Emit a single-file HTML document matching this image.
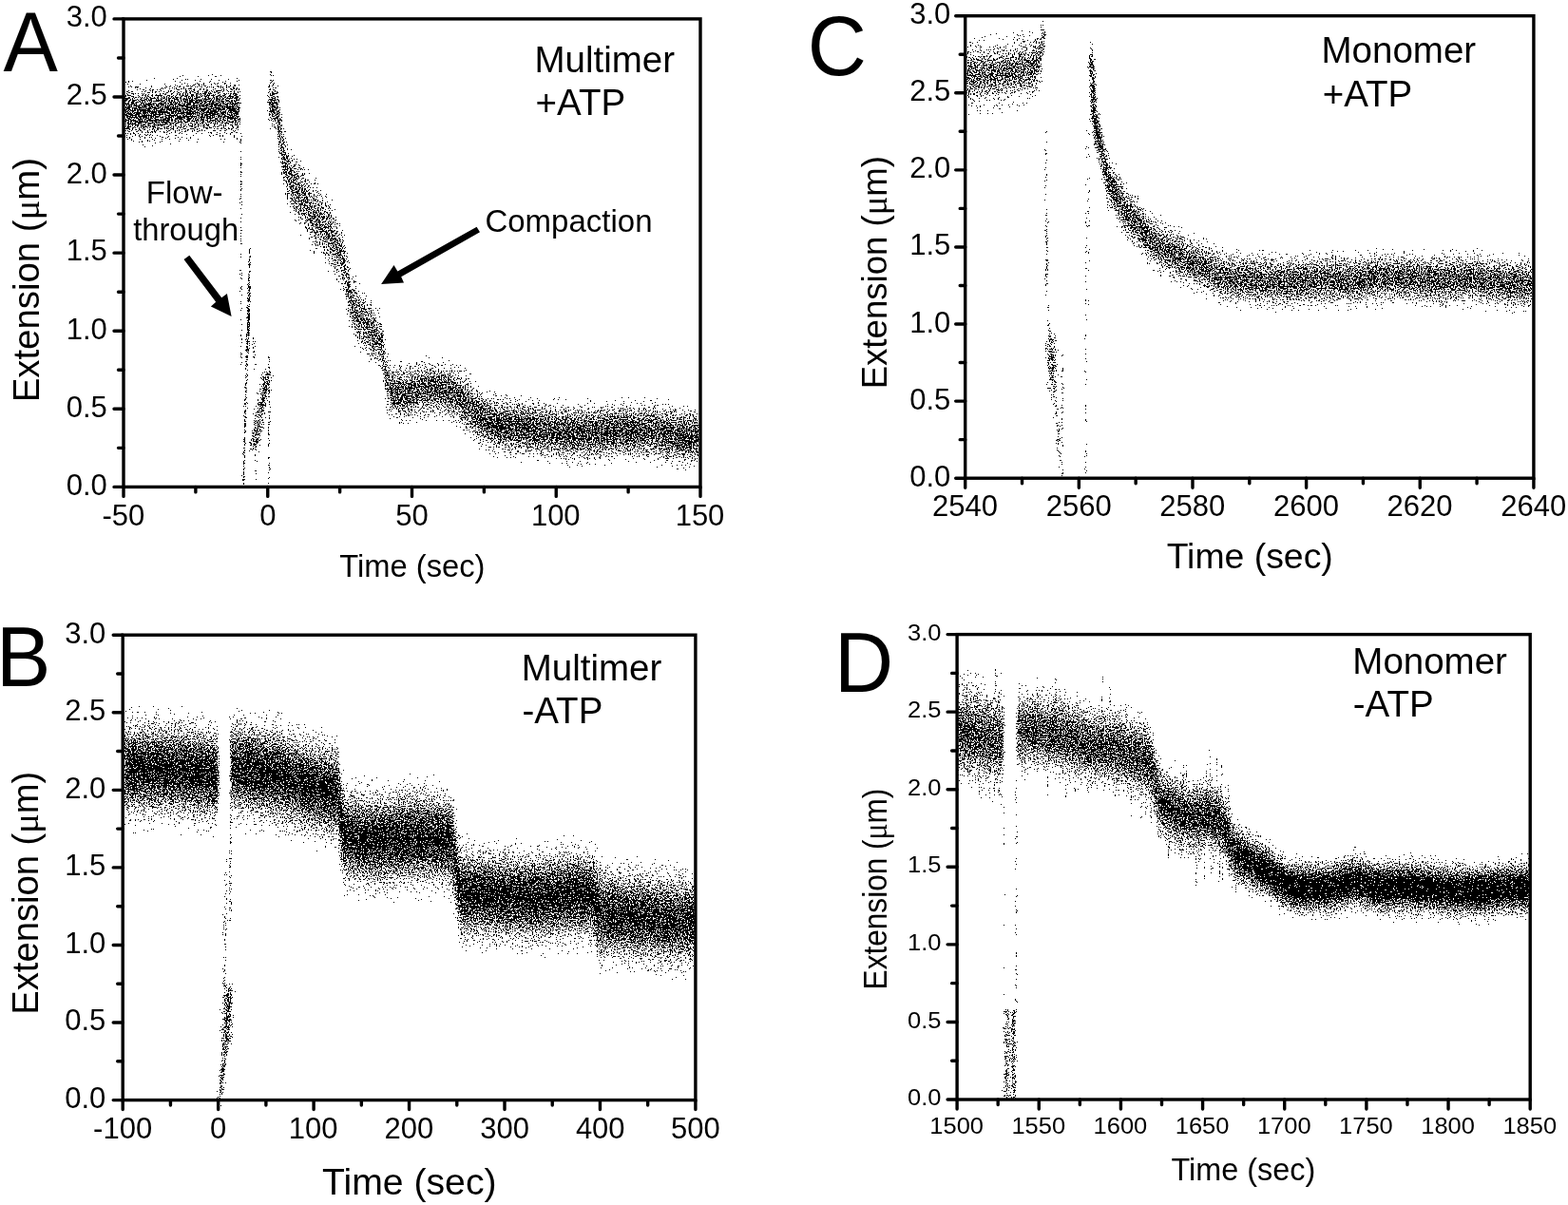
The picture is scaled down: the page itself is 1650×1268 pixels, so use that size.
<!DOCTYPE html>
<html><head><meta charset="utf-8"><title>Figure</title>
<style>html,body{margin:0;padding:0;background:#fff;}svg{display:block;}</style>
</head><body>
<svg width="1650" height="1268" viewBox="0 0 1650 1268" font-family="'Liberation Sans', Arial, Helvetica, sans-serif" fill="#000">
<rect width="1650" height="1268" fill="#fff"/>
<defs>
<filter id="fA" x="131.7" y="21.6" width="603.6" height="489.1" filterUnits="userSpaceOnUse" color-interpolation-filters="sRGB"><feGaussianBlur in="SourceAlpha" stdDeviation="0.80 2.50" result="a"/><feComponentTransfer in="a" result="d"><feFuncA type="table" tableValues="0.000 0.400 0.416 0.423 0.431 0.435 0.443 0.447 0.451 0.455 0.459 0.463 0.467 0.467 0.471 0.474 0.478 0.478 0.482 0.486 0.486 0.490 0.494 0.494 0.498 0.498 0.502 0.506 0.506 0.510 0.514 0.514 0.518 0.522 0.522 0.525 0.529 0.529 0.533 0.537 0.541 0.545 0.549 0.553 0.557 0.561 0.569 0.577 0.584 0.600 1.000"/></feComponentTransfer><feTurbulence type="fractalNoise" baseFrequency="0.71" seed="65" result="t0"/><feTurbulence type="fractalNoise" baseFrequency="0.93" seed="165" result="t1"/><feTurbulence type="fractalNoise" baseFrequency="0.57" seed="265" result="t2"/><feTurbulence type="fractalNoise" baseFrequency="0.83" seed="365" result="t3"/><feTurbulence type="fractalNoise" baseFrequency="0.61" seed="465" result="t4"/><feComposite in="t0" in2="t1" operator="arithmetic" k2="0.5" k3="0.5" result="s1"/><feComposite in="s1" in2="t2" operator="arithmetic" k2="0.6667" k3="0.3333" result="s2"/><feComposite in="s2" in2="t3" operator="arithmetic" k2="0.75" k3="0.25" result="s3"/><feComposite in="s3" in2="t4" operator="arithmetic" k2="0.8" k3="0.2" result="s4"/><feColorMatrix in="s4" type="matrix" values="0 0 0 0 0 0 0 0 0 0 0 0 0 0 0 1 0 0 0 0" result="n"/><feComposite in="d" in2="n" operator="arithmetic" k1="0" k2="1" k3="-1" k4="0.5"/><feComponentTransfer><feFuncA type="discrete" tableValues="0 1"/></feComponentTransfer><feColorMatrix type="matrix" values="0 0 0 0 0 0 0 0 0 0 0 0 0 0 0 0 0 0 1 0"/></filter>
<filter id="fB" x="130.9" y="669.9" width="599.3" height="486.0" filterUnits="userSpaceOnUse" color-interpolation-filters="sRGB"><feGaussianBlur in="SourceAlpha" stdDeviation="0.80 3.00" result="a"/><feComponentTransfer in="a" result="d"><feFuncA type="table" tableValues="0.000 0.400 0.416 0.423 0.431 0.435 0.443 0.447 0.451 0.455 0.459 0.463 0.467 0.467 0.471 0.474 0.478 0.478 0.482 0.486 0.486 0.490 0.494 0.494 0.498 0.498 0.502 0.506 0.506 0.510 0.514 0.514 0.518 0.522 0.522 0.525 0.529 0.529 0.533 0.537 0.541 0.545 0.549 0.553 0.557 0.561 0.569 0.577 0.584 0.600 1.000"/></feComponentTransfer><feTurbulence type="fractalNoise" baseFrequency="0.71" seed="66" result="t0"/><feTurbulence type="fractalNoise" baseFrequency="0.93" seed="166" result="t1"/><feTurbulence type="fractalNoise" baseFrequency="0.57" seed="266" result="t2"/><feTurbulence type="fractalNoise" baseFrequency="0.83" seed="366" result="t3"/><feTurbulence type="fractalNoise" baseFrequency="0.61" seed="466" result="t4"/><feComposite in="t0" in2="t1" operator="arithmetic" k2="0.5" k3="0.5" result="s1"/><feComposite in="s1" in2="t2" operator="arithmetic" k2="0.6667" k3="0.3333" result="s2"/><feComposite in="s2" in2="t3" operator="arithmetic" k2="0.75" k3="0.25" result="s3"/><feComposite in="s3" in2="t4" operator="arithmetic" k2="0.8" k3="0.2" result="s4"/><feColorMatrix in="s4" type="matrix" values="0 0 0 0 0 0 0 0 0 0 0 0 0 0 0 1 0 0 0 0" result="n"/><feComposite in="d" in2="n" operator="arithmetic" k1="0" k2="1" k3="-1" k4="0.5"/><feComponentTransfer><feFuncA type="discrete" tableValues="0 1"/></feComponentTransfer><feColorMatrix type="matrix" values="0 0 0 0 0 0 0 0 0 0 0 0 0 0 0 0 0 0 1 0"/></filter>
<filter id="fC" x="1017.4" y="18.4" width="594.8" height="483.1" filterUnits="userSpaceOnUse" color-interpolation-filters="sRGB"><feGaussianBlur in="SourceAlpha" stdDeviation="0.80 2.50" result="a"/><feComponentTransfer in="a" result="d"><feFuncA type="table" tableValues="0.000 0.400 0.416 0.423 0.431 0.435 0.443 0.447 0.451 0.455 0.459 0.463 0.467 0.467 0.471 0.474 0.478 0.478 0.482 0.486 0.486 0.490 0.494 0.494 0.498 0.498 0.502 0.506 0.506 0.510 0.514 0.514 0.518 0.522 0.522 0.525 0.529 0.529 0.533 0.537 0.541 0.545 0.549 0.553 0.557 0.561 0.569 0.577 0.584 0.600 1.000"/></feComponentTransfer><feTurbulence type="fractalNoise" baseFrequency="0.71" seed="67" result="t0"/><feTurbulence type="fractalNoise" baseFrequency="0.93" seed="167" result="t1"/><feTurbulence type="fractalNoise" baseFrequency="0.57" seed="267" result="t2"/><feTurbulence type="fractalNoise" baseFrequency="0.83" seed="367" result="t3"/><feTurbulence type="fractalNoise" baseFrequency="0.61" seed="467" result="t4"/><feComposite in="t0" in2="t1" operator="arithmetic" k2="0.5" k3="0.5" result="s1"/><feComposite in="s1" in2="t2" operator="arithmetic" k2="0.6667" k3="0.3333" result="s2"/><feComposite in="s2" in2="t3" operator="arithmetic" k2="0.75" k3="0.25" result="s3"/><feComposite in="s3" in2="t4" operator="arithmetic" k2="0.8" k3="0.2" result="s4"/><feColorMatrix in="s4" type="matrix" values="0 0 0 0 0 0 0 0 0 0 0 0 0 0 0 1 0 0 0 0" result="n"/><feComposite in="d" in2="n" operator="arithmetic" k1="0" k2="1" k3="-1" k4="0.5"/><feComponentTransfer><feFuncA type="discrete" tableValues="0 1"/></feComponentTransfer><feColorMatrix type="matrix" values="0 0 0 0 0 0 0 0 0 0 0 0 0 0 0 0 0 0 1 0"/></filter>
<filter id="fD" x="1008.8" y="669.3" width="599.7" height="486.0" filterUnits="userSpaceOnUse" color-interpolation-filters="sRGB"><feGaussianBlur in="SourceAlpha" stdDeviation="0.80 3.00" result="a"/><feComponentTransfer in="a" result="d"><feFuncA type="table" tableValues="0.000 0.400 0.416 0.423 0.431 0.435 0.443 0.447 0.451 0.455 0.459 0.463 0.467 0.467 0.471 0.474 0.478 0.478 0.482 0.486 0.486 0.490 0.494 0.494 0.498 0.498 0.502 0.506 0.506 0.510 0.514 0.514 0.518 0.522 0.522 0.525 0.529 0.529 0.533 0.537 0.541 0.545 0.549 0.553 0.557 0.561 0.569 0.577 0.584 0.600 1.000"/></feComponentTransfer><feTurbulence type="fractalNoise" baseFrequency="0.71" seed="68" result="t0"/><feTurbulence type="fractalNoise" baseFrequency="0.93" seed="168" result="t1"/><feTurbulence type="fractalNoise" baseFrequency="0.57" seed="268" result="t2"/><feTurbulence type="fractalNoise" baseFrequency="0.83" seed="368" result="t3"/><feTurbulence type="fractalNoise" baseFrequency="0.61" seed="468" result="t4"/><feComposite in="t0" in2="t1" operator="arithmetic" k2="0.5" k3="0.5" result="s1"/><feComposite in="s1" in2="t2" operator="arithmetic" k2="0.6667" k3="0.3333" result="s2"/><feComposite in="s2" in2="t3" operator="arithmetic" k2="0.75" k3="0.25" result="s3"/><feComposite in="s3" in2="t4" operator="arithmetic" k2="0.8" k3="0.2" result="s4"/><feColorMatrix in="s4" type="matrix" values="0 0 0 0 0 0 0 0 0 0 0 0 0 0 0 1 0 0 0 0" result="n"/><feComposite in="d" in2="n" operator="arithmetic" k1="0" k2="1" k3="-1" k4="0.5"/><feComponentTransfer><feFuncA type="discrete" tableValues="0 1"/></feComponentTransfer><feColorMatrix type="matrix" values="0 0 0 0 0 0 0 0 0 0 0 0 0 0 0 0 0 0 1 0"/></filter>
</defs>
<g filter="url(#fA)">
<polygon fill-opacity="0.020" points="131,79 135,79 139,79 143,79 147,80 151,80 155,79 159,79 163,79 167,79 171,79 175,78 179,78 183,77 187,77 191,76 195,76 199,76 203,75 207,75 211,75 215,75 219,75 223,74 227,75 231,75 235,75 239,75 243,75 247,75 250,75 252,82 252,151 250,154 247,153 243,153 239,153 235,153 231,153 227,153 223,153 219,153 215,153 211,153 207,153 203,154 199,154 195,154 191,155 187,155 183,156 179,156 175,157 171,157 167,157 163,158 159,158 155,158 151,158 147,158 143,158 139,158 135,158 131,158"/>
<polygon fill-opacity="0.041" points="131,86 135,86 139,86 143,86 147,86 151,86 155,86 159,86 163,86 167,86 171,86 175,85 179,85 183,84 187,84 191,83 195,83 199,83 203,82 207,82 211,82 215,82 219,81 223,81 227,81 231,82 235,82 239,82 243,82 247,82 250,82 252,89 252,145 250,147 247,146 243,146 239,146 235,146 231,146 227,146 223,146 219,146 215,146 211,146 207,146 203,147 199,147 195,147 191,148 187,148 183,149 179,149 175,150 171,150 167,150 163,151 159,151 155,151 151,151 147,151 143,151 139,151 135,151 131,151"/>
<polygon fill-opacity="0.064" points="131,90 135,91 139,91 143,91 147,91 151,91 155,91 159,91 163,90 167,90 171,90 175,89 179,89 183,89 187,88 191,88 195,87 199,87 203,86 207,86 211,86 215,86 219,86 223,86 227,86 231,86 235,86 239,86 243,86 247,86 250,87 252,93 252,140 250,142 247,142 243,142 239,142 235,142 231,142 227,142 223,142 219,142 215,142 211,142 207,142 203,142 199,143 195,143 191,144 187,144 183,144 179,145 175,145 171,146 167,146 163,146 159,146 155,147 151,147 147,147 143,147 139,147 135,146 131,146"/>
<polygon fill-opacity="0.091" points="131,94 135,94 139,94 143,94 147,94 151,94 155,94 159,94 163,94 167,94 171,93 175,93 179,93 183,92 187,92 191,91 195,91 199,90 203,90 207,90 211,89 215,89 219,89 223,89 227,89 231,89 235,89 239,90 243,90 247,90 250,90 252,97 252,136 250,139 247,139 243,139 239,138 235,138 231,138 227,138 223,138 219,138 215,138 211,138 207,139 203,139 199,139 195,140 191,140 187,141 183,141 179,141 175,142 171,142 167,143 163,143 159,143 155,143 151,143 147,143 143,143 139,143 135,143 131,143"/>
<polygon fill-opacity="0.125" points="131,97 135,97 139,97 143,97 147,97 151,97 155,97 159,97 163,97 167,97 171,97 175,96 179,96 183,95 187,95 191,94 195,94 199,94 203,93 207,93 211,93 215,93 219,92 223,92 227,92 231,93 235,93 239,93 243,93 247,93 250,93 252,101 252,132 250,136 247,136 243,135 239,135 235,135 231,135 227,135 223,135 219,135 215,135 211,135 207,135 203,136 199,136 195,136 191,137 187,137 183,138 179,138 175,139 171,139 167,139 163,140 159,140 155,140 151,140 147,140 143,140 139,140 135,140 131,140"/>
<polygon fill-opacity="0.143" points="131,100 135,100 139,100 143,100 147,100 151,100 155,100 159,100 163,100 167,100 171,99 175,99 179,99 183,98 187,98 191,97 195,97 199,96 203,96 207,96 211,95 215,95 219,95 223,95 227,95 231,95 235,95 239,96 243,96 247,96 250,96 252,105 252,128 250,133 247,133 243,133 239,132 235,132 231,132 227,132 223,132 219,132 215,132 211,132 207,133 203,133 199,133 195,134 191,134 187,135 183,135 179,135 175,136 171,136 167,137 163,137 159,137 155,137 151,137 147,137 143,137 139,137 135,137 131,137"/>
<polygon fill-opacity="0.167" points="131,103 135,103 139,103 143,103 147,103 151,103 155,103 159,103 163,103 167,102 171,102 175,102 179,101 183,101 187,100 191,100 195,99 199,99 203,99 207,98 211,98 215,98 219,98 223,98 227,98 231,98 235,98 239,98 243,98 247,98 250,99 252,110 252,123 250,130 247,130 243,130 239,130 235,130 231,130 227,129 223,129 219,129 215,130 211,130 207,130 203,130 199,131 195,131 191,131 187,132 183,132 179,133 175,133 171,134 167,134 163,134 159,134 155,134 151,134 147,134 143,134 139,134 135,134 131,134"/>
<polygon fill-opacity="0.200" points="131,106 135,106 139,106 143,106 147,106 151,106 155,106 159,106 163,106 167,105 171,105 175,105 179,104 183,104 187,103 191,103 195,102 199,102 203,102 207,101 211,101 215,101 219,101 223,101 227,101 231,101 235,101 239,101 243,101 247,101 250,102 252,117 252,117 250,127 247,127 243,127 239,127 235,127 231,127 227,127 223,127 219,127 215,127 211,127 207,127 203,127 199,128 195,128 191,128 187,129 183,129 179,130 175,130 171,131 167,131 163,131 159,131 155,132 151,132 147,132 143,132 139,131 135,131 131,131"/>
<polygon fill-opacity="0.250" points="131,109 135,109 139,109 143,109 147,110 151,110 155,109 159,109 163,109 167,109 171,109 175,108 179,108 183,107 187,107 191,106 195,106 199,106 203,105 207,105 211,105 215,105 219,105 223,104 227,105 231,105 235,105 239,105 243,105 247,105 250,105 252,117 252,117 250,124 247,123 243,123 239,123 235,123 231,123 227,123 223,123 219,123 215,123 211,123 207,123 203,124 199,124 195,124 191,125 187,125 183,126 179,126 175,127 171,127 167,127 163,128 159,128 155,128 151,128 147,128 143,128 139,128 135,128 131,128"/>
<polygon fill-opacity="0.267" points="131,114 135,114 139,115 143,115 147,115 151,115 155,115 159,115 163,114 167,114 171,114 175,113 179,113 183,113 187,112 191,112 195,111 199,111 203,110 207,110 211,110 215,110 219,110 223,110 227,110 231,110 235,110 239,110 243,110 247,110 250,110 252,117 252,117 250,118 247,118 243,118 239,118 235,118 231,118 227,118 223,118 219,118 215,118 211,118 207,118 203,118 199,119 195,119 191,120 187,120 183,121 179,121 175,121 171,122 167,122 163,122 159,123 155,123 151,123 147,123 143,123 139,123 135,123 131,122"/>
<polygon fill-opacity="0.020" points="283,74 287,77 291,80 293,91 295,104 296,111 299,129 303,139 305,145 307,147 311,153 315,158 319,163 322,167 323,169 327,179 331,182 335,186 339,190 340,190 343,195 346,199 347,201 351,209 352,210 355,217 358,223 359,226 362,234 363,240 366,258 367,263 370,276 371,278 375,285 376,287 379,292 383,297 384,299 387,302 391,307 392,308 395,312 399,318 400,319 403,329 406,361 407,363 411,371 412,373 415,374 419,375 423,376 427,376 430,377 431,377 435,374 439,372 440,371 443,371 447,370 451,370 455,369 459,370 463,371 467,372 470,372 471,373 475,375 479,377 482,378 483,379 487,382 491,386 492,387 495,390 499,393 502,396 503,397 507,400 511,403 512,404 515,405 519,406 523,408 525,408 527,409 531,409 535,409 539,410 543,410 547,411 551,411 555,411 559,412 563,412 567,413 571,413 575,414 579,414 583,415 587,415 591,416 595,416 599,416 600,417 603,417 607,416 611,416 615,416 619,416 623,416 627,416 631,415 635,415 639,415 643,414 647,414 650,414 651,413 655,413 659,413 663,413 667,414 671,414 675,414 679,414 683,415 687,415 691,415 695,416 699,416 700,417 703,417 707,418 711,418 715,419 719,420 723,420 727,420 731,421 735,421 735,500 731,500 727,500 723,499 719,499 715,498 711,498 707,497 703,496 700,496 699,495 695,495 691,495 687,494 683,494 679,493 675,493 671,493 667,493 663,493 659,493 655,493 651,493 650,493 647,493 643,493 639,494 635,494 631,494 627,495 623,495 619,495 615,495 611,496 607,496 603,496 600,496 599,496 595,495 591,495 587,494 583,494 579,493 575,493 571,492 567,492 563,491 559,491 555,491 551,490 547,490 543,489 539,489 535,489 531,488 527,488 525,488 523,487 519,485 515,483 512,482 511,482 507,479 503,477 502,477 499,474 495,470 492,466 491,465 487,461 483,456 482,455 479,454 475,452 471,450 470,450 467,449 463,448 459,447 455,446 451,447 447,448 443,448 440,449 439,449 435,452 431,454 430,455 427,454 423,453 419,452 415,451 412,451 411,448 407,437 406,434 403,408 400,398 399,398 395,396 392,394 391,393 387,388 384,384 383,383 379,377 376,373 375,371 371,364 370,362 367,348 366,344 363,325 362,319 359,311 358,308 355,305 352,301 351,300 347,292 346,290 343,286 340,281 339,281 335,277 331,273 327,270 323,260 322,258 319,254 315,249 311,243 307,236 305,233 303,226 299,210 296,188 295,180 293,163 291,145 287,142 283,139"/>
<polygon fill-opacity="0.041" points="283,80 287,83 291,86 293,97 295,111 296,117 299,136 303,147 305,153 307,155 311,161 315,166 319,171 322,175 323,178 327,187 331,191 335,194 339,198 340,199 343,203 346,208 347,210 351,217 352,219 355,225 358,230 359,233 362,241 363,248 366,266 367,270 370,284 371,286 375,293 376,295 379,299 383,305 384,307 387,310 391,315 392,316 395,320 399,325 400,326 403,336 406,367 407,370 411,378 412,380 415,381 419,382 423,383 427,383 430,384 431,383 435,381 439,379 440,378 443,378 447,377 451,377 455,376 459,377 463,378 467,379 470,379 471,380 475,382 479,383 482,385 483,386 487,389 491,393 492,394 495,397 499,401 502,404 503,404 507,407 511,410 512,411 515,412 519,413 523,415 525,415 527,416 531,416 535,416 539,417 543,417 547,418 551,418 555,418 559,419 563,419 567,420 571,420 575,421 579,421 583,422 587,422 591,423 595,423 599,423 600,424 603,424 607,423 611,423 615,423 619,423 623,423 627,423 631,422 635,422 639,422 643,421 647,421 650,421 651,420 655,420 659,420 663,421 667,421 671,421 675,421 679,421 683,422 687,422 691,422 695,423 699,423 700,424 703,424 707,425 711,426 715,426 719,427 723,427 727,428 731,428 735,428 735,493 731,493 727,493 723,492 719,492 715,491 711,491 707,490 703,489 700,489 699,488 695,488 691,488 687,487 683,487 679,486 675,486 671,486 667,486 663,486 659,486 655,486 651,486 650,486 647,486 643,486 639,487 635,487 631,487 627,488 623,488 619,488 615,488 611,489 607,489 603,489 600,489 599,489 595,488 591,488 587,487 583,487 579,486 575,486 571,485 567,485 563,484 559,484 555,484 551,483 547,483 543,482 539,482 535,482 531,481 527,481 525,481 523,480 519,478 515,476 512,475 511,475 507,472 503,470 502,470 499,467 495,462 492,459 491,458 487,454 483,449 482,448 479,447 475,445 471,443 470,443 467,442 463,441 459,440 455,440 451,440 447,441 443,442 440,442 439,442 435,445 431,447 430,448 427,447 423,446 419,445 415,445 412,444 411,441 407,430 406,428 403,401 400,391 399,391 395,388 392,386 391,385 387,380 384,377 383,375 379,369 376,365 375,363 371,356 370,354 367,340 366,336 363,318 362,311 359,303 358,300 355,297 352,293 351,291 347,284 346,282 343,278 340,273 339,272 335,269 331,265 327,261 323,252 322,249 319,246 315,240 311,234 307,228 305,225 303,218 299,203 296,181 295,173 293,156 291,140 287,136 283,133"/>
<polygon fill-opacity="0.064" points="283,83 287,86 291,89 293,101 295,115 296,122 299,141 303,152 305,158 307,161 311,166 315,172 319,177 322,181 323,183 327,193 331,196 335,200 339,203 340,204 343,209 346,213 347,215 351,222 352,224 355,230 358,236 359,238 362,247 363,253 366,271 367,275 370,289 371,291 375,298 376,300 379,304 383,310 384,312 387,315 391,320 392,321 395,325 399,330 400,331 403,341 406,372 407,374 411,383 412,385 415,385 419,386 423,387 427,388 430,388 431,388 435,385 439,383 440,383 443,382 447,382 451,381 455,380 459,381 463,382 467,383 470,383 471,384 475,386 479,388 482,389 483,390 487,394 491,398 492,398 495,401 499,405 502,408 503,409 507,411 511,414 512,415 515,416 519,417 523,419 525,420 527,420 531,420 535,421 539,421 543,421 547,422 551,422 555,423 559,423 563,424 567,424 571,424 575,425 579,425 583,426 587,426 591,427 595,427 599,428 600,428 603,428 607,428 611,428 615,428 619,427 623,427 627,427 631,427 635,426 639,426 643,426 647,425 650,425 651,425 655,425 659,425 663,425 667,425 671,425 675,425 679,426 683,426 687,426 691,427 695,427 699,428 700,428 703,428 707,429 711,430 715,430 719,431 723,431 727,432 731,432 735,432 735,489 731,489 727,488 723,488 719,487 715,487 711,486 707,486 703,485 700,484 699,484 695,484 691,483 687,483 683,482 679,482 675,482 671,482 667,481 663,481 659,481 655,481 651,481 650,481 647,482 643,482 639,483 635,483 631,483 627,483 623,484 619,484 615,484 611,484 607,484 603,484 600,484 599,484 595,484 591,483 587,483 583,483 579,482 575,482 571,481 567,481 563,480 559,480 555,479 551,479 547,478 543,478 539,478 535,477 531,477 527,477 525,476 523,475 519,474 515,472 512,471 511,470 507,468 503,466 502,465 499,462 495,458 492,455 491,454 487,449 483,445 482,444 479,443 475,441 471,439 470,438 467,438 463,437 459,436 455,435 451,436 447,437 443,437 440,438 439,438 435,440 431,443 430,443 427,443 423,442 419,441 415,440 412,440 411,437 407,426 406,423 403,396 400,386 399,386 395,383 392,381 391,380 387,375 384,371 383,370 379,364 376,360 375,358 371,351 370,349 367,335 366,331 363,312 362,306 359,298 358,295 355,291 352,288 351,286 347,278 346,277 343,272 340,268 339,267 335,263 331,260 327,256 323,246 322,244 319,240 315,235 311,229 307,223 305,220 303,213 299,198 296,177 295,169 293,153 291,136 287,133 283,130"/>
<polygon fill-opacity="0.091" points="283,86 287,89 291,92 293,104 295,118 296,125 299,144 303,156 305,162 307,165 311,171 315,176 319,181 322,185 323,188 327,197 331,201 335,205 339,208 340,209 343,213 346,218 347,220 351,227 352,229 355,235 358,240 359,243 362,251 363,257 366,275 367,280 370,293 371,295 375,303 376,304 379,309 383,315 384,316 387,320 391,324 392,326 395,329 399,334 400,335 403,345 406,376 407,378 411,386 412,388 415,389 419,390 423,390 427,391 430,392 431,391 435,389 439,387 440,386 443,386 447,385 451,384 455,384 459,385 463,385 467,386 470,387 471,387 475,389 479,391 482,393 483,394 487,397 491,401 492,402 495,405 499,409 502,412 503,412 507,415 511,418 512,418 515,419 519,421 523,422 525,423 527,423 531,424 535,424 539,424 543,425 547,425 551,426 555,426 559,427 563,427 567,427 571,428 575,428 579,429 583,429 587,430 591,430 595,431 599,431 600,431 603,431 607,431 611,431 615,431 619,431 623,431 627,430 631,430 635,430 639,429 643,429 647,429 650,428 651,428 655,428 659,428 663,428 667,428 671,429 675,429 679,429 683,429 687,430 691,430 695,431 699,431 700,431 703,432 707,433 711,433 715,434 719,434 723,435 727,435 731,436 735,436 735,486 731,485 727,485 723,485 719,484 715,483 711,483 707,482 703,482 700,481 699,481 695,480 691,480 687,479 683,479 679,479 675,478 671,478 667,478 663,478 659,478 655,478 651,478 650,478 647,478 643,479 639,479 635,479 631,480 627,480 623,480 619,480 615,481 611,481 607,481 603,481 600,481 599,481 595,480 591,480 587,480 583,479 579,479 575,478 571,478 567,477 563,477 559,476 555,476 551,475 547,475 543,475 539,474 535,474 531,473 527,473 525,473 523,472 519,470 515,469 512,467 511,467 507,464 503,462 502,462 499,459 495,454 492,451 491,450 487,446 483,441 482,440 479,439 475,437 471,435 470,435 467,434 463,434 459,433 455,432 451,432 447,433 443,434 440,434 439,435 435,437 431,439 430,440 427,439 423,438 419,438 415,437 412,436 411,434 407,422 406,419 403,392 400,382 399,382 395,379 392,377 391,376 387,371 384,367 383,366 379,360 376,356 375,354 371,346 370,344 367,331 366,326 363,308 362,302 359,293 358,290 355,287 352,283 351,281 347,274 346,272 343,267 340,263 339,262 335,258 331,255 327,251 323,242 322,239 319,235 315,230 311,224 307,218 305,215 303,208 299,194 296,173 295,165 293,149 291,133 287,130 283,127"/>
<polygon fill-opacity="0.125" points="283,89 287,92 291,95 293,107 295,121 296,129 299,148 303,160 305,167 307,170 311,175 315,181 319,186 322,190 323,192 327,202 331,205 335,209 339,213 340,214 343,218 346,222 347,224 351,232 352,234 355,239 358,244 359,247 362,255 363,261 366,279 367,284 370,298 371,299 375,307 376,309 379,313 383,319 384,320 387,324 391,329 392,330 395,333 399,338 400,339 403,349 406,379 407,381 411,389 412,391 415,392 419,393 423,394 427,394 430,395 431,394 435,392 439,390 440,389 443,389 447,388 451,388 455,387 459,388 463,389 467,390 470,390 471,391 475,393 479,395 482,396 483,397 487,401 491,405 492,405 495,408 499,412 502,415 503,416 507,418 511,421 512,422 515,423 519,424 523,426 525,426 527,427 531,427 535,427 539,428 543,428 547,428 551,429 555,429 559,430 563,430 567,431 571,431 575,432 579,432 583,433 587,433 591,433 595,434 599,434 600,434 603,434 607,434 611,434 615,434 619,434 623,434 627,433 631,433 635,433 639,433 643,432 647,432 650,432 651,431 655,431 659,431 663,431 667,432 671,432 675,432 679,432 683,432 687,433 691,433 695,434 699,434 700,434 703,435 707,436 711,436 715,437 719,438 723,438 727,438 731,439 735,439 735,482 731,482 727,482 723,481 719,481 715,480 711,480 707,479 703,478 700,478 699,477 695,477 691,477 687,476 683,476 679,476 675,475 671,475 667,475 663,475 659,475 655,475 651,475 650,475 647,475 643,476 639,476 635,476 631,477 627,477 623,477 619,477 615,477 611,478 607,478 603,478 600,478 599,478 595,477 591,477 587,476 583,476 579,475 575,475 571,474 567,474 563,474 559,473 555,473 551,472 547,472 543,471 539,471 535,471 531,470 527,470 525,470 523,469 519,467 515,465 512,464 511,464 507,461 503,459 502,458 499,455 495,451 492,448 491,447 487,442 483,438 482,437 479,436 475,434 471,432 470,432 467,431 463,430 459,429 455,428 451,429 447,430 443,430 440,431 439,431 435,434 431,436 430,437 427,436 423,435 419,434 415,434 412,433 411,430 407,419 406,416 403,388 400,379 399,378 395,375 392,372 391,371 387,367 384,363 383,362 379,356 376,351 375,350 371,342 370,340 367,327 366,322 363,304 362,298 359,289 358,286 355,282 352,278 351,277 347,269 346,267 343,263 340,258 339,258 335,254 331,250 327,247 323,237 322,235 319,231 315,226 311,220 307,214 305,211 303,204 299,191 296,170 295,162 293,146 291,130 287,127 283,124"/>
<polygon fill-opacity="0.143" points="283,91 287,94 291,97 293,110 295,124 296,131 299,151 303,164 305,171 307,174 311,179 315,185 319,190 322,194 323,196 327,206 331,210 335,213 339,217 340,218 343,222 346,227 347,228 351,236 352,238 355,243 358,248 359,251 362,259 363,265 366,283 367,288 370,301 371,303 375,311 376,312 379,317 383,323 384,324 387,328 391,332 392,333 395,337 399,341 400,342 403,352 406,382 407,384 411,392 412,394 415,395 419,396 423,396 427,397 430,398 431,397 435,395 439,393 440,392 443,392 447,391 451,390 455,390 459,391 463,392 467,392 470,393 471,393 475,395 479,397 482,399 483,400 487,404 491,408 492,408 495,411 499,415 502,418 503,418 507,421 511,424 512,424 515,425 519,427 523,428 525,429 527,429 531,430 535,430 539,430 543,431 547,431 551,432 555,432 559,432 563,433 567,433 571,434 575,434 579,435 583,435 587,436 591,436 595,437 599,437 600,437 603,437 607,437 611,437 615,437 619,437 623,436 627,436 631,436 635,436 639,435 643,435 647,435 650,434 651,434 655,434 659,434 663,434 667,434 671,434 675,435 679,435 683,435 687,436 691,436 695,436 699,437 700,437 703,438 707,438 711,439 715,440 719,440 723,441 727,441 731,441 735,442 735,480 731,479 727,479 723,479 719,478 715,478 711,477 707,476 703,476 700,475 699,475 695,474 691,474 687,474 683,473 679,473 675,473 671,472 667,472 663,472 659,472 655,472 651,472 650,472 647,472 643,473 639,473 635,474 631,474 627,474 623,474 619,475 615,475 611,475 607,475 603,475 600,475 599,475 595,475 591,474 587,474 583,473 579,473 575,472 571,472 567,471 563,471 559,470 555,470 551,470 547,469 543,469 539,468 535,468 531,468 527,467 525,467 523,466 519,464 515,463 512,461 511,461 507,458 503,456 502,455 499,452 495,448 492,445 491,444 487,439 483,435 482,434 479,433 475,431 471,429 470,429 467,428 463,427 459,427 455,426 451,426 447,427 443,428 440,428 439,429 435,431 431,433 430,434 427,433 423,432 419,431 415,431 412,430 411,427 407,416 406,413 403,385 400,375 399,374 395,371 392,369 391,368 387,363 384,359 383,358 379,352 376,348 375,346 371,338 370,337 367,323 366,318 363,300 362,294 359,285 358,282 355,278 352,274 351,272 347,265 346,263 343,259 340,254 339,253 335,250 331,246 327,243 323,233 322,231 319,227 315,222 311,216 307,210 305,207 303,201 299,188 296,167 295,159 293,144 291,128 287,125 283,122"/>
<polygon fill-opacity="0.167" points="283,93 287,96 291,100 293,112 295,127 296,134 299,155 303,168 305,175 307,178 311,184 315,189 319,195 322,198 323,201 327,210 331,214 335,218 339,221 340,222 343,227 346,231 347,233 351,240 352,242 355,247 358,252 359,255 362,263 363,269 366,287 367,292 370,305 371,307 375,315 376,316 379,321 383,327 384,328 387,332 391,336 392,337 395,341 399,345 400,346 403,356 406,386 407,387 411,395 412,397 415,398 419,398 423,399 427,400 430,401 431,400 435,398 439,395 440,395 443,395 447,394 451,393 455,393 459,393 463,394 467,395 470,396 471,396 475,398 479,400 482,402 483,403 487,407 491,411 492,411 495,414 499,418 502,421 503,421 507,424 511,427 512,427 515,428 519,429 523,431 525,432 527,432 531,432 535,433 539,433 543,433 547,434 551,434 555,435 559,435 563,435 567,436 571,436 575,437 579,437 583,438 587,438 591,439 595,439 599,440 600,440 603,440 607,440 611,440 615,439 619,439 623,439 627,439 631,439 635,438 639,438 643,438 647,437 650,437 651,437 655,437 659,437 663,437 667,437 671,437 675,437 679,438 683,438 687,438 691,439 695,439 699,439 700,440 703,440 707,441 711,442 715,442 719,443 723,443 727,444 731,444 735,444 735,477 731,477 727,476 723,476 719,476 715,475 711,474 707,474 703,473 700,472 699,472 695,472 691,471 687,471 683,471 679,470 675,470 671,470 667,470 663,469 659,469 655,469 651,469 650,470 647,470 643,470 639,471 635,471 631,471 627,471 623,472 619,472 615,472 611,472 607,472 603,472 600,472 599,472 595,472 591,471 587,471 583,471 579,470 575,470 571,469 567,469 563,468 559,468 555,467 551,467 547,466 543,466 539,466 535,465 531,465 527,465 525,464 523,463 519,462 515,460 512,459 511,458 507,455 503,453 502,452 499,449 495,445 492,442 491,441 487,437 483,432 482,431 479,430 475,428 471,426 470,426 467,425 463,425 459,424 455,423 451,424 447,424 443,425 440,425 439,426 435,428 431,430 430,431 427,430 423,429 419,429 415,428 412,427 411,424 407,412 406,409 403,381 400,371 399,371 395,367 392,365 391,364 387,359 384,355 383,354 379,348 376,344 375,342 371,334 370,333 367,319 366,314 363,296 362,290 359,281 358,278 355,274 352,270 351,268 347,261 346,259 343,254 340,250 339,249 335,245 331,242 327,238 323,229 322,226 319,222 315,217 311,212 307,206 305,203 303,197 299,184 296,164 295,157 293,141 291,126 287,123 283,120"/>
<polygon fill-opacity="0.200" points="283,96 287,99 291,102 293,115 295,130 296,137 299,158 303,172 305,180 307,183 311,189 315,195 319,201 322,204 323,207 327,216 331,220 335,224 339,227 340,228 343,232 346,237 347,239 351,246 352,248 355,253 358,258 359,260 362,268 363,274 366,292 367,297 370,310 371,312 375,320 376,321 379,326 383,332 384,333 387,337 391,341 392,343 395,346 399,350 400,351 403,361 406,390 407,391 411,398 412,400 415,401 419,401 423,402 427,403 430,404 431,403 435,401 439,399 440,398 443,398 447,397 451,396 455,396 459,397 463,397 467,398 470,399 471,399 475,401 479,403 482,405 483,406 487,410 491,414 492,415 495,418 499,421 502,424 503,425 507,427 511,430 512,430 515,431 519,432 523,434 525,434 527,435 531,435 535,435 539,436 543,436 547,437 551,437 555,437 559,438 563,438 567,439 571,439 575,440 579,440 583,441 587,441 591,442 595,442 599,442 600,443 603,443 607,443 611,442 615,442 619,442 623,442 627,442 631,441 635,441 639,441 643,440 647,440 650,440 651,440 655,439 659,439 663,440 667,440 671,440 675,440 679,440 683,441 687,441 691,441 695,442 699,442 700,443 703,443 707,444 711,445 715,445 719,446 723,446 727,447 731,447 735,447 735,474 731,474 727,474 723,473 719,473 715,472 711,472 707,471 703,470 700,470 699,469 695,469 691,468 687,468 683,468 679,467 675,467 671,467 667,467 663,467 659,467 655,467 651,467 650,467 647,467 643,467 639,468 635,468 631,468 627,469 623,469 619,469 615,469 611,469 607,470 603,470 600,470 599,469 595,469 591,469 587,468 583,468 579,467 575,467 571,466 567,466 563,465 559,465 555,464 551,464 547,464 543,463 539,463 535,462 531,462 527,462 525,462 523,461 519,459 515,457 512,456 511,455 507,452 503,450 502,449 499,446 495,442 492,438 491,437 487,433 483,429 482,428 479,427 475,425 471,423 470,423 467,422 463,422 459,421 455,420 451,420 447,421 443,422 440,422 439,423 435,425 431,427 430,428 427,427 423,426 419,426 415,425 412,424 411,421 407,408 406,405 403,377 400,367 399,366 395,362 392,360 391,359 387,354 384,350 383,349 379,343 376,339 375,337 371,329 370,327 367,314 366,309 363,291 362,285 359,276 358,273 355,268 352,264 351,262 347,255 346,253 343,248 340,244 339,243 335,239 331,236 327,232 323,223 322,220 319,216 315,211 311,206 307,201 305,198 303,192 299,180 296,161 295,154 293,139 291,123 287,120 283,117"/>
<polygon fill-opacity="0.250" points="283,99 287,102 291,105 293,119 295,134 296,141 299,164 303,182 303,182 299,175 296,157 295,150 293,135 291,120 287,117 283,114"/>
<polygon fill-opacity="0.250" points="407,400 411,403 412,404 415,405 419,405 423,406 427,407 430,408 431,407 435,405 439,403 440,402 443,402 447,401 451,400 455,400 459,401 463,401 467,402 470,403 471,403 475,405 479,408 482,409 483,410 487,414 491,419 492,420 495,422 499,426 502,428 503,429 507,431 511,433 512,434 515,435 519,436 523,437 525,438 527,438 531,438 535,439 539,439 543,440 547,440 551,440 555,441 559,441 563,442 567,442 571,443 575,443 579,444 583,444 587,445 591,445 595,445 599,446 600,446 603,446 607,446 611,446 615,446 619,446 623,445 627,445 631,445 635,444 639,444 643,444 647,443 650,443 651,443 655,443 659,443 663,443 667,443 671,443 675,443 679,444 683,444 687,444 691,445 695,445 699,446 700,446 703,447 707,447 711,448 715,449 719,449 723,450 727,450 731,450 735,451 735,471 731,471 727,470 723,470 719,469 715,469 711,468 707,468 703,467 700,466 699,466 695,465 691,465 687,465 683,464 679,464 675,464 671,463 667,463 663,463 659,463 655,463 651,463 650,463 647,464 643,464 639,464 635,465 631,465 627,465 623,465 619,466 615,466 611,466 607,466 603,466 600,466 599,466 595,466 591,465 587,465 583,464 579,464 575,463 571,463 567,462 563,462 559,461 555,461 551,461 547,460 543,460 539,459 535,459 531,459 527,458 525,458 523,457 519,455 515,453 512,452 511,451 507,449 503,446 502,445 499,442 495,437 492,433 491,433 487,429 483,425 482,424 479,423 475,421 471,419 470,419 467,418 463,418 459,417 455,416 451,416 447,417 443,418 440,418 439,419 435,421 431,423 430,424 427,423 423,422 419,422 415,421 412,420 411,417 407,400"/>
<polygon fill-opacity="0.267" points="283,103 287,106 291,109 293,123 295,140 296,149 296,149 295,144 293,131 291,116 287,113 283,110"/>
<polygon fill-opacity="0.267" points="503,437 507,437 511,439 512,439 515,439 519,440 523,442 525,442 527,442 531,443 535,443 539,444 543,444 547,444 551,445 555,445 559,446 563,446 567,446 571,447 575,447 579,448 583,448 587,449 591,449 595,450 599,450 600,450 603,450 607,450 611,450 615,450 619,450 623,450 627,449 631,449 635,449 639,448 643,448 647,448 650,447 651,447 655,447 659,447 663,447 667,447 671,448 675,448 679,448 683,448 687,449 691,449 695,450 699,450 700,450 703,451 707,452 711,452 715,453 719,453 723,454 727,454 731,455 735,455 735,467 731,466 727,466 723,465 719,465 715,464 711,464 707,463 703,463 700,462 699,462 695,461 691,461 687,460 683,460 679,460 675,459 671,459 667,459 663,459 659,459 655,459 651,459 650,459 647,459 643,460 639,460 635,460 631,461 627,461 623,461 619,461 615,462 611,462 607,462 603,462 600,462 599,462 595,461 591,461 587,461 583,460 579,460 575,459 571,459 567,458 563,458 559,457 555,457 551,456 547,456 543,456 539,455 535,455 531,454 527,454 525,454 523,453 519,451 515,449 512,447 511,446 507,442 503,437"/>
</g>
<path fill="none" stroke="#000" stroke-width="1" transform="translate(.5 0)" d="M252 126v1m0 1v1m0 20v1m0 59v1m0 3v1m0 70v1m0 3v1m0 17v1m1-167v1m0 5v1m0 0v1m0 0v1m0 1v1m0 8v1m0 5v1m0 1v1m0 3v1m0 0v1m0 0v1m0 0v1m0 1v1m0 3v1m0 0v1m0 1v1m0 1v1m0 4v1m0 0v1m0 1v1m0 0v1m0 1v1m0 2v1m0 0v1m0 3v1m0 1v1m0 1v1m0 10v1m0 9v1m0 3v1m0 5v1m0 2v1m0 2v1m0 2v1m0 2v1m0 1v1m0 2v1m0 10v1m0 2v1m0 13v1m0 7v1m0 9v1m0 0v1m0 13v1m0 1v1m0 6v1m0 9v1m0 15v1m0 0v1m0 10v1m0 6v1m0 1v1m0 1v1m0 7v1m1-241v1m0 28v1m0 8v1m0 9v1m0 1v1m0 4v1m0 13v1m0 2v1m0 9v1m0 16v1m0 13v1m0 30v1m0 1v1m0 3v1m0 7v1m0 2v1m0 5v1m0 13v1m0 16v1m0 5v1m0 8v1m0 0v1m0 2v1m0 11v1m0 3v1m0 4v1m0 118v1m1-24v1m0 26v1m0 0v1m1-79v1m0 9v1m0 24v1m0 1v1m0 6v1m0 3v1m0 0v1m0 1v1m0 6v1m0 0v1m0 0v1m0 0v1m0 1v1m0 2v1m0 0v1m0 1v1m0 0v1m0 0v1m0 0v1m0 1v1m0 0v1m0 1v1m0 0v1m0 2v1m0 0v1m1-103v1m0 12v1m0 0v1m0 2v1m0 0v1m0 6v1m0 0v1m0 0v1m0 3v1m0 2v1m0 0v1m0 0v1m0 1v1m0 0v1m0 0v1m0 0v1m0 0v1m0 2v1m0 1v1m0 0v1m0 4v1m0 0v1m0 0v1m0 0v1m0 0v1m0 0v1m0 1v1m0 0v1m0 2v1m0 1v1m0 0v1m0 1v1m0 2v1m0 0v1m0 0v1m0 2v1m0 2v1m0 4v1m0 8v1m0 2v1m1-148v1m0 10v1m0 6v1m0 4v1m0 3v1m0 2v1m0 0v1m0 6v1m0 1v1m0 5v1m0 0v1m0 0v1m0 1v1m0 0v1m0 2v1m0 0v1m0 2v1m0 1v1m0 1v1m0 0v1m0 3v1m0 0v1m0 1v1m0 3v1m0 0v1m0 0v1m0 1v1m0 2v1m0 0v1m0 3v1m0 1v1m0 0v1m0 0v1m0 0v1m0 4v1m0 0v1m0 11v1m1-144v1m0 10v1m0 16v1m0 0v1m0 0v1m0 0v1m0 1v1m0 2v1m0 1v1m0 2v1m0 0v1m0 1v1m0 0v1m0 0v1m0 4v1m0 0v1m0 0v1m0 1v1m0 1v1m0 1v1m0 0v1m0 1v1m0 7v1m0 2v1m0 3v1m0 1v1m0 0v1m0 4v1m0 1v1m0 1v1m0 5v1m0 4v1m0 15v1m1-141v1m0 3v1m0 4v1m0 4v1m0 0v1m0 1v1m0 4v1m0 1v1m0 0v1m0 1v1m0 0v1m0 1v1m0 0v1m0 2v1m0 0v1m0 2v1m0 1v1m0 0v1m0 0v1m0 0v1m0 0v1m0 0v1m0 0v1m0 0v1m0 0v1m0 1v1m0 0v1m0 1v1m0 4v1m0 0v1m0 0v1m0 0v1m0 0v1m0 0v1m0 1v1m0 0v1m0 0v1m0 0v1m0 0v1m0 1v1m0 3v1m0 0v1m0 0v1m0 1v1m0 4v1m0 0v1m0 4v1m0 4v1m0 0v1m0 3v1m0 24v1m0 4v1m1-155v1m0 2v1m0 9v1m0 1v1m0 1v1m0 0v1m0 0v1m0 0v1m0 2v1m0 1v1m0 0v1m0 0v1m0 2v1m0 1v1m0 2v1m0 0v1m0 2v1m0 0v1m0 0v1m0 0v1m0 4v1m0 1v1m0 0v1m0 0v1m0 0v1m0 0v1m0 1v1m0 0v1m0 0v1m0 0v1m0 0v1m0 0v1m0 0v1m0 0v1m0 0v1m0 0v1m0 1v1m0 1v1m0 0v1m0 1v1m0 0v1m0 0v1m0 0v1m0 0v1m0 0v1m0 0v1m0 0v1m0 1v1m0 0v1m0 2v1m0 7v1m0 0v1m0 0v1m0 1v1m1-110v1m0 0v1m0 0v1m0 0v1m0 0v1m0 3v1m0 1v1m0 0v1m0 0v1m0 2v1m0 0v1m0 0v1m0 0v1m0 0v1m0 3v1m0 0v1m0 2v1m0 1v1m0 0v1m0 2v1m0 1v1m0 1v1m0 1v1m0 0v1m0 0v1m0 0v1m0 0v1m0 0v1m0 1v1m0 0v1m0 0v1m0 1v1m0 0v1m0 0v1m0 0v1m0 0v1m0 3v1m0 1v1m0 2v1m0 0v1m0 0v1m0 1v1m0 0v1m0 0v1m0 0v1m0 0v1m0 0v1m0 0v1m0 0v1m0 2v1m0 0v1m0 0v1m0 0v1m0 0v1m0 1v1m0 1v1m0 2v1m0 1v1m0 6v1m0 1v1m0 1v1m0 2v1m0 98v1m0 8v1m1-214v1m0 7v1m0 0v1m0 5v1m0 1v1m0 6v1m0 15v1m0 0v1m0 0v1m0 4v1m0 2v1m0 5v1m0 147v1m0 0v1m0 1v1m0 3v1m1-11v1m0 0v1m0 2v1m0 0v1m0 0v1m0 3v1m1-111v1m0 90v1m0 1v1m0 2v1m0 2v1m0 11v1m1-119v1m0 0v1m0 2v1m0 5v1m0 0v1m0 3v1m0 4v1m0 59v1m0 19v1m0 0v1m0 1v1m0 0v1m0 1v1m0 0v1m0 0v1m0 0v1m0 2v1m0 1v1m0 1v1m0 0v1m1-112v1m0 7v1m0 0v1m0 4v1m0 0v1m0 11v1m0 41v1m0 11v1m0 1v1m0 1v1m0 4v1m0 0v1m0 0v1m0 1v1m0 3v1m0 2v1m0 1v1m0 1v1m0 0v1m0 0v1m1-110v1m0 4v1m0 8v1m0 9v1m0 53v1m0 2v1m0 2v1m0 1v1m0 1v1m0 1v1m0 0v1m0 1v1m0 0v1m0 3v1m0 0v1m0 1v1m0 3v1m0 2v1m0 0v1m0 1v1m0 1v1m0 5v1m0 0v1m0 4v1m0 10v1m1-113v1m0 43v1m0 6v1m0 1v1m0 0v1m0 4v1m0 0v1m0 1v1m0 4v1m0 2v1m0 0v1m0 0v1m0 0v1m0 0v1m0 2v1m0 1v1m0 0v1m0 0v1m0 0v1m0 1v1m0 1v1m0 0v1m0 2v1m0 21v1m0 2v1m0 5v1m1-92v1m0 19v1m0 4v1m0 5v1m0 2v1m0 3v1m0 0v1m0 0v1m0 1v1m0 1v1m0 3v1m0 0v1m0 0v1m0 0v1m0 0v1m0 0v1m0 18v1m1-72v1m0 5v1m0 0v1m0 2v1m0 0v1m0 3v1m0 2v1m0 0v1m0 0v1m0 1v1m0 1v1m0 3v1m0 0v1m0 0v1m0 0v1m0 0v1m0 1v1m0 0v1m0 0v1m0 0v1m0 1v1m0 0v1m0 1v1m0 0v1m0 3v1m0 0v1m0 1v1m0 0v1m1-43v1m0 1v1m0 0v1m0 4v1m0 1v1m0 2v1m0 2v1m0 2v1m0 3v1m0 0v1m0 0v1m0 7v1m0 0v1m0 2v1m0 2v1m0 11v1m1-72v1m0 4v1m0 1v1m0 11v1m0 1v1m0 1v1m0 1v1m0 0v1m0 1v1m0 1v1m0 1v1m0 0v1m0 3v1m0 1v1m0 0v1m0 0v1m0 2v1m0 0v1m0 1v1m0 0v1m0 0v1m0 2v1m0 1v1m0 4v1m0 4v1m1-72v1m0 11v1m0 4v1m0 3v1m0 4v1m0 0v1m0 0v1m0 0v1m0 0v1m0 1v1m0 3v1m0 3v1m0 0v1m0 10v1m0 2v1m0 1v1m0 7v1m1-69v1m0 3v1m0 7v1m0 6v1m0 1v1m0 3v1m0 0v1m0 2v1m0 0v1m0 0v1m0 0v1m0 1v1m0 0v1m0 0v1m0 0v1m0 0v1m0 0v1m0 1v1m0 0v1m0 2v1m0 2v1m0 3v1m0 2v1m0 3v1m1-62v1m0 3v1m0 2v1m0 4v1m0 3v1m0 2v1m0 1v1m0 1v1m0 0v1m0 0v1m0 0v1m0 0v1m0 0v1m0 0v1m0 0v1m0 0v1m0 1v1m0 0v1m0 0v1m0 0v1m0 2v1m0 0v1m0 2v1m0 5v1m0 0v1m0 1v1m0 4v1m1-54v1m0 0v1m0 0v1m0 0v1m0 0v1m0 2v1m0 0v1m0 0v1m0 0v1m0 1v1m0 0v1m0 0v1m0 0v1m0 1v1m0 1v1m0 2v1m0 0v1m0 0v1m0 0v1m0 0v1m0 2v1m0 0v1m0 2v1m0 1v1m0 0v1m0 11v1m0 1v1m0 3v1m1-60v1m0 5v1m0 3v1m0 0v1m0 0v1m0 0v1m0 2v1m0 0v1m0 0v1m0 0v1m0 1v1m0 0v1m0 0v1m0 1v1m0 1v1m0 0v1m0 1v1m0 1v1m0 2v1m0 7v1m0 0v1m1-48v1m0 5v1m0 1v1m0 0v1m0 0v1m0 0v1m0 2v1m0 2v1m0 0v1m0 0v1m0 1v1m0 0v1m0 0v1m0 0v1m0 0v1m0 1v1m0 0v1m0 0v1m0 6v1m0 0v1m0 0v1m0 0v1m0 11v1m1-49v1m0 1v1m0 0v1m0 4v1m0 1v1m0 1v1m0 1v1m0 0v1m0 0v1m0 0v1m0 0v1m0 0v1m0 0v1m0 1v1m0 3v1m0 1v1m1-28v1m0 0v1m0 0v1m0 1v1m0 0v1m0 1v1m0 1v1m0 0v1m0 0v1m0 0v1m0 4v1m0 11v1m1-47v1m0 0v1m0 6v1m0 2v1m0 6v1m0 0v1m0 1v1m0 0v1m0 0v1m0 1v1m0 2v1m0 0v1m0 0v1m0 2v1m0 1v1m0 0v1m0 2v1m0 2v1m0 15v1m0 10v1m0 1v1m0 2v1m0 0v1m0 1v1m0 0v1m0 1v1m0 0v1m0 0v1m0 3v1m0 5v1m0 0v1m0 0v1m0 11v1m0 0v1m0 6v1m0 7v1m0 5v1m0 4v1m1-133v1m0 1v1m0 1v1m0 5v1m0 0v1m0 2v1m0 0v1m0 1v1m0 0v1m0 5v1m0 0v1m0 0v1m0 1v1m0 2v1m0 2v1m0 0v1m0 0v1m0 0v1m0 3v1m0 4v1m0 0v1m0 1v1m0 7v1m0 3v1m0 1v1m0 0v1m0 3v1m0 1v1m0 10v1m0 5v1m0 2v1m0 14v1m0 5v1m0 1v1m0 1v1m0 0v1m0 1v1m0 7v1m1-428v1m0 2v1m0 312v1m0 0v1m0 1v1m0 33v1m0 4v1m0 9v1m0 49v1m1-419v1m0 0v1m0 2v1m0 4v1m0 1v1m0 310v1m0 2v1m0 9v1m1-326v1m1-7v1m0 4v1m0 7v1m0 302v1m1-309v1"/>
<g filter="url(#fB)">
<polygon fill-opacity="0.020" points="131,738 135,737 139,737 143,737 147,737 151,737 155,737 159,737 163,737 166,737 170,737 174,737 178,737 182,738 186,738 190,738 194,739 198,740 202,740 206,741 210,741 214,742 218,743 222,743 226,744 228,744 230,752 230,881 228,888 226,888 222,888 218,887 214,886 210,886 206,885 202,885 198,884 194,883 190,883 186,882 182,882 178,882 174,882 170,881 166,881 163,881 159,881 155,881 151,881 147,882 143,882 139,882 135,882 131,882"/>
<polygon fill-opacity="0.041" points="131,751 135,750 139,750 143,750 147,750 151,750 155,750 159,750 163,750 166,750 170,750 174,750 178,750 182,751 186,751 190,751 194,752 198,753 202,753 206,754 210,754 214,755 218,756 222,756 226,757 228,757 230,764 230,869 228,875 226,875 222,875 218,874 214,873 210,873 206,872 202,872 198,871 194,870 190,870 186,869 182,869 178,869 174,869 170,868 166,868 163,868 159,868 155,868 151,868 147,869 143,869 139,869 135,869 131,869"/>
<polygon fill-opacity="0.064" points="131,758 135,758 139,758 143,758 147,758 151,757 155,757 159,757 163,757 166,757 170,757 174,758 178,758 182,758 186,758 190,759 194,759 198,760 202,761 206,761 210,762 214,762 218,763 222,764 226,764 228,764 230,771 230,862 228,868 226,868 222,867 218,867 214,866 210,865 206,865 202,864 198,864 194,863 190,862 186,862 182,862 178,861 174,861 170,861 166,861 163,861 159,861 155,861 151,861 147,861 143,861 139,861 135,861 131,862"/>
<polygon fill-opacity="0.091" points="131,764 135,764 139,763 143,763 147,763 151,763 155,763 159,763 163,763 166,763 170,763 174,763 178,764 182,764 186,764 190,765 194,765 198,766 202,766 206,767 210,768 214,768 218,769 222,769 226,770 228,770 230,778 230,855 228,862 226,862 222,861 218,861 214,860 210,860 206,859 202,858 198,858 194,857 190,857 186,856 182,856 178,856 174,855 170,855 166,855 163,855 159,855 155,855 151,855 147,855 143,855 139,856 135,856 131,856"/>
<polygon fill-opacity="0.125" points="131,769 135,769 139,769 143,768 147,768 151,768 155,768 159,768 163,768 166,768 170,768 174,768 178,769 182,769 186,769 190,770 194,770 198,771 202,771 206,772 210,773 214,773 218,774 222,774 226,775 228,775 230,783 230,850 228,857 226,857 222,856 218,856 214,855 210,855 206,854 202,853 198,853 194,852 190,852 186,851 182,851 178,851 174,850 170,850 166,850 163,850 159,850 155,850 151,850 147,850 143,850 139,850 135,851 131,851"/>
<polygon fill-opacity="0.143" points="131,773 135,773 139,773 143,773 147,773 151,772 155,772 159,772 163,772 166,772 170,772 174,773 178,773 182,773 186,773 190,774 194,774 198,775 202,776 206,776 210,777 214,777 218,778 222,779 226,779 228,779 230,788 230,845 228,853 226,853 222,852 218,852 214,851 210,850 206,850 202,849 198,849 194,848 190,847 186,847 182,847 178,846 174,846 170,846 166,846 163,846 159,846 155,846 151,846 147,846 143,846 139,846 135,846 131,847"/>
<polygon fill-opacity="0.167" points="131,777 135,777 139,777 143,776 147,776 151,776 155,776 159,776 163,776 166,776 170,776 174,776 178,777 182,777 186,777 190,778 194,778 198,779 202,779 206,780 210,781 214,781 218,782 222,782 226,783 228,783 230,794 230,839 228,849 226,849 222,848 218,848 214,847 210,847 206,846 202,845 198,845 194,844 190,844 186,843 182,843 178,843 174,842 170,842 166,842 163,842 159,842 155,842 151,842 147,842 143,842 139,842 135,843 131,843"/>
<polygon fill-opacity="0.200" points="131,781 135,781 139,780 143,780 147,780 151,780 155,780 159,780 163,780 166,780 170,780 174,780 178,781 182,781 186,781 190,782 194,782 198,783 202,783 206,784 210,785 214,785 218,786 222,786 226,787 228,787 230,799 230,834 228,845 226,845 222,844 218,844 214,843 210,843 206,842 202,841 198,841 194,840 190,840 186,839 182,839 178,839 174,838 170,838 166,838 163,838 159,838 155,838 151,838 147,838 143,838 139,839 135,839 131,839"/>
<polygon fill-opacity="0.250" points="131,785 135,785 139,785 143,785 147,785 151,785 155,784 159,784 163,784 166,784 170,785 174,785 178,785 182,785 186,786 190,786 194,786 198,787 202,788 206,788 210,789 214,789 218,790 222,791 226,791 228,791 230,809 230,824 228,841 226,841 222,840 218,840 214,839 210,838 206,838 202,837 198,836 194,836 190,835 186,835 182,835 178,834 174,834 170,834 166,834 163,834 159,834 155,834 151,834 147,834 143,834 139,834 135,834 131,834"/>
<polygon fill-opacity="0.267" points="131,789 135,789 139,789 143,789 147,789 151,789 155,789 159,789 163,789 166,789 170,789 174,789 178,789 182,789 186,790 190,790 194,791 198,791 202,792 206,792 210,793 214,794 218,794 222,795 226,795 228,796 230,817 230,817 228,837 226,836 222,836 218,835 214,835 210,834 206,833 202,833 198,832 194,832 190,831 186,831 182,830 178,830 174,830 170,830 166,830 163,830 159,830 155,830 151,830 147,830 143,830 139,830 135,830 131,830"/>
<polygon fill-opacity="0.318" points="131,795 135,794 139,794 143,794 147,794 151,794 155,794 159,794 163,794 166,794 170,794 174,794 178,794 182,795 186,795 190,796 194,796 198,797 202,797 206,798 210,798 214,799 218,800 222,800 226,801 228,801 230,817 230,817 228,831 226,831 222,830 218,830 214,829 210,829 206,828 202,827 198,827 194,826 190,826 186,825 182,825 178,825 174,825 170,824 166,824 163,824 159,824 155,824 151,824 147,824 143,825 139,825 135,825 131,825"/>
<polygon fill-opacity="0.400" points="131,804 135,804 139,804 143,804 147,804 151,804 155,804 159,804 163,804 166,804 170,804 174,804 178,804 182,804 186,805 190,805 194,806 198,806 202,807 206,807 210,808 214,809 218,809 222,810 226,810 228,811 230,817 230,817 228,822 226,821 222,821 218,820 214,820 210,819 206,819 202,818 198,817 194,817 190,816 186,816 182,815 178,815 174,815 170,815 166,815 163,815 159,815 155,815 151,815 147,815 143,815 139,815 135,815 131,815"/>
<polygon fill-opacity="0.020" points="243,737 247,737 251,737 255,738 259,738 261,738 263,738 267,738 271,739 275,740 279,741 283,742 287,742 291,743 295,744 299,745 300,746 303,747 307,748 311,750 315,751 319,753 323,754 327,755 331,757 334,758 335,758 339,759 343,760 347,761 351,762 355,763 356,763 358,788 359,793 362,807 363,807 367,808 371,809 375,809 379,810 383,811 387,811 391,812 395,812 399,813 400,813 403,812 407,812 411,812 415,811 419,811 423,811 427,810 431,810 435,809 439,809 440,809 443,809 447,809 451,810 455,810 459,811 463,811 467,812 471,812 475,813 476,813 479,836 483,865 484,872 487,872 491,873 495,873 499,873 503,874 507,874 511,874 515,875 519,875 520,875 523,875 527,876 531,876 535,876 539,876 543,877 547,877 551,877 555,877 559,878 560,878 563,878 567,877 571,877 575,877 579,877 583,876 587,876 591,876 595,875 599,875 600,874 603,874 607,875 611,875 615,875 619,875 623,876 624,876 627,882 630,889 631,889 635,890 639,891 643,892 647,893 651,894 655,895 659,896 660,896 663,897 667,897 671,897 675,898 679,898 683,899 687,899 691,900 695,900 699,901 700,901 703,901 707,901 711,901 715,901 719,901 723,901 727,901 731,900 731,1036 727,1036 723,1036 719,1036 715,1036 711,1036 707,1037 703,1037 700,1036 699,1036 695,1036 691,1035 687,1034 683,1034 679,1033 675,1033 671,1032 667,1032 663,1032 660,1032 659,1032 655,1032 651,1032 647,1032 643,1032 639,1032 635,1032 631,1032 630,1032 627,1021 624,1010 623,1010 619,1010 615,1010 611,1009 607,1009 603,1009 600,1009 599,1009 595,1010 591,1010 587,1011 583,1011 579,1011 575,1012 571,1012 567,1012 563,1012 560,1012 559,1012 555,1012 551,1012 547,1011 543,1011 539,1011 535,1011 531,1010 527,1010 523,1010 520,1010 519,1009 515,1009 511,1009 507,1008 503,1008 499,1008 495,1008 491,1007 487,1007 484,1007 483,1001 479,978 476,958 475,958 471,957 467,956 463,956 459,955 455,954 451,954 447,954 443,953 440,953 439,954 435,954 431,954 427,955 423,955 419,956 415,956 411,956 407,957 403,957 400,957 399,957 395,957 391,956 387,956 383,955 379,955 375,954 371,953 367,952 363,952 362,951 359,936 358,930 356,907 355,907 351,906 347,905 343,904 339,903 335,902 334,902 331,901 327,900 323,898 319,897 315,896 311,894 307,893 303,891 300,890 299,890 295,889 291,888 287,887 283,886 279,885 275,884 271,884 267,883 263,882 261,882 259,882 255,881 251,881 247,880 243,879"/>
<polygon fill-opacity="0.041" points="243,750 247,750 251,750 255,750 259,751 261,751 263,751 267,751 271,752 275,753 279,754 283,755 287,755 291,756 295,757 299,758 300,759 303,760 307,761 311,763 315,764 319,766 323,767 327,768 331,770 334,771 335,771 339,772 343,773 347,774 351,775 355,776 356,776 358,801 359,806 362,820 363,820 367,821 371,822 375,822 379,823 383,824 387,824 391,825 395,825 399,826 400,826 403,825 407,825 411,825 415,824 419,824 423,824 427,823 431,823 435,822 439,822 440,822 443,822 447,822 451,823 455,823 459,824 463,824 467,825 471,825 475,826 476,826 479,848 483,877 484,884 487,884 491,885 495,885 499,885 503,886 507,886 511,886 515,887 519,887 520,887 523,887 527,888 531,888 535,888 539,888 543,889 547,889 551,889 555,889 559,890 560,890 563,890 567,890 571,889 575,889 579,889 583,889 587,888 591,888 595,887 599,887 600,887 603,887 607,887 611,887 615,887 619,888 623,888 624,888 627,895 630,902 631,902 635,903 639,904 643,905 647,905 651,906 655,907 659,908 660,909 663,909 667,909 671,909 675,910 679,910 683,911 687,911 691,912 695,912 699,913 700,913 703,914 707,913 711,913 715,913 719,913 723,913 727,913 731,913 731,1023 727,1024 723,1024 719,1024 715,1024 711,1024 707,1024 703,1024 700,1024 699,1024 695,1023 691,1023 687,1022 683,1022 679,1021 675,1021 671,1020 667,1020 663,1020 660,1020 659,1019 655,1019 651,1019 647,1019 643,1019 639,1019 635,1019 631,1019 630,1019 627,1009 624,998 623,998 619,998 615,998 611,997 607,997 603,997 600,997 599,997 595,998 591,998 587,999 583,999 579,999 575,1000 571,1000 567,1000 563,1000 560,1000 559,1000 555,1000 551,1000 547,999 543,999 539,999 535,999 531,998 527,998 523,998 520,998 519,997 515,997 511,997 507,996 503,996 499,996 495,995 491,995 487,995 484,994 483,988 479,965 476,945 475,945 471,944 467,943 463,943 459,942 455,941 451,941 447,941 443,940 440,940 439,941 435,941 431,941 427,942 423,942 419,943 415,943 411,943 407,944 403,944 400,944 399,944 395,944 391,943 387,943 383,942 379,942 375,941 371,940 367,939 363,939 362,938 359,923 358,918 356,894 355,894 351,893 347,892 343,891 339,890 335,889 334,889 331,888 327,887 323,885 319,884 315,883 311,881 307,880 303,878 300,877 299,877 295,876 291,875 287,874 283,873 279,872 275,871 271,871 267,870 263,869 261,869 259,869 255,868 251,868 247,867 243,867"/>
<polygon fill-opacity="0.064" points="243,757 247,758 251,758 255,758 259,758 261,758 263,758 267,759 271,760 275,760 279,761 283,762 287,763 291,764 295,765 299,766 300,766 303,767 307,769 311,770 315,772 319,773 323,774 327,776 331,777 334,778 335,778 339,779 343,780 347,781 351,782 355,783 356,783 358,808 359,813 362,827 363,828 367,828 371,829 375,830 379,831 383,831 387,832 391,832 395,833 399,833 400,833 403,833 407,833 411,832 415,832 419,832 423,831 427,831 431,830 435,830 439,830 440,829 443,829 447,830 451,830 455,830 459,831 463,832 467,832 471,833 475,834 476,834 479,856 483,884 484,891 487,891 491,892 495,892 499,892 503,893 507,893 511,893 515,894 519,894 520,894 523,894 527,895 531,895 535,895 539,895 543,896 547,896 551,896 555,896 559,897 560,897 563,897 567,897 571,896 575,896 579,896 583,896 587,895 591,895 595,894 599,894 600,893 603,893 607,894 611,894 615,894 619,894 623,895 624,895 627,902 630,909 631,909 635,910 639,911 643,912 647,913 651,914 655,914 659,915 660,916 663,916 667,916 671,916 675,917 679,917 683,918 687,918 691,919 695,920 699,920 700,920 703,921 707,921 711,920 715,920 719,920 723,920 727,920 731,920 731,1016 727,1017 723,1017 719,1017 715,1017 711,1017 707,1017 703,1017 700,1017 699,1017 695,1016 691,1016 687,1015 683,1015 679,1014 675,1014 671,1013 667,1013 663,1013 660,1012 659,1012 655,1012 651,1012 647,1012 643,1012 639,1012 635,1012 631,1012 630,1012 627,1002 624,991 623,991 619,991 615,991 611,990 607,990 603,990 600,990 599,990 595,991 591,991 587,992 583,992 579,992 575,993 571,993 567,993 563,993 560,993 559,993 555,993 551,993 547,992 543,992 539,992 535,992 531,991 527,991 523,991 520,991 519,990 515,990 511,990 507,989 503,989 499,989 495,988 491,988 487,988 484,987 483,981 479,958 476,937 475,937 471,936 467,936 463,935 459,935 455,934 451,934 447,933 443,933 440,933 439,933 435,933 431,934 427,934 423,935 419,935 415,935 411,936 407,936 403,936 400,937 399,937 395,936 391,936 387,935 383,935 379,934 375,933 371,933 367,932 363,931 362,931 359,915 358,910 356,887 355,887 351,886 347,885 343,884 339,883 335,882 334,882 331,881 327,879 323,878 319,877 315,875 311,874 307,872 303,871 300,870 299,869 295,868 291,867 287,866 283,866 279,865 275,864 271,863 267,862 263,862 261,862 259,861 255,861 251,860 247,860 243,859"/>
<polygon fill-opacity="0.091" points="243,763 247,763 251,763 255,764 259,764 261,764 263,764 267,765 271,765 275,766 279,767 283,768 287,769 291,770 295,771 299,772 300,772 303,773 307,774 311,776 315,777 319,779 323,780 327,782 331,783 334,784 335,784 339,785 343,786 347,787 351,788 355,789 356,789 358,814 359,819 362,833 363,833 367,834 371,835 375,836 379,836 383,837 387,838 391,838 395,839 399,839 400,839 403,839 407,838 411,838 415,838 419,837 423,837 427,836 431,836 435,836 439,835 440,835 443,835 447,835 451,836 455,836 459,837 463,837 467,838 471,839 475,839 476,840 479,862 483,889 484,896 487,897 491,897 495,897 499,898 503,898 507,898 511,899 515,899 519,899 520,899 523,900 527,900 531,900 535,900 539,901 543,901 547,901 551,901 555,902 559,902 560,902 563,902 567,902 571,902 575,901 579,901 583,901 587,900 591,900 595,900 599,899 600,899 603,899 607,899 611,899 615,899 619,900 623,900 624,900 627,908 630,915 631,915 635,916 639,917 643,918 647,918 651,919 655,920 659,921 660,921 663,921 667,922 671,922 675,922 679,923 683,923 687,924 691,924 695,925 699,926 700,926 703,926 707,926 711,926 715,926 719,926 723,925 727,925 731,925 731,1011 727,1011 723,1011 719,1011 715,1012 711,1012 707,1012 703,1012 700,1012 699,1011 695,1011 691,1010 687,1010 683,1009 679,1009 675,1008 671,1008 667,1007 663,1007 660,1007 659,1007 655,1007 651,1007 647,1006 643,1006 639,1006 635,1006 631,1006 630,1006 627,996 624,986 623,986 619,986 615,985 611,985 607,985 603,985 600,985 599,985 595,985 591,986 587,986 583,987 579,987 575,987 571,988 567,988 563,988 560,988 559,988 555,988 551,987 547,987 543,987 539,987 535,986 531,986 527,986 523,986 520,985 519,985 515,985 511,984 507,984 503,984 499,984 495,983 491,983 487,983 484,982 483,976 479,952 476,932 475,931 471,931 467,930 463,929 459,929 455,928 451,928 447,927 443,927 440,927 439,927 435,928 431,928 427,928 423,929 419,929 415,930 411,930 407,930 403,931 400,931 399,931 395,931 391,930 387,930 383,929 379,928 375,928 371,927 367,926 363,925 362,925 359,910 358,904 356,881 355,881 351,880 347,879 343,878 339,877 335,876 334,876 331,875 327,874 323,872 319,871 315,869 311,868 307,867 303,865 300,864 299,864 295,863 291,862 287,861 283,860 279,859 275,858 271,857 267,857 263,856 261,856 259,856 255,855 251,855 247,854 243,853"/>
<polygon fill-opacity="0.125" points="243,768 247,768 251,769 255,769 259,769 261,769 263,769 267,770 271,770 275,771 279,772 283,773 287,774 291,775 295,776 299,777 300,777 303,778 307,780 311,781 315,782 319,784 323,785 327,787 331,788 334,789 335,789 339,790 343,791 347,792 351,793 355,794 356,794 358,819 359,824 362,838 363,838 367,839 371,840 375,841 379,841 383,842 387,843 391,843 395,844 399,844 400,844 403,844 407,843 411,843 415,843 419,842 423,842 427,841 431,841 435,841 439,840 440,840 443,840 447,840 451,841 455,841 459,842 463,842 467,843 471,844 475,844 476,845 479,867 483,894 484,901 487,901 491,902 495,902 499,902 503,903 507,903 511,903 515,904 519,904 520,904 523,904 527,905 531,905 535,905 539,905 543,906 547,906 551,906 555,906 559,906 560,907 563,907 567,906 571,906 575,906 579,906 583,905 587,905 591,905 595,904 599,904 600,903 603,903 607,904 611,904 615,904 619,904 623,905 624,905 627,912 630,920 631,920 635,921 639,922 643,922 647,923 651,924 655,925 659,926 660,926 663,926 667,926 671,927 675,927 679,928 683,928 687,929 691,929 695,930 699,930 700,931 703,931 707,931 711,931 715,931 719,930 723,930 727,930 731,930 731,1006 727,1006 723,1006 719,1007 715,1007 711,1007 707,1007 703,1007 700,1007 699,1006 695,1006 691,1005 687,1005 683,1004 679,1004 675,1003 671,1003 667,1002 663,1002 660,1002 659,1002 655,1002 651,1002 647,1001 643,1001 639,1001 635,1001 631,1001 630,1001 627,991 624,981 623,981 619,981 615,981 611,980 607,980 603,980 600,980 599,980 595,981 591,981 587,982 583,982 579,982 575,983 571,983 567,983 563,983 560,983 559,983 555,983 551,983 547,982 543,982 539,982 535,982 531,981 527,981 523,981 520,981 519,981 515,980 511,980 507,980 503,979 499,979 495,979 491,978 487,978 484,978 483,971 479,947 476,927 475,926 471,926 467,925 463,924 459,924 455,923 451,923 447,922 443,922 440,922 439,922 435,923 431,923 427,923 423,924 419,924 415,925 411,925 407,925 403,926 400,926 399,926 395,926 391,925 387,925 383,924 379,923 375,923 371,922 367,921 363,920 362,920 359,905 358,899 356,876 355,876 351,875 347,874 343,873 339,872 335,871 334,871 331,870 327,869 323,867 319,866 315,864 311,863 307,861 303,860 300,859 299,859 295,858 291,857 287,856 283,855 279,854 275,853 271,852 267,852 263,851 261,851 259,851 255,850 251,849 247,849 243,848"/>
<polygon fill-opacity="0.143" points="243,772 247,773 251,773 255,773 259,773 261,773 263,773 267,774 271,775 275,775 279,776 283,777 287,778 291,779 295,780 299,781 300,781 303,782 307,784 311,785 315,787 319,788 323,789 327,791 331,792 334,793 335,793 339,794 343,795 347,796 351,797 355,798 356,798 358,823 359,828 362,842 363,843 367,843 371,844 375,845 379,846 383,846 387,847 391,847 395,848 399,848 400,848 403,848 407,848 411,847 415,847 419,846 423,846 427,846 431,845 435,845 439,845 440,844 443,844 447,845 451,845 455,845 459,846 463,847 467,847 471,848 475,848 476,849 479,871 483,898 484,905 487,905 491,905 495,906 499,906 503,906 507,907 511,907 515,907 519,908 520,908 523,908 527,908 531,909 535,909 539,909 543,909 547,910 551,910 555,910 559,910 560,910 563,910 567,910 571,910 575,910 579,910 583,909 587,909 591,908 595,908 599,908 600,907 603,907 607,907 611,908 615,908 619,908 623,909 624,909 627,916 630,924 631,924 635,925 639,926 643,927 647,927 651,928 655,929 659,930 660,930 663,930 667,930 671,931 675,931 679,932 683,932 687,933 691,933 695,934 699,934 700,935 703,935 707,935 711,935 715,935 719,935 723,934 727,934 731,934 731,1002 727,1002 723,1002 719,1003 715,1003 711,1003 707,1003 703,1003 700,1003 699,1002 695,1002 691,1001 687,1001 683,1000 679,1000 675,999 671,999 667,998 663,998 660,998 659,998 655,998 651,998 647,997 643,997 639,997 635,997 631,997 630,997 627,987 624,978 623,978 619,977 615,977 611,977 607,976 603,976 600,976 599,977 595,977 591,977 587,978 583,978 579,979 575,979 571,979 567,979 563,979 560,979 559,979 555,979 551,979 547,979 543,978 539,978 535,978 531,978 527,977 523,977 520,977 519,977 515,976 511,976 507,976 503,975 499,975 495,975 491,974 487,974 484,974 483,967 479,943 476,922 475,922 471,921 467,921 463,920 459,920 455,919 451,919 447,918 443,918 440,918 439,918 435,918 431,919 427,919 423,920 419,920 415,921 411,921 407,921 403,921 400,922 399,922 395,921 391,921 387,920 383,920 379,919 375,918 371,918 367,917 363,916 362,916 359,900 358,895 356,872 355,872 351,871 347,870 343,869 339,868 335,867 334,867 331,866 327,864 323,863 319,862 315,860 311,859 307,857 303,856 300,855 299,854 295,853 291,852 287,851 283,851 279,850 275,849 271,848 267,847 263,847 261,847 259,846 255,846 251,845 247,845 243,844"/>
<polygon fill-opacity="0.167" points="243,776 247,777 251,777 255,777 259,777 261,777 263,777 267,778 271,778 275,779 279,780 283,781 287,782 291,783 295,784 299,785 300,785 303,786 307,788 311,789 315,790 319,792 323,793 327,795 331,796 334,797 335,797 339,798 343,799 347,800 351,801 355,802 356,802 358,827 359,832 362,846 363,846 367,847 371,848 375,849 379,849 383,850 387,851 391,851 395,852 399,852 400,852 403,852 407,851 411,851 415,851 419,850 423,850 427,849 431,849 435,849 439,848 440,848 443,848 447,848 451,849 455,849 459,850 463,850 467,851 471,852 475,852 476,853 479,875 483,901 484,908 487,909 491,909 495,909 499,910 503,910 507,910 511,911 515,911 519,911 520,911 523,912 527,912 531,912 535,912 539,913 543,913 547,913 551,913 555,914 559,914 560,914 563,914 567,914 571,914 575,913 579,913 583,913 587,912 591,912 595,912 599,911 600,911 603,911 607,911 611,911 615,911 619,912 623,912 624,912 627,920 630,928 631,928 635,929 639,930 643,930 647,931 651,932 655,933 659,934 660,934 663,934 667,934 671,935 675,935 679,935 683,936 687,937 691,937 695,938 699,938 700,939 703,939 707,939 711,939 715,938 719,938 723,938 727,938 731,938 731,998 727,998 723,999 719,999 715,999 711,999 707,999 703,999 700,999 699,999 695,998 691,998 687,997 683,996 679,996 675,995 671,995 667,995 663,994 660,994 659,994 655,994 651,994 647,994 643,993 639,993 635,993 631,993 630,993 627,984 624,974 623,974 619,974 615,973 611,973 607,973 603,973 600,973 599,973 595,973 591,974 587,974 583,975 579,975 575,975 571,976 567,976 563,976 560,976 559,976 555,976 551,975 547,975 543,975 539,975 535,974 531,974 527,974 523,974 520,973 519,973 515,973 511,972 507,972 503,972 499,972 495,971 491,971 487,971 484,970 483,964 479,939 476,919 475,918 471,918 467,917 463,916 459,916 455,915 451,915 447,914 443,914 440,914 439,914 435,915 431,915 427,915 423,916 419,916 415,917 411,917 407,917 403,918 400,918 399,918 395,918 391,917 387,917 383,916 379,915 375,915 371,914 367,913 363,912 362,912 359,896 358,891 356,868 355,868 351,867 347,866 343,865 339,864 335,863 334,863 331,862 327,861 323,859 319,858 315,856 311,855 307,853 303,852 300,851 299,851 295,850 291,849 287,848 283,847 279,846 275,845 271,844 267,844 263,843 261,843 259,843 255,842 251,841 247,841 243,840"/>
<polygon fill-opacity="0.200" points="243,780 247,781 251,781 255,781 259,781 261,781 263,781 267,782 271,782 275,783 279,784 283,785 287,786 291,787 295,788 299,789 300,789 303,790 307,791 311,793 315,794 319,796 323,797 327,798 331,800 334,801 335,801 339,802 343,803 347,804 351,805 355,806 356,806 358,831 359,836 362,850 363,850 367,851 371,852 375,853 379,853 383,854 387,855 391,855 395,855 399,856 400,856 403,856 407,855 411,855 415,855 419,854 423,854 427,853 431,853 435,853 439,852 440,852 443,852 447,852 451,853 455,853 459,854 463,854 467,855 471,856 475,856 476,857 479,879 483,905 484,912 487,912 491,912 495,913 499,913 503,913 507,914 511,914 515,914 519,915 520,915 523,915 527,915 531,916 535,916 539,916 543,916 547,917 551,917 555,917 559,917 560,917 563,917 567,917 571,917 575,917 579,917 583,916 587,916 591,916 595,915 599,915 600,914 603,914 607,914 611,915 615,915 619,915 623,916 624,916 627,924 630,932 631,932 635,933 639,934 643,934 647,935 651,936 655,937 659,937 660,938 663,938 667,938 671,938 675,939 679,939 683,940 687,940 691,941 695,942 699,942 700,942 703,943 707,942 711,942 715,942 719,942 723,942 727,942 731,942 731,994 727,995 723,995 719,995 715,995 711,995 707,995 703,995 700,995 699,995 695,994 691,994 687,993 683,993 679,992 675,992 671,991 667,991 663,991 660,990 659,990 655,990 651,990 647,990 643,990 639,989 635,989 631,989 630,989 627,980 624,970 623,970 619,970 615,970 611,970 607,969 603,969 600,969 599,970 595,970 591,970 587,971 583,971 579,972 575,972 571,972 567,972 563,972 560,972 559,972 555,972 551,972 547,972 543,971 539,971 535,971 531,971 527,970 523,970 520,970 519,970 515,969 511,969 507,969 503,968 499,968 495,968 491,967 487,967 484,967 483,960 479,935 476,915 475,914 471,914 467,913 463,912 459,912 455,911 451,911 447,910 443,910 440,910 439,910 435,911 431,911 427,911 423,912 419,912 415,913 411,913 407,913 403,914 400,914 399,914 395,914 391,913 387,913 383,912 379,911 375,911 371,910 367,909 363,908 362,908 359,892 358,887 356,864 355,864 351,863 347,862 343,861 339,860 335,859 334,859 331,858 327,857 323,855 319,854 315,852 311,851 307,850 303,848 300,847 299,847 295,846 291,845 287,844 283,843 279,842 275,841 271,840 267,840 263,839 261,839 259,839 255,838 251,837 247,837 243,836"/>
<polygon fill-opacity="0.250" points="243,785 247,785 251,785 255,785 259,785 261,785 263,785 267,786 271,787 275,787 279,788 283,789 287,790 291,791 295,792 299,793 300,793 303,794 307,796 311,797 315,799 319,800 323,801 327,803 331,804 334,805 335,805 339,806 343,807 347,808 351,809 355,810 356,810 358,836 359,841 362,854 363,855 367,855 371,856 375,857 379,858 383,858 387,859 391,859 395,860 399,860 400,860 403,860 407,860 411,859 415,859 419,859 423,858 427,858 431,857 435,857 439,857 440,856 443,856 447,857 451,857 455,857 459,858 463,859 467,859 471,860 475,861 476,861 479,884 483,909 484,916 487,916 491,916 495,917 499,917 503,917 507,918 511,918 515,918 519,919 520,919 523,919 527,919 531,920 535,920 539,920 543,920 547,921 551,921 555,921 559,921 560,921 563,921 567,921 571,921 575,921 579,921 583,920 587,920 591,919 595,919 599,919 600,918 603,918 607,918 611,919 615,919 619,919 623,920 624,920 627,928 630,937 631,937 635,937 639,938 643,939 647,939 651,940 655,941 659,942 660,942 663,942 667,942 671,943 675,943 679,944 683,944 687,945 691,945 695,946 699,946 700,947 703,947 707,947 711,947 715,947 719,946 723,946 727,946 731,946 731,990 727,990 723,990 719,991 715,991 711,991 707,991 703,991 700,991 699,991 695,990 691,989 687,989 683,988 679,988 675,987 671,987 667,987 663,986 660,986 659,986 655,986 651,986 647,985 643,985 639,985 635,985 631,985 630,985 627,976 624,967 623,967 619,966 615,966 611,966 607,965 603,965 600,965 599,966 595,966 591,966 587,967 583,967 579,968 575,968 571,968 567,968 563,968 560,968 559,968 555,968 551,968 547,968 543,967 539,967 535,967 531,967 527,966 523,966 520,966 519,966 515,965 511,965 507,965 503,964 499,964 495,964 491,963 487,963 484,963 483,956 479,930 476,910 475,910 471,909 467,909 463,908 459,907 455,907 451,907 447,906 443,906 440,906 439,906 435,906 431,907 427,907 423,908 419,908 415,908 411,909 407,909 403,909 400,909 399,910 395,909 391,909 387,908 383,908 379,907 375,906 371,906 367,905 363,904 362,904 359,888 358,883 356,860 355,860 351,859 347,858 343,857 339,856 335,855 334,855 331,854 327,852 323,851 319,850 315,848 311,847 307,845 303,844 300,843 299,842 295,841 291,840 287,839 283,839 279,838 275,837 271,836 267,835 263,835 261,835 259,834 255,834 251,833 247,832 243,831"/>
<polygon fill-opacity="0.267" points="243,790 247,790 251,790 255,790 259,789 261,789 263,790 267,790 271,791 275,792 279,792 283,793 287,794 291,795 295,796 299,797 300,798 303,799 307,800 311,801 315,803 319,804 323,806 327,807 331,808 334,809 335,810 339,811 343,812 347,812 351,813 355,814 356,815 358,841 359,845 362,858 363,859 367,860 371,860 375,861 379,862 383,863 387,863 391,864 395,864 399,864 400,864 403,864 407,864 411,864 415,863 419,863 423,862 427,862 431,862 435,861 439,861 440,861 443,861 447,861 451,861 455,862 459,862 463,863 467,863 471,864 475,865 476,865 479,888 483,913 484,920 487,920 491,920 495,921 499,921 503,921 507,922 511,922 515,922 519,923 520,923 523,923 527,923 531,923 535,924 539,924 543,924 547,925 551,925 555,925 559,925 560,925 563,925 567,925 571,925 575,925 579,924 583,924 587,924 591,923 595,923 599,922 600,922 603,922 607,922 611,922 615,923 619,923 623,923 624,923 627,932 630,941 631,941 635,942 639,942 643,943 647,944 651,945 655,945 659,946 660,946 663,946 667,947 671,947 675,947 679,948 683,948 687,949 691,950 695,950 699,951 700,951 703,951 707,951 711,951 715,951 719,951 723,951 727,950 731,950 731,986 727,986 723,986 719,986 715,986 711,987 707,987 703,987 700,987 699,986 695,986 691,985 687,985 683,984 679,983 675,983 671,983 667,982 663,982 660,982 659,982 655,981 651,981 647,981 643,981 639,981 635,980 631,980 630,980 627,972 624,963 623,963 619,962 615,962 611,962 607,962 603,961 600,961 599,962 595,962 591,963 587,963 583,963 579,964 575,964 571,964 567,964 563,964 560,964 559,964 555,964 551,964 547,964 543,964 539,963 535,963 531,963 527,962 523,962 520,962 519,962 515,962 511,961 507,961 503,961 499,960 495,960 491,960 487,959 484,959 483,952 479,926 476,906 475,906 471,905 467,904 463,904 459,903 455,903 451,902 447,902 443,902 440,902 439,902 435,902 431,902 427,903 423,903 419,904 415,904 411,905 407,905 403,905 400,905 399,905 395,905 391,905 387,904 383,904 379,903 375,902 371,901 367,901 363,900 362,899 359,883 358,878 356,856 355,855 351,854 347,853 343,852 339,852 335,851 334,850 331,849 327,848 323,847 319,845 315,844 311,842 307,841 303,840 300,838 299,838 295,837 291,836 287,835 283,834 279,833 275,833 271,832 267,831 263,830 261,830 259,830 255,829 251,829 247,828 243,827"/>
<polygon fill-opacity="0.318" points="243,796 247,795 251,795 255,795 259,795 261,795 263,795 267,796 271,796 275,797 279,798 283,799 287,799 291,800 295,801 299,803 300,803 303,804 307,805 311,807 315,808 319,810 323,811 327,812 331,814 334,815 335,815 339,816 343,817 347,818 351,819 355,820 356,820 358,847 359,851 362,864 363,864 367,865 371,866 375,867 379,867 383,868 387,869 391,869 395,869 399,870 400,870 403,869 407,869 411,869 415,869 419,868 423,868 427,867 431,867 435,867 439,866 440,866 443,866 447,866 451,867 455,867 459,868 463,868 467,869 471,869 475,870 476,870 479,894 483,918 484,924 487,925 491,925 495,925 499,926 503,926 507,926 511,927 515,927 519,927 520,927 523,928 527,928 531,928 535,928 539,929 543,929 547,929 551,929 555,930 559,930 560,930 563,930 567,930 571,930 575,929 579,929 583,929 587,928 591,928 595,928 599,927 600,927 603,927 607,927 611,927 615,927 619,928 623,928 624,928 627,937 630,947 631,947 635,947 639,948 643,949 647,950 651,950 655,951 659,952 660,952 663,952 667,952 671,953 675,953 679,954 683,954 687,955 691,955 695,956 699,956 700,957 703,957 707,957 711,957 715,957 719,956 723,956 727,956 731,956 731,980 727,980 723,980 719,981 715,981 711,981 707,981 703,981 700,981 699,980 695,980 691,979 687,979 683,978 679,978 675,977 671,977 667,976 663,976 660,976 659,976 655,976 651,975 647,975 643,975 639,975 635,975 631,975 630,975 627,966 624,958 623,958 619,958 615,957 611,957 607,957 603,957 600,957 599,957 595,958 591,958 587,958 583,959 579,959 575,959 571,960 567,960 563,960 560,960 559,960 555,960 551,959 547,959 543,959 539,959 535,958 531,958 527,958 523,958 520,957 519,957 515,957 511,957 507,956 503,956 499,956 495,955 491,955 487,955 484,954 483,947 479,919 476,901 475,900 471,900 467,899 463,898 459,898 455,897 451,897 447,897 443,896 440,896 439,897 435,897 431,897 427,898 423,898 419,898 415,899 411,899 407,900 403,900 400,900 399,900 395,900 391,899 387,899 383,898 379,898 375,897 371,896 367,895 363,895 362,894 359,878 358,872 356,850 355,850 351,849 347,848 343,847 339,846 335,845 334,845 331,844 327,843 323,841 319,840 315,838 311,837 307,836 303,834 300,833 299,833 295,832 291,831 287,830 283,829 279,828 275,827 271,827 267,826 263,825 261,825 259,825 255,824 251,823 247,822 243,821"/>
<polygon fill-opacity="0.400" points="251,809 255,806 259,805 261,804 263,804 267,805 271,806 275,807 279,807 283,808 287,809 291,810 295,811 299,812 300,812 303,814 307,815 311,816 315,818 319,819 323,821 327,822 331,823 334,824 335,825 339,826 343,826 347,827 351,828 355,829 356,830 358,859 358,859 356,841 355,840 351,839 347,838 343,838 339,837 335,836 334,835 331,834 327,833 323,832 319,830 315,829 311,827 307,826 303,825 300,824 299,823 295,822 291,821 287,820 283,819 279,819 275,818 271,817 267,816 263,816 261,815 259,815 255,812 251,809"/>
<polygon fill-opacity="0.400" points="359,864 362,873 363,874 367,875 371,875 375,876 379,877 383,878 387,878 391,879 395,879 399,879 400,879 403,879 407,879 411,878 415,878 419,878 423,877 427,877 431,876 435,876 439,876 440,875 443,876 447,876 451,876 455,877 459,877 463,878 467,878 471,879 475,880 476,880 479,907 479,907 476,891 475,891 471,890 467,890 463,889 459,888 455,888 451,887 447,887 443,887 440,887 439,887 435,887 431,888 427,888 423,888 419,889 415,889 411,890 407,890 403,890 400,890 399,890 395,890 391,890 387,889 383,889 379,888 375,887 371,886 367,886 363,885 362,884 359,864"/>
<polygon fill-opacity="0.400" points="479,907 483,926 484,932 487,932 491,933 495,933 499,933 503,934 507,934 511,934 515,934 519,935 520,935 523,935 527,935 531,936 535,936 539,936 543,937 547,937 551,937 555,937 559,937 560,937 563,937 567,937 571,937 575,937 579,937 583,936 587,936 591,936 595,935 599,935 600,934 603,934 607,935 611,935 615,935 619,935 623,936 624,936 627,946 630,961 630,961 627,957 624,950 623,950 619,950 615,950 611,950 607,949 603,949 600,949 599,950 595,950 591,950 587,951 583,951 579,951 575,952 571,952 567,952 563,952 560,952 559,952 555,952 551,952 547,952 543,951 539,951 535,951 531,950 527,950 523,950 520,950 519,950 515,949 511,949 507,949 503,948 499,948 495,948 491,947 487,947 484,947 483,939 479,907"/>
</g>
<path fill="none" stroke="#000" stroke-width="1" transform="translate(.5 0)" d="M228 1148v1m0 6v1m0 4v1m1-7v1m1-23v1m0 22v1m1-94v1m0 21v1m0 41v1m0 4v1m0 4v1m0 2v1m0 0v1m0 3v1m0 1v1m0 0v1m0 1v1m0 1v1m0 1v1m0 1v1m1-76v1m0 39v1m0 4v1m0 2v1m0 2v1m0 1v1m0 0v1m0 1v1m0 0v1m0 0v1m0 0v1m0 0v1m0 1v1m0 0v1m0 0v1m0 2v1m0 0v1m0 0v1m0 13v1m1-99v1m0 17v1m0 2v1m0 5v1m0 1v1m0 0v1m0 11v1m0 0v1m0 0v1m0 0v1m0 5v1m0 5v1m0 1v1m0 0v1m0 0v1m0 0v1m0 0v1m0 2v1m0 0v1m0 1v1m0 0v1m0 2v1m0 3v1m0 0v1m0 1v1m0 0v1m0 3v1m0 0v1m1-190v1m0 18v1m0 1v1m0 35v1m0 14v1m0 14v1m0 5v1m0 10v1m0 5v1m0 5v1m0 3v1m0 0v1m0 8v1m0 5v1m0 0v1m0 0v1m0 0v1m0 1v1m0 0v1m0 8v1m0 1v1m0 3v1m0 0v1m0 0v1m0 1v1m0 0v1m0 0v1m0 0v1m0 0v1m0 3v1m0 1v1m0 0v1m0 0v1m0 0v1m0 2v1m0 6v1m0 2v1m1-180v1m0 2v1m0 1v1m0 1v1m0 29v1m0 14v1m0 6v1m0 2v1m0 2v1m0 1v1m0 9v1m0 1v1m0 11v1m0 2v1m0 7v1m0 8v1m0 1v1m0 2v1m0 1v1m0 0v1m0 0v1m0 1v1m0 1v1m0 2v1m0 0v1m0 0v1m0 2v1m0 0v1m0 0v1m0 2v1m0 1v1m0 0v1m0 8v1m0 1v1m0 0v1m0 1v1m0 0v1m0 0v1m0 0v1m0 1v1m0 0v1m0 0v1m0 1v1m0 10v1m0 1v1m1-227v1m0 5v1m0 16v1m0 10v1m0 9v1m0 0v1m0 3v1m0 18v1m0 0v1m0 3v1m0 21v1m0 0v1m0 3v1m0 0v1m0 6v1m0 2v1m0 2v1m0 1v1m0 0v1m0 2v1m0 3v1m0 2v1m0 0v1m0 2v1m0 0v1m0 0v1m0 2v1m0 0v1m0 2v1m0 0v1m0 2v1m0 1v1m0 3v1m0 0v1m0 0v1m0 0v1m0 2v1m0 3v1m0 0v1m0 2v1m0 0v1m0 0v1m0 8v1m0 1v1m0 1v1m0 1v1m0 2v1m0 1v1m0 0v1m0 1v1m0 1v1m0 1v1m0 1v1m0 0v1m0 0v1m0 0v1m0 1v1m0 0v1m0 0v1m0 2v1m0 4v1m1-213v1m0 12v1m0 8v1m0 15v1m0 9v1m0 4v1m0 1v1m0 4v1m0 3v1m0 0v1m0 0v1m0 8v1m0 2v1m0 2v1m0 7v1m0 2v1m0 13v1m0 12v1m0 0v1m0 8v1m0 2v1m0 1v1m0 1v1m0 0v1m0 2v1m0 3v1m0 3v1m0 4v1m0 1v1m0 0v1m0 0v1m0 1v1m0 1v1m0 0v1m0 0v1m0 2v1m0 0v1m0 1v1m0 0v1m0 0v1m0 0v1m0 0v1m0 0v1m0 2v1m0 0v1m0 1v1m0 2v1m0 0v1m0 0v1m0 1v1m0 1v1m0 0v1m0 5v1m0 4v1m0 0v1m0 18v1m1-236v1m0 1v1m0 13v1m0 9v1m0 6v1m0 7v1m0 0v1m0 3v1m0 10v1m0 15v1m0 58v1m0 2v1m0 2v1m0 3v1m0 0v1m0 0v1m0 1v1m0 4v1m0 0v1m0 0v1m0 1v1m0 0v1m0 1v1m0 0v1m0 1v1m0 0v1m0 0v1m0 0v1m0 0v1m0 0v1m0 0v1m0 0v1m0 0v1m0 0v1m0 0v1m0 0v1m0 0v1m0 0v1m0 0v1m0 0v1m0 1v1m0 3v1m0 1v1m0 0v1m0 0v1m0 0v1m0 0v1m0 0v1m0 0v1m0 0v1m0 3v1m0 1v1m0 2v1m0 1v1m0 0v1m0 1v1m0 0v1m1-143v1m0 76v1m0 0v1m0 0v1m0 0v1m0 0v1m0 1v1m0 0v1m0 0v1m0 3v1m0 0v1m0 0v1m0 1v1m0 1v1m0 0v1m0 4v1m0 0v1m0 0v1m0 0v1m0 0v1m0 2v1m0 3v1m0 0v1m0 1v1m0 2v1m0 0v1m0 2v1m0 1v1m0 0v1m0 0v1m0 1v1m0 1v1m0 2v1m0 1v1m0 2v1m1-67v1m0 0v1m0 0v1m0 0v1m0 1v1m0 0v1m0 0v1m0 1v1m0 0v1m0 0v1m0 0v1m0 0v1m0 0v1m0 1v1m0 1v1m0 0v1m0 0v1m0 0v1m0 0v1m0 0v1m0 0v1m0 3v1m0 0v1m0 0v1m0 2v1m0 0v1m0 4v1m0 0v1m0 0v1m0 0v1m0 0v1m0 1v1m0 0v1m0 3v1m0 2v1m0 0v1m0 0v1m0 1v1m0 5v1m1-350v1m0 140v1m0 1v1m0 5v1m0 6v1m0 1v1m0 4v1m0 4v1m0 4v1m0 1v1m0 4v1m0 1v1m0 3v1m0 7v1m0 6v1m0 1v1m0 10v1m0 66v1m0 3v1m0 0v1m0 1v1m0 6v1m0 4v1m0 0v1m0 0v1m0 0v1m0 0v1m0 0v1m0 0v1m0 0v1m0 2v1m0 1v1m0 0v1m0 1v1m0 0v1m0 1v1m0 0v1m0 0v1m0 0v1m0 1v1m0 0v1m0 2v1m0 1v1m0 4v1m0 0v1m0 2v1m0 2v1m1-340v1m0 13v1m0 3v1m0 4v1m0 9v1m0 3v1m0 2v1m0 0v1m0 13v1m0 7v1m0 1v1m0 9v1m0 1v1m0 1v1m0 1v1m0 9v1m0 2v1m0 6v1m0 2v1m0 3v1m0 0v1m0 2v1m0 2v1m0 6v1m0 3v1m0 2v1m0 0v1m0 0v1m0 15v1m0 2v1m0 1v1m0 2v1m0 0v1m0 10v1m0 5v1m0 1v1m0 6v1m0 7v1m0 1v1m0 6v1m0 10v1m0 1v1m0 69v1m0 2v1m0 0v1m0 1v1m0 0v1m0 0v1m0 1v1m0 0v1m0 0v1m0 0v1m0 0v1m0 0v1m0 0v1m0 0v1m0 3v1m0 4v1m0 2v1m0 0v1m0 0v1m0 2v1m0 0v1m0 5v1m0 10v1m0 1v1m0 2v1m1-327v1m0 3v1m0 9v1m0 5v1m0 4v1m0 0v1m0 9v1m0 4v1m0 21v1m0 0v1m0 3v1m0 0v1m0 5v1m0 13v1m0 3v1m0 2v1m0 15v1m0 4v1m0 8v1m0 2v1m0 4v1m0 17v1m0 7v1m0 5v1m0 13v1m0 0v1m0 0v1m0 5v1m0 0v1m0 81v1m0 1v1m0 3v1m0 0v1m0 2v1m0 4v1m0 0v1m0 2v1m0 2v1m0 10v1m0 1v1m0 2v1m0 7v1m0 3v1m0 7v1m1-247v1m0 182v1m0 6v1m0 6v1m0 5v1m0 21v1m0 2v1m0 7v1m0 2v1m1-24v1m0 1v1m2-28v1"/>
<g filter="url(#fC)">
<polygon fill-opacity="0.020" points="1017,32 1021,32 1025,32 1029,32 1033,31 1038,31 1042,31 1046,30 1050,30 1054,29 1058,29 1060,29 1062,28 1066,27 1070,26 1074,26 1078,25 1083,24 1087,23 1088,23 1091,22 1094,20 1095,18 1097,12 1099,9 1099,61 1097,83 1095,100 1094,107 1091,113 1088,118 1087,118 1083,119 1078,119 1074,120 1070,121 1066,121 1062,122 1060,122 1058,123 1054,123 1050,124 1046,124 1042,124 1038,125 1033,125 1029,125 1025,126 1021,126 1017,126"/>
<polygon fill-opacity="0.041" points="1017,44 1021,44 1025,43 1029,43 1033,43 1038,43 1042,42 1046,42 1050,41 1054,41 1058,41 1060,40 1062,40 1066,39 1070,38 1074,37 1078,36 1083,36 1087,35 1088,35 1091,33 1094,30 1095,28 1097,21 1099,16 1099,54 1097,75 1095,90 1094,96 1091,102 1088,107 1087,107 1083,107 1078,108 1074,108 1070,109 1066,110 1062,110 1060,111 1058,111 1054,111 1050,112 1046,112 1042,113 1038,113 1033,113 1029,114 1025,114 1021,114 1017,115"/>
<polygon fill-opacity="0.064" points="1017,51 1021,50 1025,50 1029,50 1033,49 1038,49 1042,49 1046,48 1050,48 1054,48 1058,47 1060,47 1062,46 1066,45 1070,45 1074,44 1078,43 1083,42 1087,42 1088,42 1091,39 1094,36 1095,33 1097,26 1099,19 1099,51 1097,70 1095,84 1094,90 1091,95 1088,100 1087,100 1083,101 1078,101 1074,102 1070,102 1066,103 1062,104 1060,104 1058,104 1054,105 1050,105 1046,106 1042,106 1038,106 1033,107 1029,107 1025,107 1021,108 1017,108"/>
<polygon fill-opacity="0.091" points="1017,55 1021,55 1025,55 1029,55 1033,54 1038,54 1042,54 1046,53 1050,53 1054,52 1058,52 1060,52 1062,51 1066,50 1070,49 1074,49 1078,48 1083,47 1087,46 1088,46 1091,44 1094,41 1095,38 1097,29 1099,22 1099,48 1097,66 1095,80 1094,86 1091,91 1088,95 1087,95 1083,96 1078,96 1074,97 1070,98 1066,98 1062,99 1060,99 1058,100 1054,100 1050,100 1046,101 1042,101 1038,102 1033,102 1029,102 1025,103 1021,103 1017,103"/>
<polygon fill-opacity="0.125" points="1017,60 1021,59 1025,59 1029,59 1033,58 1038,58 1042,58 1046,57 1050,57 1054,57 1058,56 1060,56 1062,55 1066,55 1070,54 1074,53 1078,52 1083,51 1087,51 1088,51 1091,48 1094,45 1095,41 1097,33 1099,25 1099,45 1097,63 1095,76 1094,82 1091,87 1088,91 1087,91 1083,92 1078,92 1074,93 1070,93 1066,94 1062,95 1060,95 1058,95 1054,96 1050,96 1046,97 1042,97 1038,97 1033,98 1029,98 1025,98 1021,99 1017,99"/>
<polygon fill-opacity="0.143" points="1017,63 1021,63 1025,63 1029,62 1033,62 1038,62 1042,61 1046,61 1050,61 1054,60 1058,60 1060,60 1062,59 1066,58 1070,57 1074,56 1078,56 1083,55 1087,54 1088,54 1091,51 1094,48 1095,44 1097,35 1099,27 1099,43 1097,60 1095,73 1094,78 1091,83 1088,87 1087,87 1083,88 1078,88 1074,89 1070,90 1066,90 1062,91 1060,91 1058,92 1054,92 1050,93 1046,93 1042,93 1038,94 1033,94 1029,94 1025,95 1021,95 1017,95"/>
<polygon fill-opacity="0.167" points="1017,67 1021,67 1025,66 1029,66 1033,66 1038,66 1042,65 1046,65 1050,64 1054,64 1058,64 1060,63 1062,63 1066,62 1070,61 1074,60 1078,59 1083,59 1087,58 1088,58 1091,55 1094,51 1095,47 1097,38 1099,30 1099,40 1097,58 1095,70 1094,75 1091,80 1088,84 1087,84 1083,84 1078,85 1074,85 1070,86 1066,87 1062,87 1060,88 1058,88 1054,88 1050,89 1046,89 1042,90 1038,90 1033,90 1029,91 1025,91 1021,91 1017,92"/>
<polygon fill-opacity="0.200" points="1017,72 1021,71 1025,71 1029,71 1033,71 1038,70 1042,70 1046,70 1050,69 1054,69 1058,68 1060,68 1062,67 1066,66 1070,65 1074,65 1078,64 1083,63 1087,62 1088,62 1091,59 1094,55 1095,51 1097,41 1099,35 1099,35 1097,54 1095,66 1094,71 1091,76 1088,80 1087,80 1083,80 1078,80 1074,81 1070,81 1066,82 1062,83 1060,83 1058,83 1054,84 1050,84 1046,85 1042,85 1038,85 1033,86 1029,86 1025,86 1021,87 1017,87"/>
<polygon fill-opacity="0.020" points="1147,39 1149,39 1150,65 1151,78 1152,91 1155,105 1157,113 1159,125 1161,135 1163,143 1166,156 1167,156 1171,164 1175,171 1175,170 1179,178 1183,185 1184,186 1187,189 1191,194 1195,199 1197,201 1199,203 1203,208 1207,212 1210,216 1211,217 1215,219 1219,222 1223,225 1227,227 1228,228 1231,230 1235,232 1239,234 1243,236 1246,238 1247,238 1251,240 1255,241 1259,243 1263,245 1264,245 1267,247 1271,249 1275,251 1279,253 1283,255 1283,255 1287,256 1291,257 1295,258 1299,259 1300,259 1303,259 1307,259 1311,259 1315,260 1319,260 1323,260 1327,260 1329,260 1331,261 1335,261 1339,262 1343,262 1347,262 1351,262 1353,262 1355,262 1359,262 1363,262 1367,262 1371,261 1375,261 1377,261 1380,261 1384,260 1388,260 1392,260 1396,260 1400,260 1400,260 1404,260 1408,260 1412,260 1416,260 1420,260 1424,260 1428,260 1432,260 1436,260 1440,260 1444,259 1448,259 1450,258 1452,258 1456,258 1460,257 1464,257 1468,257 1472,257 1476,257 1480,258 1484,258 1488,258 1492,259 1496,259 1500,259 1500,259 1504,260 1508,260 1512,260 1516,260 1520,260 1524,259 1528,259 1532,259 1536,259 1540,259 1544,259 1548,259 1552,259 1556,259 1560,259 1560,260 1564,260 1568,260 1572,261 1576,261 1580,262 1584,262 1588,263 1592,263 1596,263 1600,264 1604,264 1608,264 1612,264 1612,335 1608,334 1604,334 1600,334 1596,334 1592,333 1588,333 1584,332 1580,332 1576,332 1572,331 1568,331 1564,330 1560,330 1560,330 1556,329 1552,329 1548,329 1544,329 1540,329 1536,329 1532,329 1528,329 1524,330 1520,330 1516,330 1512,330 1508,330 1504,330 1500,329 1500,329 1496,329 1492,329 1488,328 1484,328 1480,328 1476,328 1472,327 1468,327 1464,327 1460,328 1456,328 1452,328 1450,328 1448,329 1444,329 1440,330 1436,330 1432,330 1428,330 1424,330 1420,330 1416,330 1412,330 1408,330 1404,330 1400,330 1400,330 1396,330 1392,330 1388,330 1384,330 1380,331 1377,331 1375,331 1371,332 1367,332 1363,332 1359,332 1355,332 1353,332 1351,333 1347,332 1343,332 1339,332 1335,331 1331,331 1329,330 1327,330 1323,330 1319,330 1315,330 1311,330 1307,329 1303,329 1300,329 1299,329 1295,328 1291,327 1287,326 1283,325 1283,325 1279,323 1275,321 1271,319 1267,317 1264,315 1263,315 1259,313 1255,311 1251,310 1247,308 1246,308 1243,306 1239,304 1235,302 1231,300 1228,298 1227,297 1223,295 1219,292 1215,289 1211,287 1210,286 1207,283 1203,278 1199,274 1197,272 1195,270 1191,265 1187,261 1184,257 1183,256 1179,249 1175,242 1175,243 1171,234 1167,226 1166,225 1163,210 1161,202 1159,192 1157,180 1155,172 1152,158 1151,142 1150,125 1149,93 1147,77"/>
<polygon fill-opacity="0.041" points="1147,42 1149,44 1150,70 1151,83 1152,97 1155,111 1157,119 1159,131 1161,141 1163,149 1166,162 1167,163 1171,170 1175,177 1175,177 1179,184 1183,191 1184,192 1187,196 1191,200 1195,205 1197,207 1199,210 1203,214 1207,219 1210,222 1211,223 1215,226 1219,228 1223,231 1227,234 1228,234 1231,236 1235,238 1239,240 1243,242 1246,244 1247,244 1251,246 1255,248 1259,249 1263,251 1264,251 1267,253 1271,255 1275,257 1279,259 1283,261 1283,261 1287,262 1291,263 1295,264 1299,265 1300,265 1303,265 1307,266 1311,266 1315,266 1319,266 1323,266 1327,266 1329,266 1331,267 1335,267 1339,268 1343,268 1347,269 1351,269 1353,269 1355,268 1359,268 1363,268 1367,268 1371,268 1375,268 1377,267 1380,267 1384,267 1388,266 1392,266 1396,266 1400,266 1400,266 1404,266 1408,266 1412,266 1416,267 1420,267 1424,267 1428,267 1432,266 1436,266 1440,266 1444,265 1448,265 1450,264 1452,264 1456,264 1460,264 1464,264 1468,263 1472,264 1476,264 1480,264 1484,264 1488,264 1492,265 1496,265 1500,265 1500,266 1504,266 1508,266 1512,266 1516,266 1520,266 1524,266 1528,265 1532,265 1536,265 1540,265 1544,265 1548,265 1552,265 1556,265 1560,266 1560,266 1564,266 1568,267 1572,267 1576,268 1580,268 1584,269 1588,269 1592,269 1596,270 1600,270 1604,270 1608,271 1612,271 1612,328 1608,328 1604,328 1600,328 1596,327 1592,327 1588,327 1584,326 1580,326 1576,325 1572,325 1568,324 1564,324 1560,324 1560,323 1556,323 1552,323 1548,323 1544,322 1540,322 1536,323 1532,323 1528,323 1524,323 1520,323 1516,324 1512,324 1508,324 1504,323 1500,323 1500,323 1496,323 1492,322 1488,322 1484,322 1480,321 1476,321 1472,321 1468,321 1464,321 1460,321 1456,322 1452,322 1450,322 1448,322 1444,323 1440,323 1436,324 1432,324 1428,324 1424,324 1420,324 1416,324 1412,324 1408,324 1404,324 1400,324 1400,324 1396,324 1392,324 1388,324 1384,324 1380,324 1377,325 1375,325 1371,325 1367,325 1363,326 1359,326 1355,326 1353,326 1351,326 1347,326 1343,326 1339,325 1335,325 1331,324 1329,324 1327,324 1323,324 1319,324 1315,323 1311,323 1307,323 1303,323 1300,323 1299,323 1295,322 1291,321 1287,320 1283,319 1283,319 1279,317 1275,315 1271,312 1267,310 1264,309 1263,308 1259,307 1255,305 1251,304 1247,302 1246,301 1243,300 1239,298 1235,296 1231,294 1228,292 1227,291 1223,289 1219,286 1215,283 1211,281 1210,280 1207,276 1203,272 1199,268 1197,265 1195,263 1191,259 1187,254 1184,251 1183,250 1179,243 1175,236 1175,236 1171,228 1167,220 1166,219 1163,204 1161,196 1159,186 1157,174 1155,166 1152,152 1151,136 1150,120 1149,88 1147,73"/>
<polygon fill-opacity="0.064" points="1147,44 1149,46 1150,73 1151,87 1152,100 1155,115 1157,122 1159,135 1161,144 1163,152 1166,165 1167,166 1171,174 1175,181 1175,181 1179,188 1183,195 1184,196 1187,200 1191,204 1195,209 1197,211 1199,214 1203,218 1207,223 1210,226 1211,227 1215,230 1219,232 1223,235 1227,238 1228,238 1231,240 1235,242 1239,244 1243,246 1246,248 1247,248 1251,250 1255,252 1259,253 1263,255 1264,255 1267,257 1271,259 1275,261 1279,263 1283,265 1283,265 1287,266 1291,267 1295,268 1299,269 1300,269 1303,269 1307,270 1311,270 1315,270 1319,270 1323,270 1327,270 1329,270 1331,271 1335,271 1339,272 1343,272 1347,272 1351,273 1353,272 1355,272 1359,272 1363,272 1367,272 1371,272 1375,272 1377,271 1380,271 1384,271 1388,270 1392,270 1396,270 1400,270 1400,270 1404,270 1408,270 1412,270 1416,270 1420,271 1424,271 1428,270 1432,270 1436,270 1440,270 1444,269 1448,269 1450,268 1452,268 1456,268 1460,268 1464,267 1468,267 1472,267 1476,268 1480,268 1484,268 1488,268 1492,269 1496,269 1500,269 1500,270 1504,270 1508,270 1512,270 1516,270 1520,270 1524,270 1528,269 1532,269 1536,269 1540,269 1544,269 1548,269 1552,269 1556,269 1560,270 1560,270 1564,270 1568,271 1572,271 1576,272 1580,272 1584,273 1588,273 1592,273 1596,274 1600,274 1604,274 1608,275 1612,275 1612,324 1608,324 1604,324 1600,324 1596,323 1592,323 1588,323 1584,322 1580,322 1576,321 1572,321 1568,320 1564,320 1560,320 1560,319 1556,319 1552,319 1548,319 1544,319 1540,319 1536,319 1532,319 1528,319 1524,319 1520,319 1516,320 1512,320 1508,320 1504,319 1500,319 1500,319 1496,319 1492,318 1488,318 1484,318 1480,317 1476,317 1472,317 1468,317 1464,317 1460,317 1456,318 1452,318 1450,318 1448,319 1444,319 1440,319 1436,320 1432,320 1428,320 1424,320 1420,320 1416,320 1412,320 1408,320 1404,320 1400,320 1400,320 1396,320 1392,320 1388,320 1384,320 1380,321 1377,321 1375,321 1371,321 1367,322 1363,322 1359,322 1355,322 1353,322 1351,322 1347,322 1343,322 1339,322 1335,321 1331,320 1329,320 1327,320 1323,320 1319,320 1315,320 1311,319 1307,319 1303,319 1300,319 1299,319 1295,318 1291,317 1287,316 1283,315 1283,315 1279,313 1275,311 1271,309 1267,306 1264,305 1263,304 1259,303 1255,301 1251,300 1247,298 1246,298 1243,296 1239,294 1235,292 1231,290 1228,288 1227,287 1223,285 1219,282 1215,279 1211,277 1210,276 1207,272 1203,268 1199,264 1197,261 1195,259 1191,255 1187,250 1184,247 1183,246 1179,239 1175,232 1175,232 1171,224 1167,216 1166,215 1163,201 1161,192 1159,182 1157,170 1155,163 1152,148 1151,133 1150,117 1149,85 1147,71"/>
<polygon fill-opacity="0.091" points="1147,46 1149,49 1150,76 1151,90 1152,103 1155,118 1157,125 1159,137 1161,147 1163,155 1166,168 1167,169 1171,177 1175,184 1175,184 1179,191 1183,198 1184,200 1187,203 1191,208 1195,212 1197,214 1199,217 1203,221 1207,226 1210,229 1211,230 1215,233 1219,235 1223,238 1227,241 1228,241 1231,243 1235,245 1239,247 1243,250 1246,251 1247,252 1251,253 1255,255 1259,256 1263,258 1264,258 1267,260 1271,262 1275,264 1279,266 1283,268 1283,268 1287,269 1291,270 1295,271 1299,272 1300,273 1303,273 1307,273 1311,273 1315,273 1319,273 1323,273 1327,273 1329,274 1331,274 1335,275 1339,275 1343,275 1347,276 1351,276 1353,276 1355,276 1359,275 1363,275 1367,275 1371,275 1375,275 1377,274 1380,274 1384,274 1388,274 1392,273 1396,273 1400,273 1400,274 1404,274 1408,274 1412,274 1416,274 1420,274 1424,274 1428,274 1432,274 1436,273 1440,273 1444,273 1448,272 1450,272 1452,271 1456,271 1460,271 1464,271 1468,271 1472,271 1476,271 1480,271 1484,271 1488,272 1492,272 1496,272 1500,273 1500,273 1504,273 1508,273 1512,273 1516,273 1520,273 1524,273 1528,273 1532,272 1536,272 1540,272 1544,272 1548,272 1552,272 1556,273 1560,273 1560,273 1564,274 1568,274 1572,274 1576,275 1580,275 1584,276 1588,276 1592,277 1596,277 1600,277 1604,278 1608,278 1612,278 1612,321 1608,321 1604,321 1600,320 1596,320 1592,320 1588,319 1584,319 1580,319 1576,318 1572,318 1568,317 1564,317 1560,316 1560,316 1556,316 1552,315 1548,315 1544,315 1540,315 1536,315 1532,316 1528,316 1524,316 1520,316 1516,316 1512,316 1508,316 1504,316 1500,316 1500,316 1496,316 1492,315 1488,315 1484,315 1480,314 1476,314 1472,314 1468,314 1464,314 1460,314 1456,314 1452,315 1450,315 1448,315 1444,316 1440,316 1436,317 1432,317 1428,317 1424,317 1420,317 1416,317 1412,317 1408,317 1404,317 1400,317 1400,317 1396,317 1392,317 1388,317 1384,317 1380,317 1377,318 1375,318 1371,318 1367,318 1363,318 1359,319 1355,319 1353,319 1351,319 1347,319 1343,319 1339,318 1335,318 1331,317 1329,317 1327,317 1323,317 1319,316 1315,316 1311,316 1307,316 1303,316 1300,316 1299,316 1295,314 1291,313 1287,312 1283,311 1283,311 1279,309 1275,307 1271,305 1267,303 1264,301 1263,301 1259,300 1255,298 1251,296 1247,295 1246,294 1243,293 1239,291 1235,289 1231,286 1228,285 1227,284 1223,281 1219,279 1215,276 1211,273 1210,272 1207,269 1203,265 1199,260 1197,258 1195,256 1191,252 1187,247 1184,244 1183,242 1179,236 1175,229 1175,229 1171,221 1167,213 1166,212 1163,198 1161,189 1159,180 1157,167 1155,160 1152,145 1151,130 1150,114 1149,83 1147,69"/>
<polygon fill-opacity="0.125" points="1147,48 1149,51 1150,78 1151,92 1152,106 1155,120 1157,128 1159,140 1161,150 1163,158 1166,171 1167,172 1171,180 1175,187 1175,187 1179,194 1183,201 1184,202 1187,206 1191,211 1195,215 1197,217 1199,220 1203,224 1207,229 1210,232 1211,233 1215,236 1219,239 1223,241 1227,244 1228,245 1231,246 1235,248 1239,251 1243,253 1246,254 1247,255 1251,256 1255,258 1259,259 1263,261 1264,261 1267,263 1271,265 1275,267 1279,269 1283,271 1283,271 1287,272 1291,273 1295,274 1299,275 1300,276 1303,276 1307,276 1311,276 1315,276 1319,276 1323,276 1327,276 1329,277 1331,277 1335,278 1339,278 1343,278 1347,279 1351,279 1353,279 1355,279 1359,278 1363,278 1367,278 1371,278 1375,278 1377,278 1380,277 1384,277 1388,277 1392,276 1396,276 1400,276 1400,277 1404,277 1408,277 1412,277 1416,277 1420,277 1424,277 1428,277 1432,277 1436,276 1440,276 1444,276 1448,275 1450,275 1452,274 1456,274 1460,274 1464,274 1468,274 1472,274 1476,274 1480,274 1484,274 1488,275 1492,275 1496,275 1500,276 1500,276 1504,276 1508,276 1512,276 1516,276 1520,276 1524,276 1528,276 1532,275 1536,275 1540,275 1544,275 1548,275 1552,275 1556,276 1560,276 1560,276 1564,277 1568,277 1572,277 1576,278 1580,278 1584,279 1588,279 1592,280 1596,280 1600,280 1604,281 1608,281 1612,281 1612,318 1608,318 1604,318 1600,317 1596,317 1592,317 1588,316 1584,316 1580,315 1576,315 1572,315 1568,314 1564,314 1560,313 1560,313 1556,313 1552,312 1548,312 1544,312 1540,312 1536,312 1532,313 1528,313 1524,313 1520,313 1516,313 1512,313 1508,313 1504,313 1500,313 1500,313 1496,312 1492,312 1488,312 1484,311 1480,311 1476,311 1472,311 1468,311 1464,311 1460,311 1456,311 1452,312 1450,312 1448,312 1444,313 1440,313 1436,314 1432,314 1428,314 1424,314 1420,314 1416,314 1412,314 1408,314 1404,314 1400,314 1400,314 1396,314 1392,314 1388,314 1384,314 1380,314 1377,315 1375,315 1371,315 1367,315 1363,315 1359,316 1355,316 1353,316 1351,316 1347,316 1343,316 1339,315 1335,315 1331,314 1329,314 1327,314 1323,313 1319,313 1315,313 1311,313 1307,313 1303,313 1300,313 1299,312 1295,311 1291,310 1287,309 1283,308 1283,308 1279,306 1275,304 1271,302 1267,300 1264,298 1263,298 1259,297 1255,295 1251,293 1247,292 1246,291 1243,290 1239,288 1235,286 1231,283 1228,282 1227,281 1223,278 1219,276 1215,273 1211,270 1210,269 1207,266 1203,262 1199,257 1197,255 1195,253 1191,249 1187,244 1184,241 1183,240 1179,233 1175,226 1175,226 1171,218 1167,210 1166,209 1163,195 1161,187 1159,177 1157,165 1155,157 1152,143 1151,128 1150,112 1149,81 1147,68"/>
<polygon fill-opacity="0.143" points="1147,49 1149,52 1150,80 1151,94 1152,108 1155,123 1157,130 1159,142 1161,152 1163,160 1166,174 1167,174 1171,182 1175,190 1175,189 1179,197 1183,204 1184,205 1187,209 1191,213 1195,218 1197,220 1199,222 1203,227 1207,232 1210,235 1211,236 1215,239 1219,241 1223,244 1227,247 1228,247 1231,249 1235,251 1239,253 1243,255 1246,257 1247,257 1251,259 1255,261 1259,262 1263,264 1264,264 1267,266 1271,268 1275,270 1279,272 1283,274 1283,274 1287,275 1291,276 1295,277 1299,278 1300,278 1303,278 1307,278 1311,279 1315,279 1319,279 1323,279 1327,279 1329,279 1331,280 1335,280 1339,281 1343,281 1347,281 1351,282 1353,281 1355,281 1359,281 1363,281 1367,281 1371,281 1375,280 1377,280 1380,280 1384,279 1388,279 1392,279 1396,279 1400,279 1400,279 1404,279 1408,279 1412,279 1416,279 1420,279 1424,279 1428,279 1432,279 1436,279 1440,279 1444,278 1448,278 1450,277 1452,277 1456,277 1460,277 1464,276 1468,276 1472,276 1476,277 1480,277 1484,277 1488,277 1492,278 1496,278 1500,278 1500,278 1504,279 1508,279 1512,279 1516,279 1520,279 1524,279 1528,278 1532,278 1536,278 1540,278 1544,278 1548,278 1552,278 1556,278 1560,279 1560,279 1564,279 1568,280 1572,280 1576,281 1580,281 1584,281 1588,282 1592,282 1596,283 1600,283 1604,283 1608,283 1612,284 1612,315 1608,315 1604,315 1600,315 1596,314 1592,314 1588,314 1584,313 1580,313 1576,312 1572,312 1568,311 1564,311 1560,311 1560,310 1556,310 1552,310 1548,310 1544,310 1540,310 1536,310 1532,310 1528,310 1524,310 1520,311 1516,311 1512,311 1508,311 1504,311 1500,310 1500,310 1496,310 1492,309 1488,309 1484,309 1480,309 1476,308 1472,308 1468,308 1464,308 1460,308 1456,309 1452,309 1450,309 1448,310 1444,310 1440,310 1436,311 1432,311 1428,311 1424,311 1420,311 1416,311 1412,311 1408,311 1404,311 1400,311 1400,311 1396,311 1392,311 1388,311 1384,311 1380,312 1377,312 1375,312 1371,312 1367,313 1363,313 1359,313 1355,313 1353,313 1351,313 1347,313 1343,313 1339,313 1335,312 1331,312 1329,311 1327,311 1323,311 1319,311 1315,311 1311,310 1307,310 1303,310 1300,310 1299,310 1295,309 1291,308 1287,307 1283,306 1283,306 1279,304 1275,302 1271,300 1267,297 1264,296 1263,295 1259,294 1255,292 1251,291 1247,289 1246,289 1243,287 1239,285 1235,283 1231,281 1228,279 1227,278 1223,276 1219,273 1215,270 1211,268 1210,267 1207,263 1203,259 1199,255 1197,253 1195,250 1191,246 1187,242 1184,238 1183,237 1179,230 1175,223 1175,224 1171,216 1167,208 1166,207 1163,193 1161,185 1159,175 1157,163 1155,155 1152,141 1151,125 1150,110 1149,79 1147,66"/>
<polygon fill-opacity="0.167" points="1147,50 1149,54 1150,82 1151,96 1152,110 1155,125 1157,132 1159,144 1161,154 1163,162 1166,176 1167,177 1171,184 1175,192 1175,192 1179,199 1183,206 1184,208 1187,211 1191,216 1195,220 1197,223 1199,225 1203,230 1207,234 1210,238 1211,238 1215,241 1219,244 1223,247 1227,249 1228,250 1231,252 1235,254 1239,256 1243,258 1246,259 1247,260 1251,262 1255,263 1259,265 1263,266 1264,267 1267,268 1271,270 1275,273 1279,275 1283,277 1283,277 1287,278 1291,279 1295,280 1299,281 1300,281 1303,281 1307,281 1311,281 1315,281 1319,282 1323,282 1327,282 1329,282 1331,282 1335,283 1339,283 1343,284 1347,284 1351,284 1353,284 1355,284 1359,284 1363,284 1367,283 1371,283 1375,283 1377,283 1380,282 1384,282 1388,282 1392,282 1396,282 1400,282 1400,282 1404,282 1408,282 1412,282 1416,282 1420,282 1424,282 1428,282 1432,282 1436,282 1440,281 1444,281 1448,280 1450,280 1452,280 1456,279 1460,279 1464,279 1468,279 1472,279 1476,279 1480,279 1484,280 1488,280 1492,280 1496,281 1500,281 1500,281 1504,281 1508,282 1512,282 1516,282 1520,281 1524,281 1528,281 1532,281 1536,281 1540,280 1544,280 1548,280 1552,281 1556,281 1560,281 1560,282 1564,282 1568,282 1572,283 1576,283 1580,284 1584,284 1588,285 1592,285 1596,285 1600,286 1604,286 1608,286 1612,286 1612,313 1608,313 1604,312 1600,312 1596,312 1592,311 1588,311 1584,311 1580,310 1576,310 1572,309 1568,309 1564,308 1560,308 1560,308 1556,307 1552,307 1548,307 1544,307 1540,307 1536,307 1532,307 1528,307 1524,308 1520,308 1516,308 1512,308 1508,308 1504,308 1500,308 1500,307 1496,307 1492,307 1488,306 1484,306 1480,306 1476,306 1472,306 1468,306 1464,306 1460,306 1456,306 1452,306 1450,306 1448,307 1444,307 1440,308 1436,308 1432,308 1428,309 1424,309 1420,309 1416,309 1412,308 1408,308 1404,308 1400,308 1400,308 1396,308 1392,308 1388,308 1384,309 1380,309 1377,309 1375,310 1371,310 1367,310 1363,310 1359,310 1355,310 1353,311 1351,311 1347,311 1343,310 1339,310 1335,309 1331,309 1329,308 1327,308 1323,308 1319,308 1315,308 1311,308 1307,308 1303,308 1300,307 1299,307 1295,306 1291,305 1287,304 1283,303 1283,303 1279,301 1275,299 1271,297 1267,295 1264,293 1263,293 1259,291 1255,290 1251,288 1247,286 1246,286 1243,284 1239,282 1235,280 1231,278 1228,276 1227,276 1223,273 1219,270 1215,268 1211,265 1210,264 1207,261 1203,257 1199,252 1197,250 1195,248 1191,243 1187,239 1184,236 1183,234 1179,228 1175,221 1175,221 1171,213 1167,205 1166,204 1163,191 1161,182 1159,173 1157,160 1155,153 1152,138 1151,123 1150,108 1149,78 1147,65"/>
<polygon fill-opacity="0.200" points="1147,52 1149,56 1150,84 1151,98 1152,112 1155,127 1157,134 1159,147 1161,156 1163,165 1166,178 1167,179 1171,187 1175,195 1175,195 1179,202 1183,209 1184,210 1187,214 1191,219 1195,223 1197,225 1199,228 1203,232 1207,237 1210,241 1211,241 1215,244 1219,247 1223,249 1227,252 1228,253 1231,255 1235,257 1239,259 1243,261 1246,262 1247,263 1251,265 1255,266 1259,268 1263,269 1264,270 1267,271 1271,273 1275,276 1279,278 1283,280 1283,280 1287,281 1291,282 1295,283 1299,284 1300,284 1303,284 1307,284 1311,284 1315,284 1319,285 1323,285 1327,285 1329,285 1331,285 1335,286 1339,286 1343,287 1347,287 1351,287 1353,287 1355,287 1359,287 1363,287 1367,286 1371,286 1375,286 1377,286 1380,285 1384,285 1388,285 1392,285 1396,285 1400,285 1400,285 1404,285 1408,285 1412,285 1416,285 1420,285 1424,285 1428,285 1432,285 1436,285 1440,284 1444,284 1448,283 1450,283 1452,283 1456,282 1460,282 1464,282 1468,282 1472,282 1476,282 1480,282 1484,283 1488,283 1492,283 1496,284 1500,284 1500,284 1504,284 1508,285 1512,285 1516,285 1520,284 1524,284 1528,284 1532,284 1536,284 1540,283 1544,283 1548,283 1552,284 1556,284 1560,284 1560,285 1564,285 1568,285 1572,286 1576,286 1580,287 1584,287 1588,288 1592,288 1596,288 1600,289 1604,289 1608,289 1612,289 1612,310 1608,310 1604,309 1600,309 1596,309 1592,308 1588,308 1584,308 1580,307 1576,307 1572,306 1568,306 1564,305 1560,305 1560,305 1556,304 1552,304 1548,304 1544,304 1540,304 1536,304 1532,304 1528,304 1524,305 1520,305 1516,305 1512,305 1508,305 1504,305 1500,305 1500,304 1496,304 1492,304 1488,303 1484,303 1480,303 1476,303 1472,303 1468,303 1464,303 1460,303 1456,303 1452,303 1450,304 1448,304 1444,304 1440,305 1436,305 1432,305 1428,306 1424,306 1420,306 1416,306 1412,306 1408,305 1404,305 1400,305 1400,305 1396,305 1392,305 1388,305 1384,306 1380,306 1377,306 1375,307 1371,307 1367,307 1363,307 1359,307 1355,307 1353,308 1351,308 1347,308 1343,307 1339,307 1335,306 1331,306 1329,305 1327,305 1323,305 1319,305 1315,305 1311,305 1307,305 1303,305 1300,304 1299,304 1295,303 1291,302 1287,301 1283,300 1283,300 1279,298 1275,296 1271,294 1267,292 1264,290 1263,290 1259,288 1255,287 1251,285 1247,283 1246,283 1243,281 1239,279 1235,277 1231,275 1228,273 1227,273 1223,270 1219,267 1215,265 1211,262 1210,261 1207,258 1203,254 1199,249 1197,247 1195,245 1191,241 1187,236 1184,233 1183,232 1179,225 1175,218 1175,218 1171,211 1167,203 1166,202 1163,188 1161,180 1159,170 1157,158 1155,151 1152,136 1151,121 1150,106 1149,76 1147,63"/>
<polygon fill-opacity="0.250" points="1147,54 1149,58 1150,86 1151,101 1152,115 1155,130 1157,137 1159,149 1161,159 1163,167 1166,181 1167,182 1171,190 1175,198 1175,198 1179,205 1183,212 1184,214 1187,217 1191,222 1195,227 1197,229 1199,232 1203,236 1207,241 1210,245 1211,246 1215,248 1219,251 1223,254 1227,256 1228,257 1231,259 1235,261 1239,263 1243,265 1246,267 1247,267 1251,269 1255,270 1259,272 1263,273 1264,274 1267,275 1271,278 1275,280 1279,282 1283,284 1283,284 1287,285 1291,286 1295,287 1299,288 1300,288 1303,288 1307,288 1311,288 1315,289 1319,289 1323,289 1327,289 1329,289 1331,290 1335,290 1339,291 1343,291 1347,291 1351,291 1353,291 1355,291 1359,291 1363,291 1367,291 1371,290 1375,290 1377,290 1380,290 1384,289 1388,289 1392,289 1396,289 1400,289 1400,289 1404,289 1408,289 1412,289 1416,289 1420,289 1424,289 1428,289 1432,289 1436,289 1440,288 1444,288 1448,288 1450,287 1452,287 1456,287 1460,286 1464,286 1468,286 1472,286 1476,286 1480,287 1484,287 1488,287 1492,287 1496,288 1500,288 1500,288 1504,289 1508,289 1512,289 1516,289 1520,289 1524,288 1528,288 1532,288 1536,288 1540,288 1544,288 1548,288 1552,288 1556,288 1560,288 1560,289 1564,289 1568,289 1572,290 1576,290 1580,291 1584,291 1588,292 1592,292 1596,292 1600,293 1604,293 1608,293 1612,293 1612,306 1608,305 1604,305 1600,305 1596,305 1592,304 1588,304 1584,303 1580,303 1576,303 1572,302 1568,302 1564,301 1560,301 1560,301 1556,300 1552,300 1548,300 1544,300 1540,300 1536,300 1532,300 1528,300 1524,301 1520,301 1516,301 1512,301 1508,301 1504,301 1500,300 1500,300 1496,300 1492,300 1488,299 1484,299 1480,299 1476,299 1472,298 1468,298 1464,298 1460,299 1456,299 1452,299 1450,299 1448,300 1444,300 1440,301 1436,301 1432,301 1428,301 1424,301 1420,301 1416,301 1412,301 1408,301 1404,301 1400,301 1400,301 1396,301 1392,301 1388,301 1384,301 1380,302 1377,302 1375,302 1371,303 1367,303 1363,303 1359,303 1355,303 1353,303 1351,304 1347,303 1343,303 1339,303 1335,302 1331,302 1329,301 1327,301 1323,301 1319,301 1315,301 1311,301 1307,300 1303,300 1300,300 1299,300 1295,299 1291,298 1287,297 1283,296 1283,296 1279,294 1275,292 1271,290 1267,288 1264,286 1263,286 1259,284 1255,283 1251,281 1247,279 1246,279 1243,277 1239,275 1235,273 1231,271 1228,269 1227,269 1223,266 1219,263 1215,261 1211,258 1210,257 1207,254 1203,250 1199,246 1197,243 1195,241 1191,237 1187,233 1184,230 1183,228 1179,222 1175,215 1175,215 1171,207 1167,200 1166,199 1163,185 1161,178 1159,168 1157,156 1155,148 1152,133 1151,119 1150,104 1149,74 1147,61"/>
<polygon fill-opacity="0.267" points="1147,58 1149,60 1150,88 1151,103 1152,118 1155,133 1157,140 1159,152 1161,162 1163,171 1166,185 1167,186 1171,194 1175,203 1175,203 1179,210 1183,218 1184,220 1187,224 1191,230 1191,230 1187,226 1184,224 1183,223 1179,217 1175,210 1175,210 1171,203 1167,196 1166,195 1163,182 1161,174 1159,165 1157,153 1155,145 1152,130 1151,116 1150,102 1149,72 1147,58"/>
<polygon fill-opacity="0.318" points="1147,58 1149,64 1150,93 1151,110 1151,110 1150,97 1149,68 1147,58"/>
</g>
<path fill="none" stroke="#000" stroke-width="1" transform="translate(.5 0)" d="M1095 28v1m0 2v1m2-6v1m0 4v1m0 7v1m0 7v1m1-13v1m0 13v1m1-13v1m0 10v1m0 108v1m0 20v1m0 11v1m0 6v1m0 12v1m0 31v1m0 50v1m1-155v1m0 18v1m0 2v1m0 0v1m0 8v1m0 4v1m0 9v1m0 8v1m0 8v1m0 21v1m0 5v1m0 4v1m0 4v1m0 5v1m0 0v1m0 4v1m0 18v1m0 9v1m0 0v1m0 3v1m0 0v1m0 0v1m0 8v1m0 0v1m0 9v1m0 50v1m0 1v1m0 2v1m0 0v1m0 1v1m0 6v1m1-239v1m0 10v1m0 11v1m0 6v1m0 14v1m0 0v1m0 4v1m0 30v1m0 3v1m0 1v1m0 3v1m0 7v1m0 2v1m0 1v1m0 1v1m0 1v1m0 3v1m0 2v1m0 0v1m0 0v1m0 0v1m0 2v1m0 2v1m0 3v1m0 5v1m0 0v1m0 2v1m0 0v1m0 1v1m0 0v1m0 0v1m0 5v1m0 2v1m0 3v1m0 2v1m0 7v1m0 52v1m0 6v1m0 37v1m1-171v1m0 15v1m0 2v1m0 6v1m0 3v1m0 8v1m0 0v1m0 4v1m0 3v1m0 0v1m0 3v1m0 9v1m0 24v1m0 13v1m0 4v1m0 19v1m0 1v1m0 2v1m0 4v1m0 6v1m0 1v1m0 2v1m0 17v1m0 5v1m1-176v1m0 42v1m0 44v1m0 1v1m0 2v1m0 14v1m0 0v1m0 4v1m0 5v1m0 2v1m0 5v1m0 6v1m0 3v1m0 2v1m0 0v1m0 1v1m0 1v1m0 0v1m0 0v1m0 2v1m0 0v1m0 2v1m0 17v1m1-69v1m0 4v1m0 2v1m0 2v1m0 1v1m0 0v1m0 2v1m0 0v1m0 0v1m0 3v1m0 0v1m0 2v1m0 1v1m0 0v1m0 3v1m0 0v1m0 1v1m0 0v1m0 0v1m0 5v1m0 1v1m0 0v1m0 1v1m0 1v1m0 2v1m0 3v1m0 8v1m0 2v1m1-64v1m0 4v1m0 0v1m0 1v1m0 0v1m0 3v1m0 2v1m0 2v1m0 1v1m0 0v1m0 1v1m0 2v1m0 1v1m0 3v1m0 4v1m0 0v1m0 2v1m0 2v1m0 3v1m0 0v1m0 0v1m0 8v1m1-59v1m0 5v1m0 0v1m0 1v1m0 0v1m0 1v1m0 3v1m0 0v1m0 1v1m0 0v1m0 1v1m0 0v1m0 0v1m0 0v1m0 0v1m0 0v1m0 0v1m0 4v1m0 3v1m0 1v1m0 1v1m0 0v1m0 0v1m0 1v1m0 1v1m0 1v1m0 4v1m0 5v1m0 4v1m0 2v1m0 1v1m1-64v1m0 0v1m0 1v1m0 6v1m0 0v1m0 1v1m0 2v1m0 1v1m0 0v1m0 0v1m0 0v1m0 0v1m0 3v1m0 0v1m0 1v1m0 0v1m0 0v1m0 0v1m0 0v1m0 4v1m0 0v1m0 0v1m0 1v1m0 0v1m0 1v1m0 1v1m1-48v1m0 1v1m0 6v1m0 3v1m0 2v1m0 0v1m0 0v1m0 0v1m0 1v1m0 2v1m0 2v1m0 0v1m0 0v1m0 0v1m0 0v1m0 1v1m0 1v1m0 0v1m0 1v1m0 1v1m0 1v1m0 6v1m0 1v1m0 3v1m0 2v1m0 1v1m0 7v1m0 13v1m1-89v1m0 3v1m0 5v1m0 2v1m0 0v1m0 4v1m0 5v1m0 2v1m0 1v1m0 2v1m0 1v1m0 3v1m0 9v1m0 0v1m0 2v1m0 1v1m0 1v1m0 0v1m0 1v1m0 0v1m0 4v1m0 6v1m1-72v1m0 1v1m0 2v1m0 8v1m0 0v1m0 4v1m0 0v1m0 3v1m0 2v1m0 2v1m0 0v1m0 1v1m0 8v1m0 4v1m0 0v1m0 1v1m0 2v1m0 3v1m0 9v1m0 5v1m0 7v1m1-78v1m0 11v1m0 14v1m0 3v1m0 0v1m0 11v1m0 3v1m0 3v1m0 7v1m0 3v1m0 3v1m0 0v1m0 5v1m0 0v1m0 0v1m0 1v1m0 7v1m0 17v1m0 2v1m1-84v1m0 46v1m0 6v1m0 7v1m0 1v1m0 0v1m0 3v1m0 9v1m0 0v1m0 7v1m0 1v1m1-106v1m0 25v1m0 35v1m0 16v1m0 5v1m0 0v1m0 1v1m0 2v1m0 2v1m0 1v1m0 1v1m0 0v1m0 6v1m1-31v1m0 6v1m0 0v1m0 0v1m0 2v1m0 5v1m0 0v1m0 11v1m0 3v1m0 11v1m1-44v1m0 12v1m0 1v1m0 12v1m0 3v1m0 3v1m1-89v1m0 32v1m0 47v1m0 6v1m1-111v1m0 15v1m0 5v1m0 6v1m0 5v1m0 3v1m0 12v1m0 1v1m0 5v1m0 5v1m0 0v1m0 2v1m0 2v1m0 3v1m0 8v1m0 4v1m0 20v1m0 1v1m0 9v1m0 1v1m1-128v1m0 13v1m0 0v1m0 0v1m0 0v1m0 13v1m0 2v1m0 5v1m0 5v1m0 1v1m0 7v1m0 3v1m0 16v1m0 17v1m0 0v1m0 24v1m0 2v1m0 0v1m1-91v1m22-53v1m0 33v1m0 89v1m0 12v1m1-338v1m0 37v1m0 29v1m0 8v1m0 0v1m0 25v1m0 4v1m0 10v1m0 5v1m0 7v1m0 5v1m0 18v1m0 0v1m0 2v1m0 11v1m0 20v1m0 0v1m0 13v1m0 4v1m0 4v1m0 13v1m0 12v1m0 21v1m0 0v1m0 2v1m0 3v1m0 6v1m0 0v1m0 31v1m0 0v1m0 10v1m0 4v1m0 5v1m1-361v1m0 16v1m0 10v1m0 63v1m0 7v1m0 12v1m0 7v1m0 5v1m0 17v1m0 21v1m0 31v1m0 43v1m0 18v1m0 43v1m0 23v1m0 9v1m0 1v1m0 15v1m1-426v1m0 117v1m0 22v1m0 10v1m0 15v1m1-168v1m0 68v1m0 14v1m0 6v1m0 39v1m0 6v1m0 12v1m0 1v1m0 12v1m0 27v1m0 0v1m0 17v1m0 31v1m0 3v1m1-255v1m0 0v1m0 1v1m0 0v1m0 3v1m0 4v1m0 4v1m0 6v1m0 5v1m0 3v1m0 23v1m0 15v1m0 22v1m0 22v1m0 12v1m0 0v1m0 16v1m0 13v1m0 4v1m0 24v1m0 11v1m1-213v1m0 1v1m0 0v1m0 2v1m0 0v1m0 5v1m0 0v1m0 0v1m0 1v1m0 0v1m0 6v1m0 2v1m0 2v1m0 5v1m0 6v1m0 4v1m0 8v1m0 6v1m1-65v1m0 2v1m0 1v1m0 1v1m0 0v1m0 2v1m0 0v1m0 1v1m0 0v1m0 9v1m0 1v1m0 4v1m0 0v1m0 1v1m0 0v1m0 0v1m0 0v1m0 0v1m0 1v1m0 0v1m0 1v1m0 0v1m0 2v1m0 0v1m0 2v1m0 0v1m0 0v1m0 2v1m0 3v1m1-72v1m0 1v1m0 1v1m0 6v1m0 0v1m0 0v1m0 1v1m0 1v1m0 0v1m0 3v1m0 0v1m0 0v1m0 3v1m0 0v1m0 4v1m0 1v1m0 1v1m0 4v1m0 0v1m0 4v1m0 1v1m0 0v1m0 1v1m0 2v1m0 2v1m0 2v1m0 0v1m0 1v1m0 2v1m0 2v1m0 1v1m0 2v1m0 8v1m1-76v1m0 3v1m0 0v1m0 0v1m0 0v1m0 0v1m0 0v1m0 4v1m0 0v1m0 2v1m0 0v1m0 1v1m0 0v1m0 0v1m0 1v1m0 0v1m0 0v1m0 0v1m0 0v1m0 0v1m0 1v1m0 0v1m0 0v1m0 2v1m0 0v1m0 0v1m0 0v1m0 0v1m0 1v1m0 1v1m0 0v1m0 0v1m0 0v1m0 1v1m0 0v1m0 0v1m0 0v1m0 1v1m0 0v1m0 0v1m0 0v1m0 0v1m0 0v1m0 2v1m0 4v1m0 5v1m0 3v1m1-73v1m0 1v1m0 1v1m0 3v1m0 3v1m0 5v1m0 1v1m0 0v1m0 0v1m0 0v1m0 0v1m0 0v1m0 2v1m0 0v1m0 0v1m0 1v1m0 0v1m0 0v1m0 2v1m0 1v1m0 2v1m0 1v1m0 0v1m0 1v1m0 0v1m0 3v1m0 2v1m0 1v1m0 0v1m0 1v1m0 1v1m0 0v1m0 0v1m0 6v1m0 2v1m0 0v1m0 5v1m0 0v1m1-91v1m0 11v1m0 5v1m0 0v1m0 6v1m0 4v1m0 1v1m0 1v1m0 1v1m0 2v1m0 1v1m0 0v1m0 9v1m0 0v1m0 8v1m0 1v1m0 0v1m0 0v1m0 0v1m0 0v1m0 1v1m0 3v1m0 1v1m0 3v1m0 0v1m0 1v1m0 2v1m0 0v1m0 0v1m0 3v1m1-79v1m0 11v1m0 15v1m0 1v1m0 3v1m0 0v1m0 7v1m0 0v1m0 6v1m0 3v1m0 0v1m0 0v1m0 0v1m0 0v1m0 0v1m0 0v1m0 1v1m0 0v1m0 6v1m0 1v1m0 0v1m0 3v1m1-53v1m0 13v1m0 4v1m0 6v1m0 4v1m0 0v1m0 2v1m0 0v1m0 1v1m0 0v1m0 0v1m0 0v1m0 0v1m0 3v1m0 2v1m0 1v1m0 0v1m0 2v1m0 1v1m1-41v1m0 2v1m0 11v1m0 3v1m0 1v1m0 1v1m0 0v1m0 0v1m0 2v1m0 1v1m0 0v1m0 2v1m0 5v1m1-26v1m0 1v1m0 5v1m0 0v1m0 0v1m0 6v1m0 0v1m0 0v1m0 1v1m0 0v1m0 1v1m1-28v1m0 6v1m0 3v1m0 6v1m0 6v1m0 1v1m2-4v1m0 2v1m2-9v1"/>
<g filter="url(#fD)">
<polygon fill-opacity="0.020" points="1008,697 1012,698 1016,698 1020,699 1024,699 1028,700 1030,700 1032,701 1036,701 1040,702 1044,702 1048,703 1052,703 1055,704 1056,715 1056,842 1055,853 1052,852 1048,852 1044,852 1040,851 1036,851 1032,850 1030,850 1028,849 1024,848 1020,848 1016,847 1012,847 1008,846"/>
<polygon fill-opacity="0.041" points="1008,716 1012,716 1016,717 1020,717 1024,718 1028,718 1030,719 1032,719 1036,720 1040,720 1044,721 1048,721 1052,722 1055,722 1056,731 1056,826 1055,834 1052,834 1048,834 1044,833 1040,833 1036,832 1032,832 1030,831 1028,831 1024,830 1020,830 1016,829 1012,829 1008,828"/>
<polygon fill-opacity="0.064" points="1008,725 1012,726 1016,726 1020,727 1024,727 1028,728 1030,728 1032,729 1036,729 1040,730 1044,731 1048,731 1052,731 1055,732 1056,739 1056,817 1055,825 1052,824 1048,824 1044,824 1040,823 1036,823 1032,822 1030,822 1028,821 1024,820 1020,820 1016,819 1012,819 1008,818"/>
<polygon fill-opacity="0.091" points="1008,732 1012,732 1016,733 1020,733 1024,734 1028,735 1030,735 1032,736 1036,736 1040,737 1044,737 1048,738 1052,738 1055,738 1056,746 1056,811 1055,818 1052,818 1048,817 1044,817 1040,816 1036,816 1032,815 1030,815 1028,814 1024,814 1020,813 1016,813 1012,812 1008,812"/>
<polygon fill-opacity="0.125" points="1008,738 1012,738 1016,738 1020,739 1024,740 1028,740 1030,741 1032,741 1036,742 1040,742 1044,743 1048,743 1052,744 1055,744 1056,752 1056,804 1055,813 1052,812 1048,812 1044,811 1040,811 1036,810 1032,810 1030,809 1028,809 1024,808 1020,808 1016,807 1012,807 1008,806"/>
<polygon fill-opacity="0.143" points="1008,742 1012,743 1016,743 1020,744 1024,744 1028,745 1030,745 1032,746 1036,746 1040,747 1044,747 1048,748 1052,748 1055,748 1056,758 1056,798 1055,808 1052,808 1048,807 1044,807 1040,806 1036,806 1032,805 1030,805 1028,804 1024,804 1020,803 1016,803 1012,802 1008,802"/>
<polygon fill-opacity="0.167" points="1008,746 1012,747 1016,747 1020,748 1024,748 1028,749 1030,749 1032,750 1036,750 1040,751 1044,752 1048,752 1052,752 1055,753 1056,765 1056,792 1055,804 1052,803 1048,803 1044,803 1040,802 1036,801 1032,801 1030,800 1028,800 1024,799 1020,799 1016,798 1012,798 1008,797"/>
<polygon fill-opacity="0.200" points="1008,751 1012,751 1016,752 1020,752 1024,753 1028,753 1030,754 1032,754 1036,755 1040,755 1044,756 1048,756 1052,757 1055,757 1056,778 1056,778 1055,799 1052,799 1048,799 1044,798 1040,798 1036,797 1032,796 1030,796 1028,796 1024,795 1020,794 1016,794 1012,793 1008,793"/>
<polygon fill-opacity="0.250" points="1008,756 1012,757 1016,757 1020,758 1024,758 1028,759 1030,759 1032,760 1036,760 1040,761 1044,761 1048,762 1052,762 1055,763 1056,778 1056,778 1055,794 1052,794 1048,793 1044,793 1040,792 1036,792 1032,791 1030,791 1028,790 1024,790 1020,789 1016,788 1012,788 1008,788"/>
<polygon fill-opacity="0.267" points="1008,763 1012,763 1016,764 1020,764 1024,765 1028,765 1030,766 1032,766 1036,767 1040,767 1044,768 1048,768 1052,769 1055,769 1056,778 1056,778 1055,787 1052,787 1048,787 1044,786 1040,786 1036,785 1032,784 1030,784 1028,784 1024,783 1020,782 1016,782 1012,781 1008,781"/>
<polygon fill-opacity="0.020" points="1070,720 1073,715 1074,715 1078,715 1082,715 1086,715 1090,715 1094,715 1098,716 1102,717 1106,717 1110,718 1114,719 1118,720 1120,720 1122,721 1126,723 1130,724 1134,725 1138,727 1140,728 1142,728 1146,729 1150,730 1154,731 1158,732 1160,732 1162,732 1166,733 1170,734 1174,735 1178,736 1180,736 1182,736 1186,738 1190,739 1194,741 1198,742 1200,743 1202,744 1206,746 1210,748 1212,749 1214,761 1216,773 1218,783 1220,793 1222,795 1226,797 1230,800 1234,803 1235,803 1238,804 1242,806 1246,808 1250,809 1254,811 1255,811 1258,810 1262,810 1266,809 1270,809 1274,810 1278,812 1282,814 1285,815 1286,818 1290,829 1292,835 1294,841 1298,853 1302,856 1306,859 1310,862 1314,865 1315,866 1318,868 1322,870 1326,872 1330,875 1333,876 1334,877 1338,882 1342,886 1345,890 1346,890 1350,891 1354,893 1358,894 1360,895 1362,895 1366,895 1370,896 1374,896 1378,896 1382,896 1386,896 1390,896 1394,896 1398,896 1400,896 1402,895 1406,894 1410,893 1414,892 1418,891 1422,890 1426,888 1427,888 1430,889 1434,890 1438,892 1442,893 1446,894 1450,895 1454,895 1458,895 1462,895 1466,895 1470,895 1474,895 1478,895 1482,895 1485,895 1486,895 1490,895 1494,896 1498,896 1502,896 1506,896 1510,897 1514,897 1518,898 1520,898 1522,898 1526,898 1530,899 1534,899 1538,899 1542,899 1546,899 1550,899 1554,899 1558,899 1560,899 1562,899 1566,898 1570,898 1574,898 1578,897 1582,897 1586,897 1590,897 1594,896 1598,896 1602,896 1606,896 1610,896 1610,974 1606,974 1602,974 1598,974 1594,974 1590,974 1586,974 1582,974 1578,975 1574,975 1570,975 1566,976 1562,976 1560,976 1558,977 1554,977 1550,977 1546,977 1542,977 1538,976 1534,976 1530,976 1526,976 1522,975 1520,975 1518,975 1514,975 1510,974 1506,974 1502,973 1498,973 1494,973 1490,973 1486,972 1485,972 1482,972 1478,973 1474,973 1470,973 1466,973 1462,973 1458,973 1454,973 1450,973 1446,971 1442,970 1438,969 1434,968 1430,966 1427,966 1426,966 1422,967 1418,968 1414,969 1410,970 1406,971 1402,972 1400,973 1398,973 1394,973 1390,973 1386,973 1382,973 1378,973 1374,973 1370,973 1366,973 1362,973 1360,972 1358,971 1354,969 1350,967 1346,965 1345,964 1342,962 1338,959 1334,956 1333,955 1330,954 1326,953 1322,952 1318,951 1315,949 1314,949 1310,947 1306,945 1302,943 1298,941 1294,932 1292,928 1290,923 1286,916 1285,914 1282,912 1278,910 1274,909 1270,907 1266,908 1262,908 1258,909 1255,910 1254,909 1250,908 1246,906 1242,905 1238,903 1235,902 1234,901 1230,898 1226,895 1222,892 1220,891 1218,884 1216,877 1214,868 1212,858 1210,857 1206,855 1202,852 1200,851 1198,850 1194,849 1190,847 1186,846 1182,845 1180,844 1178,844 1174,843 1170,842 1166,841 1162,840 1160,840 1158,840 1154,839 1150,838 1146,837 1142,836 1140,836 1138,835 1134,834 1130,832 1126,831 1122,829 1120,829 1118,828 1114,827 1110,826 1106,826 1102,825 1098,824 1094,823 1090,823 1086,822 1082,822 1078,822 1074,822 1073,822 1070,816"/>
<polygon fill-opacity="0.041" points="1070,728 1073,723 1074,723 1078,723 1082,723 1086,723 1090,723 1094,724 1098,725 1102,725 1106,726 1110,727 1114,728 1118,729 1120,729 1122,730 1126,731 1130,733 1134,734 1138,736 1140,736 1142,737 1146,738 1150,739 1154,740 1158,740 1160,741 1162,741 1166,742 1170,743 1174,744 1178,744 1180,745 1182,745 1186,746 1190,748 1194,749 1198,751 1200,751 1202,753 1206,755 1210,757 1212,758 1214,770 1216,781 1218,791 1220,801 1222,802 1226,805 1230,808 1234,810 1235,811 1238,812 1242,814 1246,816 1250,817 1254,819 1255,819 1258,818 1262,818 1266,817 1270,816 1274,818 1278,820 1282,822 1285,823 1286,826 1290,837 1292,842 1294,848 1298,860 1302,863 1306,866 1310,869 1314,872 1315,873 1318,874 1322,877 1326,879 1330,881 1333,883 1334,884 1338,888 1342,892 1345,896 1346,896 1350,898 1354,899 1358,901 1360,901 1362,902 1366,902 1370,902 1374,902 1378,902 1382,902 1386,902 1390,902 1394,902 1398,902 1400,902 1402,901 1406,900 1410,899 1414,898 1418,897 1422,896 1426,895 1427,895 1430,895 1434,897 1438,898 1442,899 1446,900 1450,902 1454,902 1458,902 1462,902 1466,902 1470,902 1474,902 1478,902 1482,902 1485,901 1486,901 1490,902 1494,902 1498,902 1502,902 1506,903 1510,903 1514,904 1518,904 1520,904 1522,904 1526,905 1530,905 1534,905 1538,905 1542,906 1546,906 1550,906 1554,906 1558,906 1560,905 1562,905 1566,905 1570,904 1574,904 1578,904 1582,903 1586,903 1590,903 1594,903 1598,903 1602,903 1606,903 1610,903 1610,967 1606,967 1602,967 1598,967 1594,967 1590,968 1586,968 1582,968 1578,968 1574,969 1570,969 1566,969 1562,970 1560,970 1558,970 1554,970 1550,970 1546,970 1542,970 1538,970 1534,970 1530,970 1526,969 1522,969 1520,969 1518,969 1514,968 1510,968 1506,967 1502,967 1498,967 1494,967 1490,966 1486,966 1485,966 1482,966 1478,966 1474,966 1470,966 1466,966 1462,966 1458,966 1454,966 1450,966 1446,965 1442,964 1438,963 1434,961 1430,960 1427,959 1426,959 1422,960 1418,961 1414,963 1410,964 1406,965 1402,966 1400,966 1398,967 1394,967 1390,967 1386,967 1382,967 1378,967 1374,967 1370,967 1366,966 1362,966 1360,966 1358,965 1354,963 1350,961 1346,959 1345,958 1342,956 1338,953 1334,950 1333,949 1330,948 1326,947 1322,945 1318,944 1315,943 1314,942 1310,940 1306,938 1302,936 1298,934 1294,925 1292,920 1290,916 1286,908 1285,906 1282,904 1278,903 1274,901 1270,899 1266,900 1262,900 1258,901 1255,902 1254,901 1250,900 1246,898 1242,897 1238,895 1235,894 1234,893 1230,890 1226,887 1222,885 1220,883 1218,876 1216,868 1214,859 1212,850 1210,848 1206,846 1202,843 1200,842 1198,841 1194,840 1190,838 1186,837 1182,836 1180,835 1178,835 1174,834 1170,833 1166,832 1162,832 1160,831 1158,831 1154,830 1150,829 1146,829 1142,828 1140,827 1138,826 1134,825 1130,823 1126,822 1122,821 1120,820 1118,819 1114,818 1110,818 1106,817 1102,816 1098,815 1094,815 1090,814 1086,814 1082,814 1078,813 1074,813 1073,813 1070,808"/>
<polygon fill-opacity="0.064" points="1070,734 1073,729 1074,729 1078,729 1082,729 1086,729 1090,729 1094,730 1098,730 1102,731 1106,732 1110,733 1114,733 1118,734 1120,735 1122,736 1126,737 1130,739 1134,740 1138,741 1140,742 1142,743 1146,744 1150,745 1154,745 1158,746 1160,746 1162,747 1166,748 1170,748 1174,749 1178,750 1180,750 1182,751 1186,752 1190,754 1194,755 1198,756 1200,757 1202,758 1206,760 1210,763 1212,764 1214,775 1216,787 1218,796 1220,806 1222,807 1226,810 1230,813 1234,815 1235,816 1238,817 1242,819 1246,820 1250,822 1254,824 1255,824 1258,823 1262,823 1266,822 1270,821 1274,823 1278,825 1282,827 1285,828 1286,831 1290,841 1292,847 1294,853 1298,864 1302,867 1306,870 1310,873 1314,876 1315,877 1318,878 1322,880 1326,883 1330,885 1333,886 1334,887 1338,892 1342,896 1345,899 1346,900 1350,901 1354,903 1358,904 1360,905 1362,905 1366,905 1370,905 1374,906 1378,906 1382,906 1386,906 1390,906 1394,906 1398,905 1400,905 1402,905 1406,904 1410,902 1414,901 1418,900 1422,899 1426,898 1427,898 1430,899 1434,900 1438,901 1442,903 1446,904 1450,905 1454,905 1458,905 1462,905 1466,905 1470,905 1474,905 1478,905 1482,905 1485,905 1486,905 1490,905 1494,905 1498,906 1502,906 1506,906 1510,907 1514,907 1518,907 1520,908 1522,908 1526,908 1530,908 1534,909 1538,909 1542,909 1546,909 1550,909 1554,909 1558,909 1560,909 1562,909 1566,908 1570,908 1574,907 1578,907 1582,907 1586,907 1590,906 1594,906 1598,906 1602,906 1606,906 1610,906 1610,964 1606,964 1602,964 1598,964 1594,964 1590,964 1586,964 1582,965 1578,965 1574,965 1570,965 1566,966 1562,966 1560,967 1558,967 1554,967 1550,967 1546,967 1542,967 1538,967 1534,966 1530,966 1526,966 1522,966 1520,965 1518,965 1514,965 1510,964 1506,964 1502,964 1498,963 1494,963 1490,963 1486,963 1485,963 1482,963 1478,963 1474,963 1470,963 1466,963 1462,963 1458,963 1454,963 1450,963 1446,962 1442,960 1438,959 1434,958 1430,957 1427,956 1426,956 1422,957 1418,958 1414,959 1410,960 1406,961 1402,962 1400,963 1398,963 1394,963 1390,963 1386,963 1382,963 1378,963 1374,963 1370,963 1366,963 1362,963 1360,963 1358,961 1354,959 1350,957 1346,955 1345,955 1342,952 1338,949 1334,946 1333,945 1330,944 1326,943 1322,941 1318,940 1315,939 1314,938 1310,936 1306,934 1302,932 1298,930 1294,920 1292,915 1290,911 1286,903 1285,901 1282,899 1278,898 1274,896 1270,894 1266,895 1262,896 1258,896 1255,897 1254,896 1250,895 1246,893 1242,892 1238,890 1235,889 1234,888 1230,885 1226,883 1222,880 1220,878 1218,871 1216,863 1214,853 1212,844 1210,843 1206,840 1202,838 1200,836 1198,836 1194,834 1190,833 1186,831 1182,830 1180,830 1178,829 1174,828 1170,828 1166,827 1162,826 1160,825 1158,825 1154,824 1150,824 1146,823 1142,822 1140,821 1138,821 1134,819 1130,818 1126,816 1122,815 1120,814 1118,814 1114,813 1110,812 1106,811 1102,810 1098,810 1094,809 1090,808 1086,808 1082,808 1078,808 1074,807 1073,807 1070,803"/>
<polygon fill-opacity="0.091" points="1070,738 1073,734 1074,734 1078,734 1082,734 1086,734 1090,734 1094,734 1098,735 1102,736 1106,737 1110,737 1114,738 1118,739 1120,740 1122,740 1126,742 1130,743 1134,745 1138,746 1140,747 1142,747 1146,748 1150,749 1154,750 1158,751 1160,751 1162,751 1166,752 1170,753 1174,754 1178,755 1180,755 1182,756 1186,757 1190,758 1194,760 1198,761 1200,762 1202,763 1206,765 1210,767 1212,768 1214,780 1216,791 1218,801 1220,810 1222,811 1226,814 1230,817 1234,819 1235,820 1238,821 1242,823 1246,825 1250,826 1254,828 1255,828 1258,827 1262,827 1266,826 1270,825 1274,827 1278,829 1282,831 1285,832 1286,835 1290,845 1292,851 1294,856 1298,867 1302,870 1306,873 1310,876 1314,879 1315,880 1318,881 1322,883 1326,885 1330,888 1333,889 1334,890 1338,894 1342,898 1345,902 1346,902 1350,904 1354,905 1358,907 1360,908 1362,908 1366,908 1370,908 1374,908 1378,908 1382,908 1386,908 1390,908 1394,908 1398,908 1400,908 1402,907 1406,906 1410,905 1414,904 1418,903 1422,902 1426,901 1427,901 1430,902 1434,903 1438,904 1442,905 1446,907 1450,908 1454,908 1458,908 1462,908 1466,908 1470,908 1474,908 1478,908 1482,908 1485,908 1486,908 1490,908 1494,908 1498,908 1502,909 1506,909 1510,909 1514,910 1518,910 1520,910 1522,911 1526,911 1530,911 1534,911 1538,912 1542,912 1546,912 1550,912 1554,912 1558,912 1560,912 1562,911 1566,911 1570,910 1574,910 1578,910 1582,910 1586,909 1590,909 1594,909 1598,909 1602,909 1606,909 1610,909 1610,961 1606,961 1602,961 1598,961 1594,961 1590,961 1586,962 1582,962 1578,962 1574,962 1570,963 1566,963 1562,964 1560,964 1558,964 1554,964 1550,964 1546,964 1542,964 1538,964 1534,964 1530,963 1526,963 1522,963 1520,963 1518,962 1514,962 1510,962 1506,961 1502,961 1498,961 1494,960 1490,960 1486,960 1485,960 1482,960 1478,960 1474,960 1470,960 1466,960 1462,960 1458,960 1454,960 1450,960 1446,959 1442,958 1438,956 1434,955 1430,954 1427,953 1426,953 1422,954 1418,955 1414,956 1410,957 1406,959 1402,960 1400,960 1398,960 1394,961 1390,961 1386,961 1382,961 1378,961 1374,961 1370,960 1366,960 1362,960 1360,960 1358,959 1354,957 1350,955 1346,953 1345,952 1342,950 1338,946 1334,943 1333,942 1330,941 1326,940 1322,938 1318,937 1315,936 1314,935 1310,933 1306,931 1302,929 1298,926 1294,917 1292,912 1290,907 1286,899 1285,897 1282,895 1278,894 1274,892 1270,890 1266,891 1262,891 1258,892 1255,893 1254,892 1250,891 1246,889 1242,888 1238,886 1235,885 1234,884 1230,881 1226,878 1222,876 1220,874 1218,866 1216,859 1214,849 1212,839 1210,838 1206,835 1202,833 1200,832 1198,831 1194,829 1190,828 1186,827 1182,825 1180,825 1178,825 1174,824 1170,823 1166,822 1162,821 1160,821 1158,820 1154,820 1150,819 1146,818 1142,817 1140,817 1138,816 1134,814 1130,813 1126,812 1122,810 1120,809 1118,809 1114,808 1110,807 1106,806 1102,806 1098,805 1094,804 1090,803 1086,803 1082,803 1078,803 1074,803 1073,803 1070,798"/>
<polygon fill-opacity="0.125" points="1070,743 1073,738 1074,738 1078,738 1082,738 1086,738 1090,738 1094,739 1098,740 1102,740 1106,741 1110,742 1114,743 1118,743 1120,744 1122,745 1126,746 1130,748 1134,749 1138,750 1140,751 1142,752 1146,753 1150,754 1154,754 1158,755 1160,755 1162,756 1166,757 1170,758 1174,758 1178,759 1180,759 1182,760 1186,761 1190,763 1194,764 1198,766 1200,766 1202,767 1206,769 1210,772 1212,773 1214,784 1216,795 1218,804 1220,814 1222,815 1226,818 1230,820 1234,823 1235,824 1238,825 1242,827 1246,828 1250,830 1254,831 1255,832 1258,831 1262,830 1266,830 1270,829 1274,831 1278,832 1282,834 1285,836 1286,838 1290,849 1292,854 1294,860 1298,870 1302,873 1306,876 1310,879 1314,882 1315,883 1318,884 1322,886 1326,888 1330,890 1333,892 1334,893 1338,897 1342,901 1345,904 1346,904 1350,906 1354,907 1358,909 1360,910 1362,910 1366,910 1370,910 1374,911 1378,911 1382,911 1386,911 1390,911 1394,910 1398,910 1400,910 1402,910 1406,909 1410,907 1414,906 1418,905 1422,904 1426,903 1427,903 1430,904 1434,905 1438,906 1442,908 1446,909 1450,910 1454,910 1458,910 1462,910 1466,910 1470,910 1474,910 1478,910 1482,910 1485,910 1486,910 1490,910 1494,910 1498,911 1502,911 1506,911 1510,912 1514,912 1518,912 1520,913 1522,913 1526,913 1530,913 1534,914 1538,914 1542,914 1546,914 1550,914 1554,914 1558,914 1560,914 1562,914 1566,913 1570,913 1574,912 1578,912 1582,912 1586,912 1590,911 1594,911 1598,911 1602,911 1606,911 1610,911 1610,959 1606,959 1602,959 1598,959 1594,959 1590,959 1586,959 1582,960 1578,960 1574,960 1570,960 1566,961 1562,961 1560,962 1558,962 1554,962 1550,962 1546,962 1542,962 1538,962 1534,961 1530,961 1526,961 1522,961 1520,960 1518,960 1514,960 1510,959 1506,959 1502,959 1498,958 1494,958 1490,958 1486,958 1485,958 1482,958 1478,958 1474,958 1470,958 1466,958 1462,958 1458,958 1454,958 1450,958 1446,957 1442,955 1438,954 1434,953 1430,952 1427,951 1426,951 1422,952 1418,953 1414,954 1410,955 1406,956 1402,957 1400,958 1398,958 1394,958 1390,958 1386,958 1382,958 1378,958 1374,958 1370,958 1366,958 1362,958 1360,958 1358,956 1354,954 1350,952 1346,950 1345,950 1342,947 1338,944 1334,941 1333,940 1330,939 1326,937 1322,936 1318,934 1315,933 1314,932 1310,930 1306,928 1302,926 1298,923 1294,913 1292,908 1290,904 1286,895 1285,893 1282,892 1278,890 1274,888 1270,887 1266,887 1262,888 1258,888 1255,889 1254,889 1250,887 1246,886 1242,884 1238,882 1235,881 1234,880 1230,878 1226,875 1222,872 1220,870 1218,863 1216,855 1214,845 1212,835 1210,834 1206,831 1202,828 1200,827 1198,827 1194,825 1190,824 1186,822 1182,821 1180,820 1178,820 1174,819 1170,818 1166,818 1162,817 1160,816 1158,816 1154,815 1150,815 1146,814 1142,813 1140,812 1138,811 1134,810 1130,809 1126,807 1122,806 1120,805 1118,804 1114,804 1110,803 1106,802 1102,801 1098,800 1094,800 1090,799 1086,799 1082,799 1078,798 1074,798 1073,798 1070,793"/>
<polygon fill-opacity="0.143" points="1070,747 1073,742 1074,742 1078,742 1082,742 1086,742 1090,742 1094,743 1098,743 1102,744 1106,745 1110,746 1114,746 1118,747 1120,748 1122,749 1126,750 1130,751 1134,753 1138,754 1140,755 1142,756 1146,757 1150,757 1154,758 1158,759 1160,759 1162,760 1166,760 1170,761 1174,762 1178,763 1180,763 1182,764 1186,765 1190,766 1194,768 1198,769 1200,770 1202,771 1206,773 1210,775 1212,776 1214,788 1216,799 1218,808 1220,817 1222,818 1226,821 1230,824 1234,826 1235,827 1238,828 1242,830 1246,831 1250,833 1254,834 1255,835 1258,834 1262,834 1266,833 1270,832 1274,834 1278,836 1282,837 1285,839 1286,841 1290,852 1292,857 1294,862 1298,873 1302,876 1306,879 1310,881 1314,884 1315,885 1318,886 1322,888 1326,890 1330,892 1333,894 1334,895 1338,898 1342,902 1345,906 1346,906 1350,908 1354,909 1358,911 1360,912 1362,912 1366,912 1370,912 1374,912 1378,913 1382,913 1386,912 1390,912 1394,912 1398,912 1400,912 1402,912 1406,910 1410,909 1414,908 1418,907 1422,906 1426,905 1427,905 1430,906 1434,907 1438,908 1442,910 1446,911 1450,912 1454,912 1458,912 1462,912 1466,912 1470,912 1474,912 1478,912 1482,912 1485,912 1486,912 1490,912 1494,912 1498,913 1502,913 1506,913 1510,914 1514,914 1518,914 1520,915 1522,915 1526,915 1530,915 1534,916 1538,916 1542,916 1546,916 1550,916 1554,916 1558,916 1560,916 1562,915 1566,915 1570,915 1574,914 1578,914 1582,914 1586,913 1590,913 1594,913 1598,913 1602,913 1606,913 1610,913 1610,957 1606,957 1602,957 1598,957 1594,957 1590,957 1586,957 1582,958 1578,958 1574,958 1570,959 1566,959 1562,959 1560,960 1558,960 1554,960 1550,960 1546,960 1542,960 1538,960 1534,959 1530,959 1526,959 1522,959 1520,959 1518,958 1514,958 1510,957 1506,957 1502,957 1498,956 1494,956 1490,956 1486,956 1485,956 1482,956 1478,956 1474,956 1470,956 1466,956 1462,956 1458,956 1454,956 1450,956 1446,955 1442,953 1438,952 1434,951 1430,950 1427,949 1426,949 1422,950 1418,951 1414,952 1410,953 1406,954 1402,956 1400,956 1398,956 1394,956 1390,956 1386,956 1382,956 1378,956 1374,956 1370,956 1366,956 1362,956 1360,956 1358,955 1354,953 1350,951 1346,949 1345,948 1342,946 1338,942 1334,939 1333,938 1330,937 1326,935 1322,934 1318,932 1315,931 1314,930 1310,928 1306,925 1302,923 1298,921 1294,911 1292,905 1290,901 1286,892 1285,890 1282,889 1278,887 1274,885 1270,883 1266,884 1262,885 1258,885 1255,886 1254,886 1250,884 1246,882 1242,881 1238,879 1235,878 1234,877 1230,874 1226,872 1222,869 1220,867 1218,859 1216,851 1214,841 1212,831 1210,830 1206,827 1202,825 1200,823 1198,823 1194,821 1190,820 1186,818 1182,817 1180,817 1178,816 1174,816 1170,815 1166,814 1162,813 1160,813 1158,812 1154,812 1150,811 1146,810 1142,809 1140,808 1138,808 1134,806 1130,805 1126,803 1122,802 1120,801 1118,801 1114,800 1110,799 1106,798 1102,797 1098,797 1094,796 1090,795 1086,795 1082,795 1078,795 1074,794 1073,794 1070,789"/>
<polygon fill-opacity="0.167" points="1070,751 1073,746 1074,746 1078,746 1082,746 1086,746 1090,746 1094,746 1098,747 1102,748 1106,748 1110,749 1114,750 1118,751 1120,751 1122,752 1126,754 1130,755 1134,757 1138,758 1140,759 1142,759 1146,760 1150,761 1154,762 1158,763 1160,763 1162,763 1166,764 1170,765 1174,766 1178,767 1180,767 1182,767 1186,769 1190,770 1194,772 1198,773 1200,774 1202,775 1206,777 1210,779 1212,780 1214,791 1216,802 1218,811 1220,820 1222,821 1226,824 1230,827 1234,829 1235,830 1238,831 1242,833 1246,834 1250,836 1254,837 1255,838 1258,837 1262,836 1266,836 1270,835 1274,837 1278,839 1282,840 1285,842 1286,844 1290,854 1292,860 1294,865 1298,875 1302,878 1306,881 1310,884 1314,886 1315,887 1318,888 1322,890 1326,892 1330,894 1333,895 1334,896 1338,900 1342,904 1345,907 1346,908 1350,909 1354,911 1358,913 1360,913 1362,914 1366,914 1370,914 1374,914 1378,914 1382,914 1386,914 1390,914 1394,914 1398,914 1400,914 1402,913 1406,912 1410,911 1414,910 1418,909 1422,908 1426,907 1427,907 1430,908 1434,909 1438,910 1442,911 1446,912 1450,914 1454,914 1458,914 1462,914 1466,914 1470,914 1474,914 1478,914 1482,914 1485,913 1486,913 1490,914 1494,914 1498,914 1502,915 1506,915 1510,915 1514,916 1518,916 1520,916 1522,916 1526,917 1530,917 1534,917 1538,917 1542,918 1546,918 1550,918 1554,918 1558,918 1560,917 1562,917 1566,917 1570,916 1574,916 1578,916 1582,915 1586,915 1590,915 1594,915 1598,915 1602,915 1606,915 1610,915 1610,955 1606,955 1602,955 1598,955 1594,955 1590,955 1586,956 1582,956 1578,956 1574,957 1570,957 1566,957 1562,958 1560,958 1558,958 1554,958 1550,958 1546,958 1542,958 1538,958 1534,958 1530,957 1526,957 1522,957 1520,957 1518,957 1514,956 1510,956 1506,955 1502,955 1498,955 1494,954 1490,954 1486,954 1485,954 1482,954 1478,954 1474,954 1470,954 1466,954 1462,954 1458,954 1454,954 1450,954 1446,953 1442,952 1438,951 1434,949 1430,948 1427,947 1426,947 1422,948 1418,949 1414,950 1410,952 1406,953 1402,954 1400,954 1398,955 1394,955 1390,955 1386,955 1382,955 1378,955 1374,955 1370,955 1366,954 1362,954 1360,954 1358,953 1354,951 1350,949 1346,947 1345,947 1342,944 1338,940 1334,937 1333,936 1330,935 1326,933 1322,932 1318,930 1315,929 1314,928 1310,926 1306,923 1302,921 1298,918 1294,908 1292,903 1290,898 1286,889 1285,887 1282,886 1278,884 1274,882 1270,880 1266,881 1262,882 1258,882 1255,883 1254,883 1250,881 1246,880 1242,878 1238,876 1235,875 1234,874 1230,871 1226,869 1222,866 1220,864 1218,856 1216,848 1214,838 1212,828 1210,826 1206,824 1202,821 1200,820 1198,819 1194,818 1190,816 1186,815 1182,813 1180,813 1178,813 1174,812 1170,811 1166,810 1162,809 1160,809 1158,809 1154,808 1150,807 1146,806 1142,805 1140,805 1138,804 1134,803 1130,801 1126,800 1122,798 1120,797 1118,797 1114,796 1110,795 1106,795 1102,794 1098,793 1094,792 1090,792 1086,791 1082,791 1078,791 1074,791 1073,791 1070,785"/>
<polygon fill-opacity="0.200" points="1070,756 1073,750 1074,750 1078,750 1082,750 1086,750 1090,749 1094,750 1098,751 1102,752 1106,752 1110,753 1114,754 1118,755 1120,755 1122,756 1126,758 1130,759 1134,760 1138,762 1140,763 1142,763 1146,764 1150,765 1154,766 1158,767 1160,767 1162,767 1166,768 1170,769 1174,770 1178,771 1180,771 1182,771 1186,773 1190,774 1194,776 1198,777 1200,778 1202,779 1206,781 1210,783 1212,784 1214,795 1216,805 1218,814 1220,823 1222,825 1226,827 1230,830 1234,832 1235,833 1238,834 1242,836 1246,837 1250,839 1254,840 1255,841 1258,840 1262,840 1266,839 1270,838 1274,840 1278,842 1282,843 1285,845 1286,847 1290,857 1292,862 1294,868 1298,878 1302,880 1306,883 1310,886 1314,888 1315,889 1318,890 1322,892 1326,894 1330,896 1333,897 1334,898 1338,902 1342,906 1345,909 1346,909 1350,911 1354,913 1358,914 1360,915 1362,915 1366,916 1370,916 1374,916 1378,916 1382,916 1386,916 1390,916 1394,916 1398,916 1400,916 1402,915 1406,914 1410,913 1414,912 1418,911 1422,910 1426,909 1427,908 1430,909 1434,910 1438,912 1442,913 1446,914 1450,915 1454,915 1458,915 1462,915 1466,915 1470,915 1474,915 1478,915 1482,915 1485,915 1486,915 1490,915 1494,916 1498,916 1502,916 1506,917 1510,917 1514,917 1518,918 1520,918 1522,918 1526,918 1530,919 1534,919 1538,919 1542,919 1546,919 1550,919 1554,919 1558,919 1560,919 1562,919 1566,918 1570,918 1574,918 1578,917 1582,917 1586,917 1590,917 1594,917 1598,916 1602,916 1606,916 1610,916 1610,953 1606,953 1602,953 1598,954 1594,954 1590,954 1586,954 1582,954 1578,955 1574,955 1570,955 1566,956 1562,956 1560,956 1558,957 1554,957 1550,957 1546,957 1542,956 1538,956 1534,956 1530,956 1526,956 1522,955 1520,955 1518,955 1514,954 1510,954 1506,954 1502,953 1498,953 1494,953 1490,953 1486,952 1485,952 1482,952 1478,953 1474,953 1470,953 1466,953 1462,953 1458,953 1454,953 1450,953 1446,951 1442,950 1438,949 1434,948 1430,946 1427,945 1426,946 1422,947 1418,948 1414,949 1410,950 1406,951 1402,952 1400,953 1398,953 1394,953 1390,953 1386,953 1382,953 1378,953 1374,953 1370,953 1366,953 1362,952 1360,952 1358,951 1354,949 1350,947 1346,946 1345,945 1342,942 1338,939 1334,935 1333,934 1330,933 1326,931 1322,930 1318,928 1315,926 1314,926 1310,923 1306,921 1302,918 1298,916 1294,905 1292,900 1290,895 1286,886 1285,884 1282,882 1278,881 1274,879 1270,877 1266,878 1262,879 1258,879 1255,880 1254,879 1250,878 1246,876 1242,875 1238,873 1235,872 1234,871 1230,868 1226,865 1222,863 1220,861 1218,853 1216,844 1214,834 1212,824 1210,822 1206,820 1202,817 1200,816 1198,815 1194,814 1190,812 1186,811 1182,810 1180,809 1178,809 1174,808 1170,807 1166,806 1162,805 1160,805 1158,805 1154,804 1150,803 1146,802 1142,801 1140,801 1138,800 1134,799 1130,797 1126,796 1122,794 1120,794 1118,793 1114,792 1110,791 1106,791 1102,790 1098,789 1094,788 1090,788 1086,787 1082,787 1078,787 1074,787 1073,786 1070,780"/>
<polygon fill-opacity="0.250" points="1070,768 1073,755 1074,755 1078,755 1082,755 1086,755 1090,754 1094,755 1098,756 1102,757 1106,757 1110,758 1114,759 1118,760 1120,760 1122,761 1126,762 1130,764 1134,765 1138,767 1140,768 1142,768 1146,769 1150,770 1154,771 1158,771 1160,772 1162,772 1166,773 1170,774 1174,775 1178,775 1180,776 1182,776 1186,778 1190,779 1194,780 1198,782 1200,783 1202,783 1206,785 1210,787 1212,788 1214,799 1216,809 1218,818 1220,827 1222,828 1226,831 1230,833 1234,836 1235,837 1238,838 1242,839 1246,841 1250,842 1254,844 1255,844 1258,844 1262,843 1266,842 1270,842 1274,844 1278,845 1282,847 1285,848 1286,851 1290,861 1292,866 1294,871 1298,880 1302,883 1306,886 1310,888 1314,891 1315,891 1318,893 1322,894 1326,896 1330,898 1333,899 1334,900 1338,904 1342,907 1345,910 1346,911 1350,913 1354,914 1358,916 1360,917 1362,917 1366,917 1370,917 1374,918 1378,918 1382,918 1386,918 1390,918 1394,918 1398,917 1400,917 1402,917 1406,916 1410,915 1414,913 1418,912 1422,911 1426,910 1427,910 1430,911 1434,912 1438,913 1442,915 1446,916 1450,917 1454,917 1458,917 1462,917 1466,917 1470,917 1474,917 1478,917 1482,917 1485,917 1486,917 1490,917 1494,917 1498,918 1502,918 1506,918 1510,919 1514,919 1518,919 1520,920 1522,920 1526,920 1530,920 1534,921 1538,921 1542,921 1546,921 1550,921 1554,921 1558,921 1560,921 1562,921 1566,920 1570,920 1574,919 1578,919 1582,919 1586,919 1590,918 1594,918 1598,918 1602,918 1606,918 1610,918 1610,952 1606,952 1602,952 1598,952 1594,952 1590,952 1586,952 1582,952 1578,953 1574,953 1570,953 1566,954 1562,954 1560,955 1558,955 1554,955 1550,955 1546,955 1542,955 1538,955 1534,954 1530,954 1526,954 1522,954 1520,953 1518,953 1514,953 1510,952 1506,952 1502,952 1498,951 1494,951 1490,951 1486,950 1485,951 1482,951 1478,951 1474,951 1470,951 1466,951 1462,951 1458,951 1454,951 1450,951 1446,950 1442,948 1438,947 1434,946 1430,945 1427,944 1426,944 1422,945 1418,946 1414,947 1410,948 1406,949 1402,950 1400,951 1398,951 1394,951 1390,951 1386,951 1382,951 1378,951 1374,951 1370,951 1366,951 1362,951 1360,951 1358,949 1354,948 1350,946 1346,944 1345,943 1342,941 1338,937 1334,933 1333,932 1330,931 1326,929 1322,927 1318,926 1315,924 1314,923 1310,921 1306,918 1302,916 1298,913 1294,902 1292,897 1290,892 1286,883 1285,880 1282,879 1278,877 1274,875 1270,874 1266,874 1262,875 1258,876 1255,876 1254,876 1250,874 1246,873 1242,871 1238,870 1235,869 1234,868 1230,865 1226,862 1222,859 1220,857 1218,849 1216,840 1214,830 1212,819 1210,818 1206,815 1202,812 1200,811 1198,810 1194,809 1190,807 1186,806 1182,805 1180,804 1178,804 1174,803 1170,802 1166,801 1162,800 1160,800 1158,800 1154,799 1150,798 1146,797 1142,797 1140,796 1138,795 1134,794 1130,792 1126,791 1122,789 1120,789 1118,788 1114,787 1110,787 1106,786 1102,785 1098,784 1094,784 1090,783 1086,782 1082,782 1078,782 1074,781 1073,781 1070,768"/>
<polygon fill-opacity="0.267" points="1070,768 1073,763 1074,762 1078,762 1082,761 1086,761 1090,760 1094,761 1098,762 1102,763 1106,763 1110,764 1114,765 1118,766 1120,766 1122,767 1126,768 1130,770 1134,771 1138,773 1140,774 1142,774 1146,775 1150,776 1154,777 1158,777 1160,778 1162,778 1166,779 1170,780 1174,781 1178,781 1180,782 1182,782 1186,784 1190,785 1194,786 1198,788 1200,789 1202,789 1206,791 1210,793 1212,794 1214,804 1216,814 1218,822 1220,831 1222,832 1226,835 1230,837 1234,840 1235,840 1238,842 1242,843 1246,845 1250,846 1254,848 1255,848 1258,847 1262,847 1266,846 1270,846 1274,847 1278,849 1282,851 1285,852 1286,855 1290,864 1292,869 1294,874 1298,883 1302,886 1306,888 1310,890 1314,893 1315,894 1318,895 1322,896 1326,898 1330,900 1333,901 1334,902 1338,905 1342,909 1345,912 1346,912 1350,914 1354,916 1358,918 1360,919 1362,919 1366,919 1370,919 1374,919 1378,919 1382,919 1386,919 1390,919 1394,919 1398,919 1400,919 1402,918 1406,917 1410,916 1414,915 1418,914 1422,913 1426,912 1427,912 1430,913 1434,914 1438,915 1442,916 1446,918 1450,919 1454,919 1458,919 1462,919 1466,919 1470,919 1474,919 1478,919 1482,919 1485,919 1486,919 1490,919 1494,919 1498,919 1502,920 1506,920 1510,920 1514,921 1518,921 1520,921 1522,922 1526,922 1530,922 1534,922 1538,923 1542,923 1546,923 1550,923 1554,923 1558,923 1560,923 1562,922 1566,922 1570,921 1574,921 1578,921 1582,921 1586,920 1590,920 1594,920 1598,920 1602,920 1606,920 1610,920 1610,950 1606,950 1602,950 1598,950 1594,950 1590,950 1586,951 1582,951 1578,951 1574,951 1570,952 1566,952 1562,953 1560,953 1558,953 1554,953 1550,953 1546,953 1542,953 1538,953 1534,953 1530,952 1526,952 1522,952 1520,952 1518,951 1514,951 1510,951 1506,950 1502,950 1498,950 1494,949 1490,949 1486,949 1485,949 1482,949 1478,949 1474,949 1470,949 1466,949 1462,949 1458,949 1454,949 1450,949 1446,948 1442,947 1438,945 1434,944 1430,943 1427,942 1426,942 1422,943 1418,944 1414,945 1410,946 1406,948 1402,949 1400,949 1398,949 1394,950 1390,950 1386,950 1382,950 1378,950 1374,950 1370,949 1366,949 1362,949 1360,949 1358,948 1354,946 1350,944 1346,942 1345,942 1342,939 1338,935 1334,931 1333,930 1330,929 1326,927 1322,925 1318,923 1315,922 1314,921 1310,919 1306,916 1302,913 1298,910 1294,899 1292,893 1290,889 1286,879 1285,877 1282,875 1278,873 1274,872 1270,870 1266,871 1262,871 1258,872 1255,872 1254,872 1250,871 1246,869 1242,868 1238,866 1235,865 1234,864 1230,861 1226,858 1222,855 1220,853 1218,845 1216,836 1214,825 1212,814 1210,812 1206,809 1202,807 1200,805 1198,804 1194,803 1190,801 1186,800 1182,799 1180,798 1178,798 1174,797 1170,796 1166,795 1162,794 1160,794 1158,794 1154,793 1150,792 1146,791 1142,791 1140,790 1138,789 1134,788 1130,786 1126,785 1122,783 1120,783 1118,782 1114,781 1110,781 1106,780 1102,779 1098,778 1094,778 1090,777 1086,776 1082,776 1078,775 1074,774 1073,774 1070,768"/>
<polygon fill-opacity="0.318" points="1214,814 1216,824 1218,830 1220,837 1222,838 1226,841 1230,843 1234,845 1235,846 1238,847 1242,849 1246,850 1250,852 1254,853 1255,853 1258,853 1262,852 1266,852 1270,851 1274,853 1278,854 1282,856 1285,858 1286,860 1290,869 1292,873 1294,878 1298,886 1302,889 1306,891 1310,893 1314,896 1315,896 1318,897 1322,899 1326,900 1330,902 1333,903 1334,904 1338,907 1342,911 1345,914 1346,914 1350,916 1354,918 1358,919 1360,920 1362,921 1366,921 1370,921 1374,921 1378,921 1382,921 1386,921 1390,921 1394,921 1398,921 1400,921 1402,920 1406,919 1410,918 1414,917 1418,916 1422,915 1426,914 1427,913 1430,914 1434,916 1438,917 1442,918 1446,919 1450,921 1454,921 1458,921 1462,921 1466,921 1470,921 1474,921 1478,921 1482,920 1485,920 1486,920 1490,921 1494,921 1498,921 1502,921 1506,922 1510,922 1514,922 1518,923 1520,923 1522,923 1526,924 1530,924 1534,924 1538,924 1542,924 1546,925 1550,925 1554,925 1558,925 1560,924 1562,924 1566,924 1570,923 1574,923 1578,923 1582,922 1586,922 1590,922 1594,922 1598,922 1602,922 1606,922 1610,922 1610,948 1606,948 1602,948 1598,948 1594,948 1590,949 1586,949 1582,949 1578,949 1574,950 1570,950 1566,950 1562,951 1560,951 1558,951 1554,951 1550,951 1546,951 1542,951 1538,951 1534,951 1530,951 1526,950 1522,950 1520,950 1518,950 1514,949 1510,949 1506,948 1502,948 1498,948 1494,948 1490,947 1486,947 1485,947 1482,947 1478,947 1474,947 1470,947 1466,947 1462,947 1458,947 1454,947 1450,947 1446,946 1442,945 1438,944 1434,942 1430,941 1427,940 1426,940 1422,942 1418,943 1414,944 1410,945 1406,946 1402,947 1400,948 1398,948 1394,948 1390,948 1386,948 1382,948 1378,948 1374,948 1370,948 1366,947 1362,947 1360,947 1358,946 1354,944 1350,942 1346,941 1345,940 1342,937 1338,933 1334,929 1333,928 1330,927 1326,925 1322,923 1318,921 1315,919 1314,919 1310,916 1306,913 1302,910 1298,907 1294,895 1292,889 1290,884 1286,874 1285,871 1282,870 1278,868 1274,866 1270,865 1266,865 1262,866 1258,867 1255,867 1254,867 1250,865 1246,864 1242,862 1238,861 1235,859 1234,859 1230,855 1226,852 1222,849 1220,847 1218,837 1216,826 1214,814"/>
<polygon fill-opacity="0.400" points="1294,886 1298,892 1302,893 1306,895 1310,897 1314,899 1315,900 1318,901 1322,902 1326,903 1330,905 1333,906 1334,907 1338,910 1342,913 1345,916 1346,916 1350,918 1354,920 1358,922 1360,923 1362,923 1366,923 1370,923 1374,923 1378,923 1382,923 1386,923 1390,923 1394,923 1398,923 1400,923 1402,922 1406,921 1410,920 1414,919 1418,918 1422,917 1426,916 1427,916 1430,917 1434,918 1438,919 1442,920 1446,922 1450,923 1454,923 1458,923 1462,923 1466,923 1470,923 1474,923 1478,923 1482,923 1485,923 1486,923 1490,923 1494,923 1498,923 1502,924 1506,924 1510,924 1514,925 1518,925 1520,925 1522,926 1526,926 1530,926 1534,926 1538,927 1542,927 1546,927 1550,927 1554,927 1558,927 1560,927 1562,926 1566,926 1570,925 1574,925 1578,925 1582,925 1586,924 1590,924 1594,924 1598,924 1602,924 1606,924 1610,924 1610,946 1606,946 1602,946 1598,946 1594,946 1590,946 1586,947 1582,947 1578,947 1574,947 1570,948 1566,948 1562,949 1560,949 1558,949 1554,949 1550,949 1546,949 1542,949 1538,949 1534,949 1530,948 1526,948 1522,948 1520,948 1518,947 1514,947 1510,947 1506,946 1502,946 1498,946 1494,945 1490,945 1486,945 1485,945 1482,945 1478,945 1474,945 1470,945 1466,945 1462,945 1458,945 1454,945 1450,945 1446,944 1442,943 1438,941 1434,940 1430,939 1427,938 1426,938 1422,939 1418,940 1414,941 1410,942 1406,944 1402,945 1400,945 1398,945 1394,946 1390,946 1386,946 1382,946 1378,946 1374,946 1370,945 1366,945 1362,945 1360,945 1358,944 1354,942 1350,940 1346,939 1345,938 1342,935 1338,931 1334,927 1333,926 1330,924 1326,922 1322,920 1318,918 1315,916 1314,915 1310,912 1306,909 1302,906 1298,902 1294,886"/>
<polygon fill-opacity="0.444" points="1314,907 1315,907 1318,906 1322,906 1326,907 1330,908 1333,909 1334,910 1338,912 1342,915 1345,918 1346,918 1350,920 1354,922 1358,924 1360,925 1362,925 1366,925 1370,926 1374,926 1378,926 1382,926 1386,926 1390,926 1394,926 1398,926 1400,925 1402,925 1406,924 1410,923 1414,922 1418,920 1422,919 1426,918 1427,918 1430,919 1434,920 1438,922 1442,923 1446,924 1450,925 1454,925 1458,925 1462,925 1466,925 1470,925 1474,925 1478,925 1482,925 1485,925 1486,925 1490,925 1494,926 1498,926 1502,926 1506,926 1510,927 1514,927 1518,928 1520,928 1522,928 1526,928 1530,929 1534,929 1538,929 1542,929 1546,929 1550,929 1554,929 1558,929 1560,929 1562,929 1566,928 1570,928 1574,928 1578,927 1582,927 1586,927 1590,927 1594,926 1598,926 1602,926 1606,926 1610,926 1610,944 1606,944 1602,944 1598,944 1594,944 1590,944 1586,944 1582,944 1578,945 1574,945 1570,945 1566,946 1562,946 1560,946 1558,947 1554,947 1550,947 1546,947 1542,947 1538,946 1534,946 1530,946 1526,946 1522,945 1520,945 1518,945 1514,945 1510,944 1506,944 1502,944 1498,943 1494,943 1490,943 1486,942 1485,942 1482,943 1478,943 1474,943 1470,943 1466,943 1462,943 1458,943 1454,943 1450,943 1446,941 1442,940 1438,939 1434,938 1430,937 1427,936 1426,936 1422,937 1418,938 1414,939 1410,940 1406,941 1402,942 1400,943 1398,943 1394,943 1390,943 1386,943 1382,943 1378,943 1374,943 1370,943 1366,943 1362,943 1360,942 1358,941 1354,940 1350,938 1346,936 1345,936 1342,933 1338,928 1334,924 1333,922 1330,921 1326,918 1322,916 1318,912 1315,908 1314,907"/>
</g>
<path fill="none" stroke="#000" stroke-width="1" transform="translate(.5 0)" d="M1013 726v1m0 12v1m0 4v1m0 5v1m1-42v1m0 5v1m0 5v1m0 3v1m0 6v1m0 11v1m0 0v1m0 3v1m0 5v1m2-7v1m1-30v1m0 0v1m0 1v1m0 0v1m0 0v1m0 5v1m0 0v1m0 0v1m0 1v1m0 0v1m0 3v1m0 1v1m0 0v1m0 0v1m0 0v1m0 3v1m0 1v1m0 0v1m0 1v1m0 36v1m1-87v1m0 4v1m0 32v1m0 3v1m0 5v1m0 29v1m0 10v1m0 0v1m0 2v1m0 0v1m0 5v1m0 2v1m0 0v1m0 0v1m0 1v1m0 3v1m2-26v1m0 0v1m0 6v1m0 3v1m0 8v1m1-16v1m3-15v1m1 3v1m0 3v1m0 2v1m0 0v1m0 3v1m0 2v1m0 4v1m1-100v1m0 3v1m0 9v1m0 9v1m0 2v1m0 1v1m0 5v1m0 9v1m1-44v1m0 10v1m0 7v1m0 2v1m0 6v1m0 4v1m0 7v1m1-29v1m0 5v1m0 8v1m0 4v1m0 3v1m0 1v1m1-28v1m0 13v1m0 1v1m0 45v1m0 19v1m1-21v1m0 1v1m0 5v1m0 11v1m0 3v1m0 6v1m0 8v1m0 2v1m0 3v1m0 0v1m0 1v1m8-103v1m0 3v1m0 6v1m0 7v1m1-10v1m0 0v1m0 0v1m0 1v1m0 4v1m1 45v1m0 7v1m0 10v1m0 13v1m1-34v1m0 8v1m0 1v1m0 3v1m0 15v1m0 4v1m0 4v1m5-48v1m0 4v1m0 1v1m0 10v1m0 1v1m0 2v1m0 7v1m0 1v1m0 0v1m0 4v1m0 4v1m1-133v1m0 0v1m0 2v1m0 1v1m0 6v1m0 7v1m0 1v1m0 7v1m0 1v1m0 11v1m0 1v1m1-41v1m0 32v1m0 8v1m0 0v1m2-9v1m0 84v1m1-103v1m0 9v1m0 2v1m0 1v1m0 3v1m0 44v1m0 0v1m0 2v1m0 3v1m0 7v1m0 3v1m0 0v1m0 14v1m0 1v1m0 0v1m0 3v1m3 310v1m1-67v1m1-233v1m0 5v1m0 15v1m0 6v1m0 8v1m0 0v1m0 84v1m0 44v1m0 27v1m0 17v1m0 1v1m0 14v1m0 0v1m0 2v1m0 10v1m0 0v1m0 32v1m0 7v1m0 5v1m0 3v1m0 4v1m1-213v1m0 122v1m0 17v1m0 6v1m0 0v1m0 2v1m0 12v1m0 1v1m0 2v1m0 0v1m0 1v1m0 6v1m0 8v1m0 2v1m0 0v1m0 13v1m0 3v1m0 0v1m1-92v1m0 1v1m0 0v1m0 1v1m0 9v1m0 2v1m0 1v1m0 3v1m0 1v1m0 1v1m0 2v1m0 0v1m0 0v1m0 1v1m0 9v1m0 3v1m0 0v1m0 0v1m0 0v1m0 1v1m0 1v1m0 1v1m0 5v1m0 0v1m0 1v1m0 0v1m0 1v1m0 0v1m0 0v1m0 0v1m0 1v1m0 1v1m0 2v1m0 0v1m0 4v1m1-85v1m0 2v1m0 0v1m0 6v1m0 1v1m0 10v1m0 0v1m0 3v1m0 0v1m0 1v1m0 0v1m0 1v1m0 0v1m0 0v1m0 5v1m0 0v1m0 2v1m0 4v1m0 1v1m0 0v1m0 5v1m0 0v1m0 0v1m0 0v1m0 0v1m0 0v1m0 0v1m0 0v1m0 3v1m0 0v1m0 1v1m0 1v1m0 3v1m0 0v1m0 0v1m0 2v1m0 1v1m0 1v1m0 0v1m0 1v1m1-96v1m0 0v1m0 2v1m0 1v1m0 0v1m0 0v1m0 1v1m0 4v1m0 1v1m0 1v1m0 3v1m0 0v1m0 2v1m0 4v1m0 3v1m0 2v1m0 4v1m0 4v1m0 4v1m0 3v1m0 0v1m0 2v1m0 4v1m0 1v1m0 2v1m0 5v1m0 1v1m0 0v1m0 8v1m0 3v1m1-93v1m0 2v1m0 3v1m0 0v1m0 2v1m0 6v1m0 4v1m0 1v1m0 3v1m0 4v1m0 1v1m0 0v1m0 2v1m0 1v1m0 5v1m0 7v1m0 3v1m0 3v1m0 1v1m0 0v1m0 12v1m0 2v1m0 5v1m1-73v1m0 4v1m0 2v1m0 3v1m0 1v1m0 0v1m0 1v1m0 8v1m0 2v1m0 3v1m0 0v1m0 0v1m0 20v1m0 4v1m0 1v1m0 7v1m1-88v1m0 15v1m0 16v1m0 6v1m0 1v1m0 5v1m0 19v1m0 15v1m0 2v1m1-85v1m0 9v1m0 3v1m0 0v1m0 0v1m0 0v1m0 4v1m0 3v1m0 3v1m0 11v1m0 3v1m0 2v1m0 4v1m0 4v1m0 14v1m0 2v1m0 8v1m0 0v1m1-91v1m0 1v1m0 0v1m0 3v1m0 0v1m0 0v1m0 0v1m0 0v1m0 0v1m0 1v1m0 0v1m0 1v1m0 0v1m0 3v1m0 4v1m0 2v1m0 3v1m0 2v1m0 0v1m0 0v1m0 0v1m0 1v1m0 1v1m0 0v1m0 0v1m0 1v1m0 2v1m0 2v1m0 1v1m0 0v1m0 0v1m0 2v1m0 1v1m0 1v1m0 0v1m0 1v1m0 0v1m0 0v1m0 1v1m0 1v1m0 1v1m0 0v1m0 0v1m1-81v1m0 2v1m0 0v1m0 1v1m0 0v1m0 0v1m0 1v1m0 0v1m0 0v1m0 1v1m0 0v1m0 0v1m0 3v1m0 1v1m0 0v1m0 0v1m0 0v1m0 2v1m0 0v1m0 0v1m0 1v1m0 1v1m0 0v1m0 1v1m0 0v1m0 2v1m0 1v1m0 0v1m0 4v1m0 1v1m0 0v1m0 1v1m0 3v1m0 0v1m0 1v1m0 0v1m0 0v1m0 3v1m0 2v1m0 0v1m0 5v1m0 2v1m0 0v1m0 2v1m0 1v1m0 1v1m0 2v1m0 0v1m1-93v1m0 0v1m0 0v1m0 0v1m0 2v1m0 3v1m0 0v1m0 1v1m0 0v1m0 1v1m0 2v1m0 0v1m0 1v1m0 0v1m0 0v1m0 1v1m0 6v1m0 0v1m0 1v1m0 0v1m0 8v1m0 1v1m0 0v1m0 0v1m0 0v1m0 1v1m0 4v1m0 3v1m0 0v1m0 2v1m0 2v1m0 1v1m0 0v1m0 4v1m0 0v1m0 2v1m0 1v1m0 0v1m0 0v1m0 0v1m0 4v1m1-322v1m0 2v1m0 4v1m0 40v1m0 23v1m0 7v1m0 33v1m0 4v1m0 19v1m0 7v1m0 38v1m0 15v1m0 14v1m0 0v1m0 12v1m0 3v1m0 4v1m0 1v1m0 7v1m0 4v1m0 7v1m0 2v1m0 3v1m0 0v1m0 8v1m0 7v1m0 8v1m0 0v1m0 0v1m0 3v1m0 0v1m0 0v1m0 2v1m0 1v1m0 2v1m0 4v1m0 0v1m0 1v1m0 0v1m1-336v1m0 7v1m0 9v1m0 4v1m0 12v1m0 11v1m0 10v1m0 6v1m0 15v1m0 5v1m0 25v1m0 7v1m0 13v1m0 1v1m0 0v1m0 16v1m0 5v1m0 18v1m0 0v1m0 1v1m0 0v1m0 9v1m0 3v1m0 3v1m0 5v1m0 6v1m0 1v1m0 13v1m0 8v1m0 1v1m0 37v1m0 7v1m0 1v1m0 25v1m1-264v1m0 4v1m0 5v1m0 55v1m0 15v1m0 66v1m0 28v1m0 41v1m0 19v1m5-329v1m0 8v1m0 1v1m0 1v1m0 0v1m0 3v1m0 4v1m3-28v1m0 5v1m0 2v1m0 4v1m0 1v1m0 0v1m0 8v1m0 1v1m0 7v1m1-12v1m2-84v1m0 3v1m0 3v1m0 0v1m0 1v1m0 4v1m10-30v1m0 9v1m0 6v1m0 0v1m0 2v1m0 5v1m0 2v1m0 1v1m1-14v1m0 7v1m10 45v1m0 0v1m0 5v1m0 7v1m0 7v1m0 7v1m0 0v1m0 3v1m0 2v1m0 0v1m0 0v1m0 8v1m1-50v1m0 7v1m6-58v1m0 0v1m0 1v1m0 4v1m1-33v1m0 3v1m0 6v1m0 4v1m0 1v1m0 2v1m0 0v1m0 1v1m0 7v1m0 0v1m0 7v1m0 2v1m1-44v1m0 9v1m0 5v1m0 2v1m0 2v1m0 1v1m0 5v1m0 0v1m10 42v1m0 0v1m0 4v1m0 0v1m0 1v1m0 1v1m0 19v1m0 5v1m0 3v1m0 6v1m0 0v1m1-40v1m0 34v1m2-20v1m1-24v1m0 4v1m0 1v1m0 9v1m0 6v1m0 2v1m0 1v1m5-24v1m0 30v1m1-40v1m0 0v1m0 8v1m0 9v1m0 2v1m0 0v1m0 15v1m0 0v1m0 0v1m2-105v1m0 3v1m0 7v1m0 1v1m1-1v1m0 1v1m0 0v1m0 11v1m10 46v1m0 15v1m0 8v1m0 1v1m1-37v1m0 2v1m0 2v1m0 2v1m0 4v1m0 6v1m0 5v1m0 5v1m0 4v1m7-40v1m0 0v1m0 1v1m0 2v1m0 0v1m0 5v1m0 0v1m0 5v1m0 7v1m0 1v1m7-92v1m0 1v1m0 0v1m0 10v1m0 1v1m0 3v1m0 2v1m0 1v1m1-47v1m0 1v1m0 2v1m0 33v1m0 2v1m7-32v1m0 10v1m0 18v1m1-29v1m0 4v1m0 6v1m0 0v1m0 2v1m0 5v1m0 14v1m0 2v1m0 2v1m0 0v1m0 2v1m16-32v1m0 4v1m0 1v1m0 14v1m0 1v1m0 5v1m0 3v1m0 1v1m1-34v1m0 6v1m4 69v1m0 6v1m0 1v1m1-16v1m0 0v1m0 16v1m0 3v1m0 0v1m0 0v1m0 1v1m0 3v1m0 12v1m9-109v1m0 9v1m0 0v1m0 12v1m0 1v1m1-16v1m0 14v1m0 1v1m0 32v1m0 2v1m0 3v1m0 4v1m0 9v1m0 15v1m0 10v1m1-46v1m0 3v1m0 9v1m0 6v1m0 8v1m0 2v1m0 10v1m4-41v1m0 5v1m0 9v1m0 2v1m0 5v1m0 9v1m0 1v1m1-29v1m0 7v1m0 4v1m0 8v1m4 3v1m0 3v1m1-39v1m0 12v1m0 0v1m0 3v1m0 2v1m0 8v1m0 1v1m0 1v1m0 4v1m0 0v1m0 4v1m3-36v1m0 7v1m0 9v1m0 3v1m0 0v1m1-25v1m0 3v1m3 30v1m0 10v1m1-16v1m0 6v1m0 4v1m0 6v1m0 0v1m7-4v1m0 6v1m1-20v1m0 11v1m0 0v1m0 3v1m0 5v1m1-6v1m1-9v1m0 6v1m0 7v1m0 0v1m0 4v1m0 1v1m0 0v1m0 0v1m0 1v1m1-31v1m0 2v1m0 6v1m0 2v1m0 0v1m0 1v1m0 2v1m0 0v1m5-69v1m1-25v1m0 16v1m0 0v1m0 4v1m0 4v1m0 0v1m0 2v1m0 0v1m4 34v1m0 5v1m0 6v1m0 2v1m0 3v1m1-15v1m0 9v1m0 5v1m0 3v1m1-1v1m0 7v1m1-75v1m0 4v1m0 35v1m0 10v1m0 0v1m0 4v1m0 7v1m0 1v1m0 2v1m1-84v1m0 3v1m0 4v1m0 0v1m0 1v1m0 0v1m0 44v1m0 8v1m0 0v1m0 8v1m0 0v1m1-90v1m0 1v1m0 7v1m0 0v1m0 4v1m0 1v1m0 0v1m0 3v1m0 2v1m0 3v1m0 0v1m0 3v1m1 0v1m2-37v1m0 5v1m0 1v1m0 0v1m0 0v1m0 1v1m0 8v1m0 9v1m0 1v1m3 38v1m0 1v1m0 7v1m0 0v1m0 2v1m0 4v1m1-18v1m3 3v1m0 7v1m0 4v1m0 0v1m1-27v1m0 5v1m0 10v1m0 4v1m0 4v1m2-21v1m0 1v1m0 7v1m0 12v1m0 2v1m0 2v1m0 10v1m0 0v1m0 5v1m0 1v1m0 3v1m1-22v1m0 2v1m0 14v1m1-53v1m0 2v1m0 17v1m1-24v1m0 2v1m0 4v1m0 2v1m0 0v1m0 0v1m0 1v1m0 3v1m0 1v1m0 3v1m0 3v1m0 2v1m1-28v1m4 1v1m0 6v1m0 2v1m1-15v1m0 6v1m0 1v1m0 11v1m0 0v1m0 7v1m0 4v1m0 0v1m0 7v1m0 0v1m0 1v1m2-114v1m0 1v1m0 3v1m0 4v1m0 8v1m0 2v1m0 0v1m0 0v1m0 2v1m0 2v1m1-39v1m0 22v1m0 1v1m0 1v1m2-43v1m0 30v1m1-25v1m0 6v1m0 5v1m0 4v1m0 1v1m0 6v1m0 1v1m0 5v1m0 0v1m0 0v1m0 7v1m1-21v1m0 6v1m0 4v1m0 5v1m0 1v1m0 40v1m0 3v1m0 2v1m0 1v1m0 19v1m0 2v1m0 3v1m1-101v1m0 1v1m0 8v1m0 8v1m0 0v1m0 44v1m0 4v1m0 23v1m1-27v1m0 4v1m0 1v1m0 5v1m0 0v1m0 11v1m1-35v1m0 24v1m0 2v1m2-67v1m1-44v1m0 0v1m0 2v1m0 1v1m0 5v1m0 5v1m0 15v1m0 1v1m0 1v1m0 1v1m0 4v1m2 33v1m0 49v1m1-51v1m0 7v1m0 1v1m0 0v1m0 5v1m0 0v1m0 1v1m0 1v1m0 6v1m0 2v1m0 1v1m0 0v1m0 3v1m0 0v1m0 0v1m0 0v1m0 2v1m2-118v1m0 0v1m0 0v1m0 7v1m0 9v1m0 9v1m0 2v1m0 9v1m0 0v1m1-36v1m0 23v1m0 3v1m0 5v1m0 41v1m0 0v1m0 0v1m0 2v1m0 0v1m0 11v1m0 3v1m0 0v1m0 5v1m0 0v1m0 3v1m0 0v1m3-98v1m0 14v1m0 8v1m0 4v1m1-18v1m0 4v1m0 5v1m0 5v1m2-32v1m0 3v1m0 1v1m0 6v1m0 0v1m0 2v1m0 6v1m0 2v1m0 2v1m0 0v1m0 40v1m1-62v1m0 5v1m0 4v1m0 2v1m0 8v1m0 0v1m0 0v1m0 33v1m0 12v1m0 5v1m0 3v1"/>
<rect x="130.00" y="19.90" width="607.00" height="492.50" fill="none" stroke="#000" stroke-width="3.4"/>
<path d="M130.00 512.40v10.0M205.88 512.40v5.5M281.75 512.40v10.0M357.62 512.40v5.5M433.50 512.40v10.0M509.38 512.40v5.5M585.25 512.40v10.0M661.12 512.40v5.5M737.00 512.40v10.0M130.00 512.40h-10.0M130.00 471.36h-5.5M130.00 430.32h-10.0M130.00 389.27h-5.5M130.00 348.23h-10.0M130.00 307.19h-5.5M130.00 266.15h-10.0M130.00 225.11h-5.5M130.00 184.07h-10.0M130.00 143.02h-5.5M130.00 101.98h-10.0M130.00 60.94h-5.5M130.00 19.90h-10.0" stroke="#000" stroke-width="3.4" stroke-linecap="round" fill="none"/>
<text x="107.53" y="553.30" font-size="31.00">-50</text>
<text x="273.15" y="553.30" font-size="31.00">0</text>
<text x="416.30" y="553.30" font-size="31.00">50</text>
<text x="558.90" y="553.30" font-size="31.00">100</text>
<text x="710.65" y="553.30" font-size="31.00">150</text>
<text x="69.65" y="520.89" font-size="31.00">0.0</text>
<text x="69.65" y="438.81" font-size="31.00">0.5</text>
<text x="69.65" y="356.73" font-size="31.00">1.0</text>
<text x="69.65" y="274.49" font-size="31.00">1.5</text>
<text x="69.65" y="192.56" font-size="31.00">2.0</text>
<text x="69.65" y="110.48" font-size="31.00">2.5</text>
<text x="69.65" y="28.39" font-size="31.00">3.0</text>
<rect x="129.20" y="668.20" width="602.70" height="489.40" fill="none" stroke="#000" stroke-width="3.4"/>
<path d="M129.20 1157.60v10.0M179.42 1157.60v5.5M229.65 1157.60v10.0M279.88 1157.60v5.5M330.10 1157.60v10.0M380.33 1157.60v5.5M430.55 1157.60v10.0M480.78 1157.60v5.5M531.00 1157.60v10.0M581.23 1157.60v5.5M631.45 1157.60v10.0M681.67 1157.60v5.5M731.90 1157.60v10.0M129.20 1157.60h-10.0M129.20 1116.82h-5.5M129.20 1076.03h-10.0M129.20 1035.25h-5.5M129.20 994.47h-10.0M129.20 953.68h-5.5M129.20 912.90h-10.0M129.20 872.12h-5.5M129.20 831.33h-10.0M129.20 790.55h-5.5M129.20 749.77h-10.0M129.20 708.98h-5.5M129.20 668.20h-10.0" stroke="#000" stroke-width="3.4" stroke-linecap="round" fill="none"/>
<text x="98.12" y="1198.40" font-size="31.00">-100</text>
<text x="221.05" y="1198.40" font-size="31.00">0</text>
<text x="303.75" y="1198.40" font-size="31.00">100</text>
<text x="404.59" y="1198.40" font-size="31.00">200</text>
<text x="505.19" y="1198.40" font-size="31.00">300</text>
<text x="605.88" y="1198.40" font-size="31.00">400</text>
<text x="706.09" y="1198.40" font-size="31.00">500</text>
<text x="68.25" y="1165.99" font-size="31.00">0.0</text>
<text x="68.25" y="1084.43" font-size="31.00">0.5</text>
<text x="68.25" y="1002.86" font-size="31.00">1.0</text>
<text x="68.25" y="921.14" font-size="31.00">1.5</text>
<text x="68.25" y="839.73" font-size="31.00">2.0</text>
<text x="68.25" y="758.16" font-size="31.00">2.5</text>
<text x="68.25" y="676.60" font-size="31.00">3.0</text>
<rect x="1015.70" y="16.70" width="598.20" height="486.50" fill="none" stroke="#000" stroke-width="3.4"/>
<path d="M1015.70 503.20v10.0M1075.52 503.20v5.5M1135.34 503.20v10.0M1195.16 503.20v5.5M1254.98 503.20v10.0M1314.80 503.20v5.5M1374.62 503.20v10.0M1434.44 503.20v5.5M1494.26 503.20v10.0M1554.08 503.20v5.5M1613.90 503.20v10.0M1015.70 503.20h-10.0M1015.70 462.66h-5.5M1015.70 422.12h-10.0M1015.70 381.57h-5.5M1015.70 341.03h-10.0M1015.70 300.49h-5.5M1015.70 259.95h-10.0M1015.70 219.41h-5.5M1015.70 178.87h-10.0M1015.70 138.32h-5.5M1015.70 97.78h-10.0M1015.70 57.24h-5.5M1015.70 16.70h-10.0" stroke="#000" stroke-width="3.4" stroke-linecap="round" fill="none"/>
<text x="981.06" y="542.80" font-size="31.00">2540</text>
<text x="1100.70" y="542.80" font-size="31.00">2560</text>
<text x="1220.34" y="542.80" font-size="31.00">2580</text>
<text x="1339.98" y="542.80" font-size="31.00">2600</text>
<text x="1459.62" y="542.80" font-size="31.00">2620</text>
<text x="1579.26" y="542.80" font-size="31.00">2640</text>
<text x="957.25" y="511.69" font-size="31.00">0.0</text>
<text x="957.25" y="430.61" font-size="31.00">0.5</text>
<text x="957.25" y="349.53" font-size="31.00">1.0</text>
<text x="957.25" y="268.29" font-size="31.00">1.5</text>
<text x="957.25" y="187.36" font-size="31.00">2.0</text>
<text x="957.25" y="106.28" font-size="31.00">2.5</text>
<text x="957.25" y="25.19" font-size="31.00">3.0</text>
<rect x="1007.10" y="667.60" width="603.10" height="489.40" fill="none" stroke="#000" stroke-width="3.4"/>
<path d="M1007.10 1157.00v10.0M1050.18 1157.00v5.5M1093.26 1157.00v10.0M1136.34 1157.00v5.5M1179.41 1157.00v10.0M1222.49 1157.00v5.5M1265.57 1157.00v10.0M1308.65 1157.00v5.5M1351.73 1157.00v10.0M1394.81 1157.00v5.5M1437.89 1157.00v10.0M1480.96 1157.00v5.5M1524.04 1157.00v10.0M1567.12 1157.00v5.5M1610.20 1157.00v10.0M1007.10 1157.00h-10.0M1007.10 1116.22h-5.5M1007.10 1075.43h-10.0M1007.10 1034.65h-5.5M1007.10 993.87h-10.0M1007.10 953.08h-5.5M1007.10 912.30h-10.0M1007.10 871.52h-5.5M1007.10 830.73h-10.0M1007.10 789.95h-5.5M1007.10 749.17h-10.0M1007.10 708.38h-5.5M1007.10 667.60h-10.0" stroke="#000" stroke-width="3.4" stroke-linecap="round" fill="none"/>
<text transform="translate(978.28 1192.60) scale(1 0.930)" font-size="25.50">1500</text>
<text transform="translate(1064.44 1192.60) scale(1 0.930)" font-size="25.50">1550</text>
<text transform="translate(1150.60 1192.60) scale(1 0.930)" font-size="25.50">1600</text>
<text transform="translate(1236.76 1192.60) scale(1 0.930)" font-size="25.50">1650</text>
<text transform="translate(1322.91 1192.60) scale(1 0.930)" font-size="25.50">1700</text>
<text transform="translate(1409.07 1192.60) scale(1 0.930)" font-size="25.50">1750</text>
<text transform="translate(1495.23 1192.60) scale(1 0.930)" font-size="25.50">1800</text>
<text transform="translate(1581.38 1192.60) scale(1 0.930)" font-size="25.50">1850</text>
<text transform="translate(955.08 1163.08) scale(1 0.930)" font-size="25.50">0.0</text>
<text transform="translate(955.08 1081.52) scale(1 0.930)" font-size="25.50">0.5</text>
<text transform="translate(955.08 999.95) scale(1 0.930)" font-size="25.50">1.0</text>
<text transform="translate(955.08 918.26) scale(1 0.930)" font-size="25.50">1.5</text>
<text transform="translate(955.08 836.82) scale(1 0.930)" font-size="25.50">2.0</text>
<text transform="translate(955.08 755.25) scale(1 0.930)" font-size="25.50">2.5</text>
<text transform="translate(955.08 673.68) scale(1 0.930)" font-size="25.50">3.0</text>
<text transform="translate(3.47 74.70) scale(1 1.042)" font-size="86.00">A</text>
<text transform="translate(-3.88 722.00) scale(1 1.042)" font-size="86.00">B</text>
<text transform="translate(849.70 78.50) scale(1 1.042)" font-size="86.00">C</text>
<text transform="translate(877.92 727.70) scale(1 1.042)" font-size="86.00">D</text>
<text x="357.35" y="606.70" font-size="32.70">Time (sec)</text>
<text x="338.96" y="1257.10" font-size="39.20">Time (sec)</text>
<text x="1227.64" y="598.30" font-size="37.40">Time (sec)</text>
<text x="1232.45" y="1241.80" font-size="32.40">Time (sec)</text>
<text transform="translate(40.70 423.37) rotate(-90) scale(1.0105 1)" font-size="38.00">Extension (<tspan font-family="'Liberation Serif', 'Times New Roman', serif">&#956;</tspan>m)</text>
<text transform="translate(40.30 1067.76) rotate(-90) scale(1.0053 1)" font-size="38.00">Extension (<tspan font-family="'Liberation Serif', 'Times New Roman', serif">&#956;</tspan>m)</text>
<text transform="translate(933.30 409.33) rotate(-90) scale(0.9839 1)" font-size="37.20">Extension (<tspan font-family="'Liberation Serif', 'Times New Roman', serif">&#956;</tspan>m)</text>
<text transform="translate(932.90 1041.43) rotate(-90) scale(0.9029 1)" font-size="35.00">Extension (<tspan font-family="'Liberation Serif', 'Times New Roman', serif">&#956;</tspan>m)</text>
<text x="562.42" y="76.10" font-size="38.50">Multimer</text>
<text x="563.58" y="120.90" font-size="38.50">+ATP</text>
<text x="1390.52" y="66.10" font-size="38.50">Monomer</text>
<text x="1391.67" y="111.50" font-size="38.50">+ATP</text>
<text x="548.72" y="715.50" font-size="38.50">Multimer</text>
<text x="549.47" y="760.70" font-size="38.50">-ATP</text>
<text x="1423.32" y="708.50" font-size="38.50">Monomer</text>
<text x="1423.77" y="753.60" font-size="38.50">-ATP</text>
<text x="153.86" y="213.80" font-size="33.00">Flow-</text>
<text x="140.21" y="253.20" font-size="32.70">through</text>
<text x="510.45" y="243.60" font-size="33.00">Compaction</text>
<polygon points="193.5,272.9 199.3,268.8 233.2,313.3 238.9,309.1 243.6,332.9 221.9,322.5 227.2,317.7"/>
<polygon points="501.6,238.7 505.0,244.3 422.2,291.2 425.0,297.5 401.1,299.0 414.5,279.1 418.4,285.4"/>
</svg>
</body></html>
